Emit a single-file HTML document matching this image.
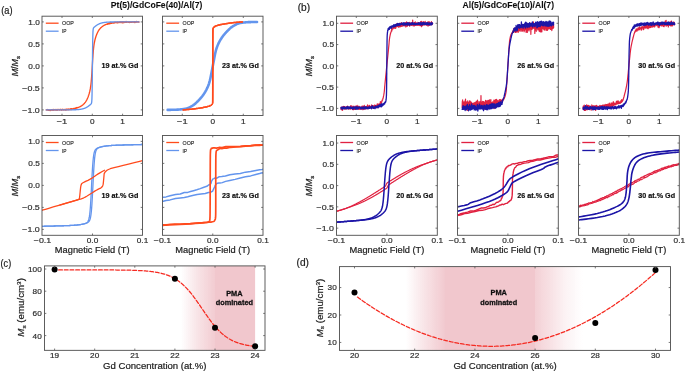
<!DOCTYPE html>
<html><head><meta charset="utf-8"><style>html,body{margin:0;padding:0;background:#fff;width:685px;height:371px;overflow:hidden}svg{display:block}</style></head><body>
<svg width="685" height="371" viewBox="0 0 685 371" font-family='"Liberation Sans", sans-serif'>
<rect width="685" height="371" fill="#fff"/>
<defs>
<clipPath id="ca1"><rect x="42" y="16.2" width="100.5" height="99.3"/></clipPath>
<clipPath id="ca2"><rect x="162.5" y="16.2" width="100.5" height="99.3"/></clipPath>
<clipPath id="cb1"><rect x="336.5" y="16.2" width="100.8" height="99.3"/></clipPath>
<clipPath id="cb2"><rect x="457.5" y="16.2" width="100.8" height="99.3"/></clipPath>
<clipPath id="cb3"><rect x="578.5" y="16.2" width="100.8" height="99.3"/></clipPath>
<clipPath id="ca3"><rect x="42" y="135.5" width="100.5" height="99.8"/></clipPath>
<clipPath id="ca4"><rect x="162.5" y="135.5" width="100.5" height="99.8"/></clipPath>
<clipPath id="cb4"><rect x="336.5" y="135.5" width="100.8" height="99.8"/></clipPath>
<clipPath id="cb5"><rect x="457.5" y="135.5" width="100.8" height="99.8"/></clipPath>
<clipPath id="cb6"><rect x="578.5" y="135.5" width="100.8" height="99.8"/></clipPath>
<clipPath id="cpc"><rect x="44.5" y="265.9" width="220.5" height="84.45"/></clipPath>
<clipPath id="cpd"><rect x="339.5" y="266.6" width="331" height="83.8"/></clipPath>
<linearGradient id="gc" x1="0" x2="1" y1="0" y2="0"><stop offset="0.0000" stop-color="#f1c7cd" stop-opacity="0"/><stop offset="0.2297" stop-color="#f1c7cd" stop-opacity="0.5"/><stop offset="0.4595" stop-color="#f1c7cd" stop-opacity="0.92"/><stop offset="0.4595" stop-color="#f1c7cd" stop-opacity="1"/><stop offset="1.0000" stop-color="#f1c7cd" stop-opacity="1"/></linearGradient>
<linearGradient id="gd" x1="0" x2="1" y1="0" y2="0"><stop offset="0.0000" stop-color="#f1c7cd" stop-opacity="0"/><stop offset="0.1102" stop-color="#f1c7cd" stop-opacity="0.5"/><stop offset="0.2203" stop-color="#f1c7cd" stop-opacity="0.95"/><stop offset="0.2203" stop-color="#f1c7cd" stop-opacity="1"/><stop offset="0.7288" stop-color="#f1c7cd" stop-opacity="1"/><stop offset="0.7288" stop-color="#f1c7cd" stop-opacity="0.84"/><stop offset="0.8102" stop-color="#f1c7cd" stop-opacity="0.55"/><stop offset="0.9051" stop-color="#f1c7cd" stop-opacity="0.2"/><stop offset="1.0000" stop-color="#f1c7cd" stop-opacity="0"/></linearGradient>
<filter id="soft" filterUnits="userSpaceOnUse" x="0" y="0" width="685" height="371"><feGaussianBlur stdDeviation="0.35"/></filter>
</defs>
<g filter="url(#soft)">
<rect x="180.91" y="265.9" width="74.19" height="84.45" fill="url(#gc)"/>
<rect x="405.67" y="266.6" width="177.59" height="83.8" fill="url(#gd)"/>
<path d="M46.24,109.89 46.4,109.81 46.55,109.96 46.71,110.12 46.86,110.01 47.02,110.15 47.17,109.87 47.33,109.53 47.48,110.01 47.64,110.05 47.79,109.75 47.95,109.79 48.1,109.85 48.26,110.13 48.41,109.89 48.57,109.7 48.72,110.24 48.88,110 49.03,110.38 49.18,110.22 49.34,110.36 49.49,109.94 49.65,110.21 49.8,109.8 49.96,109.83 50.11,109.92 50.27,110.54 50.42,110.02 50.58,109.89 50.73,109.84 50.89,110.28 51.04,110 51.2,110.13 51.35,110.08 51.51,109.59 51.66,110.08 51.82,109.88 51.97,109.63 52.13,110.02 52.28,109.89 52.44,109.83 52.59,109.85 52.75,110.18 52.9,109.84 53.05,109.5 53.21,110.27 53.36,109.63 53.52,109.82 53.67,110.02 53.83,109.33 53.98,109.65 54.14,110.17 54.29,109.83 54.45,109.7 54.6,109.9 54.76,109.67 54.91,109.86 55.07,109.67 55.22,109.46 55.38,110.02 55.53,109.79 55.69,109.96 55.84,109.8 56,110.15 56.15,109.99 56.31,109.88 56.46,109.59 56.61,109.52 56.77,110.17 56.92,110.03 57.08,109.65 57.23,110.35 57.39,109.94 57.54,109.84 57.7,109.48 57.85,109.63 58.01,109.89 58.16,109.9 58.32,109.87 58.47,109.4 58.63,109.91 58.78,109.88 58.94,109.7 59.09,109.82 59.25,109.84 59.4,110.08 59.56,109.78 59.71,109.9 59.87,109.47 60.02,109.6 60.17,109.78 60.33,109.59 60.48,109.85 60.64,109.48 60.79,109.76 60.95,109.6 61.1,110.09 61.26,109.65 61.41,110.19 61.57,110.27 61.72,109.81 61.88,109.96 62.03,109.68 62.19,109.13 62.34,109.93 62.5,109.87 62.65,109.65 62.81,109.57 62.96,109.74 63.12,109.74 63.27,109.5 63.43,109.54 63.58,109.94 63.74,109.69 63.89,109.65 64.04,109.93 64.2,109.58 64.35,109.87 64.51,109.38 64.66,109.58 64.82,109.6 64.97,109.77 65.13,109.64 65.28,110.12 65.44,109.89 65.59,109.49 65.75,110.14 65.9,109.34 66.06,110.02 66.21,109.35 66.37,109.76 66.52,109.32 66.68,109.49 66.83,109.92 66.99,109.17 67.14,109.11 67.3,109.5 67.45,109.54 67.6,109.5 67.76,109.7 67.91,109.15 68.07,109.57 68.22,109.43 68.38,109.61 68.53,109.55 68.69,109.71 68.84,109.03 69,109.39 69.15,109.08 69.31,109.31 69.46,109.49 69.62,109.37 69.77,109.42 69.93,109.25 70.08,109.34 70.24,109.3 70.39,109.57 70.55,109.4 70.7,108.73 70.86,109.33 71.01,109.41 71.16,109.02 71.32,108.72 71.47,109.46 71.63,109.11 71.78,109.2 71.94,109.47 72.09,108.79 72.25,108.97 72.4,108.92 72.56,109.12 72.71,108.77 72.87,109.01 73.02,108.88 73.18,109.11 73.33,109.11 73.49,108.41 73.64,108.86 73.8,108.62 73.95,108.68 74.11,108.76 74.26,108.74 74.42,108.41 74.57,108.62 74.72,108.55 74.88,108.47 75.03,108.13 75.19,108.22 75.34,108.27 75.5,108.48 75.65,108.65 75.81,108 75.96,107.95 76.12,108.2 76.27,107.98 76.43,107.87 76.58,107.81 76.74,107.74 76.89,108.06 77.05,107.49 77.2,107.84 77.36,107.79 77.51,107.74 77.67,107.68 77.82,107.63 77.98,107.57 78.13,107.52 78.29,107.46 78.44,107.4 78.59,107.34 78.75,107.27 78.9,107.21 79.06,107.14 79.21,107.07 79.37,107 79.52,106.93 79.68,106.86 79.83,106.78 79.99,106.7 80.14,106.62 80.3,106.54 80.45,106.46 80.61,106.37 80.76,106.29 80.92,106.2 81.07,106.1 81.23,106.01 81.38,105.91 81.54,105.81 81.69,105.71 81.85,105.6 82,105.49 82.15,105.38 82.31,105.27 82.46,105.15 82.62,105.03 82.77,104.9 82.93,104.77 83.08,104.64 83.24,104.5 83.39,104.36 83.55,104.22 83.7,104.07 83.86,103.92 84.01,103.76 84.17,103.59 84.32,103.43 84.48,103.25 84.63,103.07 84.79,102.89 84.94,102.69 85.1,102.49 85.25,102.29 85.41,102.08 85.56,101.86 85.71,101.63 85.87,101.39 86.02,101.15 86.18,100.9 86.33,100.64 86.49,100.37 86.64,100.09 86.8,99.8 86.95,99.49 87.11,99.18 87.26,98.86 87.42,98.52 87.57,98.17 87.73,97.81 87.88,97.43 88.04,97.04 88.19,96.64 88.35,96.21 88.5,95.78 88.66,95.32 88.81,94.84 88.97,94.35 89.12,93.83 89.28,93.28 89.43,92.71 89.58,92.11 89.74,91.47 89.89,90.78 90.05,90.05 90.2,89.26 90.36,88.4 90.51,87.46 90.67,86.42 90.82,85.26 90.98,83.97 91.13,82.52 91.29,80.9 91.44,79.09 91.6,77.08 91.75,74.87 91.91,72.49 92.06,69.96 92.22,67.34 92.37,64.68 92.53,62.06 92.68,59.52 92.84,57.12 92.99,54.9 93.14,52.87 93.3,51.05 93.45,49.41 93.61,47.95 93.76,46.64 93.92,45.48 94.07,44.43 94.23,43.48 94.38,42.61 94.54,41.81 94.69,41.08 94.85,40.39 95,39.75 95.16,39.14 95.31,38.56 95.47,38.02 95.62,37.5 95.78,37 95.93,36.52 96.09,36.06 96.24,35.62 96.4,35.2 96.55,34.79 96.7,34.4 96.86,34.02 97.01,33.66 97.17,33.31 97.32,32.97 97.48,32.65 97.63,32.33 97.79,32.03 97.94,31.74 98.1,31.46 98.25,31.19 98.41,30.92 98.56,30.67 98.72,30.43 98.87,30.19 99.03,29.96 99.18,29.74 99.34,29.53 99.49,29.32 99.65,29.12 99.8,28.93 99.96,28.74 100.11,28.56 100.27,28.39 100.42,28.22 100.57,28.06 100.73,27.9 100.88,27.74 101.04,27.59 101.19,27.45 101.35,27.31 101.5,27.17 101.66,27.04 101.81,26.91 101.97,26.78 102.12,26.66 102.28,26.54 102.43,26.43 102.59,26.32 102.74,26.21 102.9,26.1 103.05,26 103.21,25.9 103.36,25.8 103.52,25.7 103.67,25.61 103.83,25.52 103.98,25.43 104.13,25.35 104.29,25.26 104.44,25.18 104.6,25.1 104.75,25.03 104.91,24.95 105.06,24.88 105.22,24.8 105.37,24.73 105.53,24.67 105.68,24.6 105.84,24.53 105.99,24.47 106.15,24.41 106.3,24.35 106.46,24.29 106.61,24.23 106.77,24.17 106.92,24.12 107.08,24.07 107.23,24.01 107.39,23.96 107.54,23.86 107.69,23.6 107.85,24.27 108,23.98 108.16,23.68 108.31,23.58 108.47,23.74 108.62,23.32 108.78,23.5 108.93,23.83 109.09,23.72 109.24,23.22 109.4,23.28 109.55,23.86 109.71,22.97 109.86,23.14 110.02,22.9 110.17,23.33 110.33,23.27 110.48,23.46 110.64,22.46 110.79,23.15 110.95,22.65 111.1,23.21 111.25,22.97 111.41,23.43 111.56,23.06 111.72,22.68 111.87,23.24 112.03,22.6 112.18,22.77 112.34,23.11 112.49,22.95 112.65,22.91 112.8,22.78 112.96,22.89 113.11,22.95 113.27,22.79 113.42,22.96 113.58,23.01 113.73,22.66 113.89,22.4 114.04,23.02 114.2,22.59 114.35,22.75 114.51,22.82 114.66,22.32 114.82,22.67 114.97,22.12 115.12,22.7 115.28,22.38 115.43,22.53 115.59,22.65 115.74,22.29 115.9,22.47 116.05,22.26 116.21,22.41 116.36,22.68 116.52,22.4 116.67,22.35 116.83,22.1 116.98,22.58 117.14,22.34 117.29,22.78 117.45,22.14 117.6,22.59 117.76,22.77 117.91,22.3 118.07,21.98 118.22,22.66 118.38,22.54 118.53,22.44 118.68,22.53 118.84,22.13 118.99,22.43 119.15,22.4 119.3,22.05 119.46,22.4 119.61,22.07 119.77,22.44 119.92,22.49 120.08,22.65 120.23,21.67 120.39,22.24 120.54,22.08 120.7,22.15 120.85,22.09 121.01,22.12 121.16,21.62 121.32,22.39 121.47,22.52 121.63,22.37 121.78,22.45 121.94,21.9 122.09,21.88 122.24,22.34 122.4,22.45 122.55,22.17 122.71,21.71 122.86,22.81 123.02,21.93 123.17,22.34 123.33,21.78 123.48,22.34 123.64,22.12 123.79,22.44 123.95,22.3 124.1,21.67 124.26,21.82 124.41,22.14 124.57,22.26 124.72,22.52 124.88,22.13 125.03,22.03 125.19,22.04 125.34,22.04 125.5,22.31 125.65,22.02 125.81,22.01 125.96,21.66 126.11,21.51 126.27,22.03 126.42,22.2 126.58,22.01 126.73,22.15 126.89,22.18 127.04,22 127.2,22.26 127.35,21.82 127.51,22.01 127.66,21.91 127.82,22.02 127.97,22.17 128.13,22.22 128.28,22.03 128.44,22.11 128.59,21.9 128.75,21.97 128.9,22.32 129.06,21.94 129.21,22.31 129.37,22.12 129.52,22.03 129.67,22.5 129.83,21.93 129.98,21.91 130.14,21.99 130.29,22.06 130.45,22.05 130.6,22.21 130.76,22.02 130.91,22.09 131.07,21.92 131.22,22.26 131.38,21.88 131.53,21.9 131.69,21.98 131.84,22.05 132,21.79 132.15,22.38 132.31,21.81 132.46,21.87 132.62,21.86 132.77,21.83 132.93,22.1 133.08,22 133.23,21.76 133.39,21.82 133.54,21.87 133.7,22.33 133.85,21.79 134.01,21.62 134.16,21.66 134.32,21.86 134.47,22.34 134.63,21.68 134.78,21.96 134.94,22.59 135.09,21.82 135.25,22.32 135.4,22.26 135.56,22.09 135.71,21.58 135.87,22.02 136.02,21.85 136.18,21.46 136.33,21.5 136.49,21.95 136.64,21.98 136.79,22.25 136.95,22.1 137.1,21.8 137.26,21.81 137.41,21.89 137.57,21.65 137.72,22.12 137.88,21.93 138.03,21.72 138.19,21.76 138.34,21.63 138.5,21.81 138.65,21.99 138.81,21.82 138.96,22.18" fill="none" stroke="#ff4b1f" stroke-width="1.35" stroke-linejoin="round" stroke-linecap="round" clip-path="url(#ca1)"/>
<path d="M46.24,109.9 46.4,109.9 46.55,109.9 46.71,109.9 46.86,109.9 47.02,109.9 47.17,109.9 47.33,109.9 47.48,109.9 47.64,109.9 47.79,109.9 47.95,109.9 48.1,109.9 48.26,109.9 48.41,109.9 48.57,109.9 48.72,109.9 48.88,109.9 49.03,109.9 49.18,109.9 49.34,109.9 49.49,109.9 49.65,109.9 49.8,109.9 49.96,109.9 50.11,109.9 50.27,109.9 50.42,109.9 50.58,109.9 50.73,109.9 50.89,109.9 51.04,109.9 51.2,109.9 51.35,109.9 51.51,109.9 51.66,109.9 51.82,109.9 51.97,109.9 52.13,109.9 52.28,109.9 52.44,109.9 52.59,109.9 52.75,109.9 52.9,109.9 53.05,109.9 53.21,109.9 53.36,109.9 53.52,109.9 53.67,109.9 53.83,109.9 53.98,109.9 54.14,109.9 54.29,109.9 54.45,109.9 54.6,109.9 54.76,109.9 54.91,109.9 55.07,109.9 55.22,109.9 55.38,109.9 55.53,109.9 55.69,109.9 55.84,109.9 56,109.9 56.15,109.9 56.31,109.9 56.46,109.9 56.61,109.9 56.77,109.9 56.92,109.9 57.08,109.9 57.23,109.9 57.39,109.9 57.54,109.9 57.7,109.9 57.85,109.9 58.01,109.9 58.16,109.9 58.32,109.9 58.47,109.9 58.63,109.9 58.78,109.9 58.94,109.9 59.09,109.9 59.25,109.9 59.4,109.9 59.56,109.9 59.71,109.9 59.87,109.9 60.02,109.9 60.17,109.9 60.33,109.9 60.48,109.9 60.64,109.9 60.79,109.9 60.95,109.9 61.1,109.9 61.26,109.9 61.41,109.9 61.57,109.9 61.72,109.9 61.88,109.9 62.03,109.9 62.19,109.9 62.34,109.89 62.5,109.89 62.65,109.89 62.81,109.89 62.96,109.89 63.12,109.89 63.27,109.89 63.43,109.89 63.58,109.89 63.74,109.89 63.89,109.89 64.04,109.89 64.2,109.89 64.35,109.89 64.51,109.89 64.66,109.89 64.82,109.89 64.97,109.89 65.13,109.89 65.28,109.89 65.44,109.89 65.59,109.89 65.75,109.89 65.9,109.89 66.06,109.89 66.21,109.89 66.37,109.89 66.52,109.88 66.68,109.88 66.83,109.88 66.99,109.88 67.14,109.88 67.3,109.88 67.45,109.88 67.6,109.88 67.76,109.88 67.91,109.88 68.07,109.88 68.22,109.88 68.38,109.87 68.53,109.87 68.69,109.87 68.84,109.87 69,109.87 69.15,109.87 69.31,109.87 69.46,109.87 69.62,109.86 69.77,109.86 69.93,109.86 70.08,109.86 70.24,109.86 70.39,109.86 70.55,109.86 70.7,109.85 70.86,109.85 71.01,109.85 71.16,109.85 71.32,109.84 71.47,109.84 71.63,109.84 71.78,109.84 71.94,109.84 72.09,109.83 72.25,109.83 72.4,109.83 72.56,109.82 72.71,109.82 72.87,109.82 73.02,109.81 73.18,109.81 73.33,109.81 73.49,109.8 73.64,109.8 73.8,109.79 73.95,109.79 74.11,109.79 74.26,109.78 74.42,109.78 74.57,109.77 74.72,109.77 74.88,109.76 75.03,109.75 75.19,109.75 75.34,109.74 75.5,109.74 75.65,109.73 75.81,109.72 75.96,109.71 76.12,109.71 76.27,109.7 76.43,109.69 76.58,109.68 76.74,109.67 76.89,109.66 77.05,109.65 77.2,109.64 77.36,109.63 77.51,109.62 77.67,109.61 77.82,109.6 77.98,109.59 78.13,109.57 78.29,109.56 78.44,109.55 78.59,109.53 78.75,109.52 78.9,109.5 79.06,109.49 79.21,109.47 79.37,109.45 79.52,109.43 79.68,109.41 79.83,109.4 79.99,109.37 80.14,109.35 80.3,109.33 80.45,109.31 80.61,109.29 80.76,109.26 80.92,109.24 81.07,109.21 81.23,109.18 81.38,109.15 81.54,109.12 81.69,109.09 81.85,109.06 82,109.03 82.15,109 82.31,108.96 82.46,108.92 82.62,108.89 82.77,108.85 82.93,108.81 83.08,108.76 83.24,108.72 83.39,108.68 83.55,108.63 83.7,108.58 83.86,108.53 84.01,108.48 84.17,108.43 84.32,108.37 84.48,108.32 84.63,108.26 84.79,108.2 84.94,108.14 85.1,108.07 85.25,108.01 85.41,107.94 85.56,107.87 85.71,107.8 85.87,107.72 86.02,107.64 86.18,107.57 86.33,107.49 86.49,107.4 86.64,107.32 86.8,107.23 86.95,107.14 87.11,107.05 87.26,106.95 87.42,106.86 87.57,106.76 87.73,106.66 87.88,106.56 88.04,106.45 88.19,106.34 88.35,106.23 88.5,106.12 88.66,106.01 88.81,105.89 88.97,105.77 89.12,105.65 89.28,105.53 89.43,105.41 89.58,105.28 89.74,105.15 89.89,105.02 90.05,104.89 90.2,104.76 90.36,104.62 90.51,104.49 90.67,104.35 90.82,104.2 90.98,104.05 91.13,103.87 91.29,103.65 91.44,103.32 91.6,102.73 91.75,101.56 91.91,99.11 92.06,94.11 92.22,84.87 92.37,70.92 92.53,55.36 92.68,42.91 92.84,35.32 92.99,31.4 93.14,29.51 93.3,28.6 93.45,28.13 93.61,27.84 93.76,27.64 93.92,27.48 94.07,27.33 94.23,27.19 94.38,27.05 94.54,26.92 94.69,26.79 94.85,26.66 95,26.53 95.16,26.4 95.31,26.28 95.47,26.16 95.62,26.04 95.78,25.92 95.93,25.8 96.09,25.69 96.24,25.58 96.4,25.47 96.55,25.36 96.7,25.25 96.86,25.15 97.01,25.05 97.17,24.95 97.32,24.85 97.48,24.76 97.63,24.67 97.79,24.58 97.94,24.49 98.1,24.4 98.25,24.32 98.41,24.24 98.56,24.16 98.72,24.09 98.87,24.01 99.03,23.94 99.18,23.87 99.34,23.8 99.49,23.73 99.65,23.67 99.8,23.61 99.96,23.55 100.11,23.49 100.27,23.43 100.42,23.38 100.57,23.32 100.73,23.27 100.88,23.22 101.04,23.17 101.19,23.13 101.35,23.08 101.5,23.04 101.66,23 101.81,22.96 101.97,22.92 102.12,22.88 102.28,22.84 102.43,22.81 102.59,22.77 102.74,22.74 102.9,22.71 103.05,22.68 103.21,22.65 103.36,22.62 103.52,22.59 103.67,22.57 103.83,22.54 103.98,22.52 104.13,22.49 104.29,22.47 104.44,22.45 104.6,22.43 104.75,22.41 104.91,22.39 105.06,22.37 105.22,22.35 105.37,22.33 105.53,22.32 105.68,22.3 105.84,22.28 105.99,22.27 106.15,22.25 106.3,22.24 106.46,22.23 106.61,22.21 106.77,22.2 106.92,22.19 107.08,22.18 107.23,22.17 107.39,22.16 107.54,22.15 107.69,22.14 107.85,22.13 108,22.12 108.16,22.11 108.31,22.1 108.47,22.09 108.62,22.09 108.78,22.08 108.93,22.07 109.09,22.07 109.24,22.06 109.4,22.05 109.55,22.05 109.71,22.04 109.86,22.04 110.02,22.03 110.17,22.02 110.33,22.02 110.48,22.01 110.64,22.01 110.79,22.01 110.95,22 111.1,22 111.25,21.99 111.41,21.99 111.56,21.99 111.72,21.98 111.87,21.98 112.03,21.98 112.18,21.97 112.34,21.97 112.49,21.97 112.65,21.97 112.8,21.96 112.96,21.96 113.11,21.96 113.27,21.96 113.42,21.95 113.58,21.95 113.73,21.95 113.89,21.95 114.04,21.95 114.2,21.94 114.35,21.94 114.51,21.94 114.66,21.94 114.82,21.94 114.97,21.94 115.12,21.93 115.28,21.93 115.43,21.93 115.59,21.93 115.74,21.93 115.9,21.93 116.05,21.93 116.21,21.93 116.36,21.92 116.52,21.92 116.67,21.92 116.83,21.92 116.98,21.92 117.14,21.92 117.29,21.92 117.45,21.92 117.6,21.92 117.76,21.92 117.91,21.92 118.07,21.92 118.22,21.91 118.38,21.91 118.53,21.91 118.68,21.91 118.84,21.91 118.99,21.91 119.15,21.91 119.3,21.91 119.46,21.91 119.61,21.91 119.77,21.91 119.92,21.91 120.08,21.91 120.23,21.91 120.39,21.91 120.54,21.91 120.7,21.91 120.85,21.91 121.01,21.91 121.16,21.91 121.32,21.91 121.47,21.91 121.63,21.91 121.78,21.91 121.94,21.91 122.09,21.91 122.24,21.91 122.4,21.9 122.55,21.9 122.71,21.9 122.86,21.9 123.02,21.9 123.17,21.9 123.33,21.9 123.48,21.9 123.64,21.9 123.79,21.9 123.95,21.9 124.1,21.9 124.26,21.9 124.41,21.9 124.57,21.9 124.72,21.9 124.88,21.9 125.03,21.9 125.19,21.9 125.34,21.9 125.5,21.9 125.65,21.9 125.81,21.9 125.96,21.9 126.11,21.9 126.27,21.9 126.42,21.9 126.58,21.9 126.73,21.9 126.89,21.9 127.04,21.9 127.2,21.9 127.35,21.9 127.51,21.9 127.66,21.9 127.82,21.9 127.97,21.9 128.13,21.9 128.28,21.9 128.44,21.9 128.59,21.9 128.75,21.9 128.9,21.9 129.06,21.9 129.21,21.9 129.37,21.9 129.52,21.9 129.67,21.9 129.83,21.9 129.98,21.9 130.14,21.9 130.29,21.9 130.45,21.9 130.6,21.9 130.76,21.9 130.91,21.9 131.07,21.9 131.22,21.9 131.38,21.9 131.53,21.9 131.69,21.9 131.84,21.9 132,21.9 132.15,21.9 132.31,21.9 132.46,21.9 132.62,21.9 132.77,21.9 132.93,21.9 133.08,21.9 133.23,21.9 133.39,21.9 133.54,21.9 133.7,21.9 133.85,21.9 134.01,21.9 134.16,21.9 134.32,21.9 134.47,21.9 134.63,21.9 134.78,21.9 134.94,21.9 135.09,21.9 135.25,21.9 135.4,21.9 135.56,21.9 135.71,21.9 135.87,21.9 136.02,21.9 136.18,21.9 136.33,21.9 136.49,21.9 136.64,21.9 136.79,21.9 136.95,21.9 137.1,21.9 137.26,21.9 137.41,21.9 137.57,21.9 137.72,21.9 137.88,21.9 138.03,21.9 138.19,21.9 138.34,21.9 138.5,21.9 138.65,21.9 138.81,21.9 138.96,21.9" fill="none" stroke="#6495ed" stroke-width="1.35" stroke-linejoin="round" stroke-linecap="round" clip-path="url(#ca1)"/>
<path d="M167.66,109.88 167.96,109.87 168.26,109.87 168.56,109.86 168.86,109.86 169.15,109.85 169.45,109.85 169.75,109.84 170.05,109.84 170.35,109.83 170.65,109.83 170.95,109.82 171.25,109.81 171.55,109.81 171.84,109.8 172.14,109.79 172.44,109.79 172.74,109.78 173.04,109.77 173.34,109.76 173.64,109.76 173.94,109.75 174.24,109.74 174.53,109.73 174.83,109.72 175.13,109.71 175.43,109.7 175.73,109.69 176.03,109.69 176.33,109.68 176.63,109.67 176.93,109.65 177.22,109.64 177.52,109.63 177.82,109.61 178.12,109.59 178.42,109.58 178.72,109.56 179.02,109.54 179.32,109.51 179.62,109.49 179.91,109.47 180.21,109.44 180.51,109.41 180.81,109.39 181.11,109.36 181.41,109.33 181.71,109.29 182.01,109.26 182.31,109.23 182.6,109.19 182.9,109.15 183.2,109.11 183.5,109.07 183.8,109.03 184.1,108.99 184.4,108.95 184.7,108.9 185,108.86 185.29,108.81 185.59,108.76 185.89,108.7 186.19,108.62 186.49,108.54 186.79,108.46 187.09,108.36 187.39,108.25 187.68,108.14 187.98,108.02 188.28,107.9 188.58,107.77 188.88,107.63 189.18,107.49 189.48,107.34 189.78,107.19 190.08,107.03 190.37,106.88 190.67,106.71 190.97,106.55 191.27,106.38 191.57,106.22 191.87,106.05 192.17,105.88 192.47,105.7 192.77,105.51 193.06,105.31 193.36,105.11 193.66,104.89 193.96,104.67 194.26,104.43 194.56,104.19 194.86,103.95 195.16,103.69 195.46,103.43 195.75,103.17 196.05,102.9 196.35,102.62 196.65,102.34 196.95,102.05 197.25,101.76 197.55,101.46 197.85,101.16 198.15,100.86 198.44,100.55 198.74,100.25 199.04,99.94 199.34,99.62 199.64,99.3 199.94,98.98 200.24,98.65 200.54,98.31 200.84,97.97 201.13,97.62 201.43,97.26 201.73,96.89 202.03,96.52 202.33,96.13 202.63,95.74 202.93,95.33 203.23,94.92 203.53,94.5 203.82,94.06 204.12,93.61 204.42,93.15 204.72,92.68 205.02,92.19 205.32,91.7 205.62,91.18 205.92,90.65 206.22,90.1 206.51,89.53 206.81,88.93 207.11,88.3 207.41,87.65 207.71,86.96 208.01,86.24 208.31,85.47 208.61,84.67 208.91,83.83 209.2,82.93 209.5,81.99 209.8,80.91 210.1,79.67 210.4,78.31 210.7,76.85 211,75.32 211.3,73.77 211.6,72.22 211.89,70.69 212.19,69.15 212.49,67.55 212.79,65.95 213.09,64.35 213.39,62.75 213.69,61.2 213.99,59.68 214.29,58.12 214.58,56.57 214.88,55.05 215.18,53.58 215.48,52.21 215.78,50.96 216.08,49.87 216.38,48.92 216.68,48.03 216.98,47.18 217.27,46.37 217.57,45.61 217.87,44.88 218.17,44.19 218.47,43.53 218.77,42.91 219.07,42.31 219.37,41.73 219.67,41.18 219.96,40.65 220.26,40.14 220.56,39.64 220.86,39.15 221.16,38.68 221.46,38.22 221.76,37.77 222.06,37.33 222.35,36.91 222.65,36.49 222.95,36.09 223.25,35.69 223.55,35.31 223.85,34.93 224.15,34.57 224.45,34.21 224.75,33.86 225.04,33.51 225.34,33.17 225.64,32.84 225.94,32.52 226.24,32.2 226.54,31.88 226.84,31.57 227.14,31.26 227.44,30.96 227.73,30.66 228.03,30.36 228.33,30.06 228.63,29.77 228.93,29.48 229.23,29.2 229.53,28.92 229.83,28.65 230.13,28.38 230.42,28.12 230.72,27.87 231.02,27.62 231.32,27.38 231.62,27.15 231.92,26.92 232.22,26.71 232.52,26.5 232.82,26.3 233.11,26.11 233.41,25.93 233.71,25.76 234.01,25.59 234.31,25.43 234.61,25.26 234.91,25.1 235.21,24.93 235.51,24.78 235.8,24.62 236.1,24.47 236.4,24.32 236.7,24.18 237,24.04 237.3,23.91 237.6,23.78 237.9,23.66 238.2,23.55 238.49,23.45 238.79,23.35 239.09,23.26 239.39,23.18 239.69,23.11 239.99,23.05 240.29,22.99 240.59,22.95 240.89,22.9 241.18,22.85 241.48,22.81 241.78,22.77 242.08,22.73 242.38,22.69 242.68,22.65 242.98,22.61 243.28,22.58 243.58,22.54 243.87,22.51 244.17,22.48 244.47,22.45 244.77,22.42 245.07,22.39 245.37,22.36 245.67,22.33 245.97,22.31 246.27,22.29 246.56,22.27 246.86,22.24 247.16,22.23 247.46,22.21 247.76,22.19 248.06,22.17 248.36,22.16 248.66,22.15 248.96,22.14 249.25,22.12 249.55,22.12 249.85,22.11 250.15,22.1 250.45,22.09 250.75,22.08 251.05,22.07 251.35,22.06 251.65,22.05 251.94,22.05 252.24,22.04 252.54,22.03 252.84,22.02 253.14,22.01 253.44,22.01 253.74,22 254.04,21.99 254.34,21.99 254.63,21.98 254.93,21.97 255.23,21.97 255.53,21.96 255.83,21.96 256.13,21.95 256.43,21.95 256.73,21.94 257.03,21.94" fill="none" stroke="#6495ed" stroke-width="2.6" stroke-linejoin="round" stroke-linecap="round" clip-path="url(#ca2)"/>
<path d="M183.15,109.9 183.28,109.89 183.54,109.87 183.93,109.84 184.44,109.8 185.08,109.75 185.86,109.68 186.76,109.61 187.79,109.53 188.78,109.44 189.74,109.36 190.67,109.27 191.57,109.18 192.43,109.09 193.26,108.99 194.06,108.89 194.82,108.79 195.58,108.69 196.35,108.59 197.11,108.48 197.87,108.37 198.63,108.26 199.4,108.14 200.16,108.02 200.92,107.9 201.68,107.78 202.43,107.65 203.18,107.51 203.92,107.36 204.66,107.22 205.4,107.06 206.12,106.9 206.85,106.74 207.53,106.56 208.17,106.38 208.76,106.18 209.32,105.97 209.83,105.76 210.29,105.53 210.72,105.29 211.1,105.05 211.44,104.78 211.73,104.5 211.99,104.2 212.2,103.88 212.36,103.55 212.49,103.2 212.57,102.83 212.61,102.45 212.64,101.01 212.67,98.52 212.69,94.98 212.71,90.39 212.72,84.74 212.73,78.05 212.74,70.3 212.74,61.5 212.74,53.75 212.75,47.06 212.77,41.41 212.79,36.82 212.81,33.28 212.84,30.79 212.87,29.35 212.91,28.97 212.99,28.6 213.12,28.25 213.28,27.92 213.49,27.6 213.74,27.3 214.04,27.02 214.38,26.75 214.76,26.51 215.18,26.27 215.65,26.04 216.16,25.83 216.71,25.62 217.31,25.42 217.95,25.24 218.63,25.06 219.35,24.9 220.08,24.74 220.82,24.58 221.56,24.44 222.3,24.29 223.05,24.16 223.8,24.02 224.56,23.9 225.32,23.78 226.08,23.66 226.85,23.54 227.61,23.43 228.37,23.32 229.13,23.21 229.9,23.11 230.66,23.01 231.42,22.91 232.22,22.81 233.05,22.71 233.91,22.62 234.8,22.53 235.73,22.44 236.7,22.36 237.69,22.27 238.72,22.19 239.62,22.12 240.39,22.05 241.04,22 241.55,21.96 241.94,21.93 242.2,21.91 242.32,21.9" fill="none" stroke="#ff4b1f" stroke-width="1.5" stroke-linejoin="round" stroke-linecap="round" clip-path="url(#ca2)"/>
<path d="M183.31,109.9 183.44,109.89 183.69,109.87 184.08,109.84 184.59,109.8 185.24,109.75 186.01,109.68 186.91,109.61 187.94,109.53 188.93,109.44 189.9,109.36 190.83,109.27 191.72,109.18 192.59,109.09 193.41,108.99 194.21,108.89 194.97,108.79 195.74,108.69 196.5,108.59 197.26,108.48 198.02,108.37 198.79,108.26 199.55,108.14 200.31,108.02 201.07,107.9 201.83,107.78 202.58,107.65 203.33,107.51 204.08,107.36 204.81,107.22 205.55,107.06 206.28,106.9 207,106.74 207.68,106.56 208.32,106.38 208.92,106.18 209.47,105.97 209.98,105.76 210.45,105.53 210.87,105.29 211.25,105.05 211.59,104.78 211.89,104.5 212.14,104.2 212.35,103.88 212.52,103.55 212.64,103.2 212.72,102.83 212.76,102.45 212.79,101.01 212.82,98.52 212.84,94.98 212.86,90.39 212.88,84.74 212.89,78.05 212.89,70.3 212.89,61.5 212.9,53.75 212.91,47.06 212.92,41.41 212.94,36.82 212.96,33.28 212.99,30.79 213.02,29.35 213.06,28.97 213.14,28.6 213.27,28.25 213.43,27.92 213.64,27.6 213.9,27.3 214.19,27.02 214.53,26.75 214.91,26.51 215.34,26.27 215.8,26.04 216.31,25.83 216.87,25.62 217.46,25.42 218.1,25.24 218.78,25.06 219.51,24.9 220.24,24.74 220.97,24.58 221.71,24.44 222.45,24.29 223.2,24.16 223.95,24.02 224.71,23.9 225.47,23.78 226.24,23.66 227,23.54 227.76,23.43 228.52,23.32 229.29,23.21 230.05,23.11 230.81,23.01 231.57,22.91 232.37,22.81 233.2,22.71 234.06,22.62 234.96,22.53 235.89,22.44 236.85,22.36 237.84,22.27 238.87,22.19 239.77,22.12 240.55,22.05 241.19,22 241.7,21.96 242.09,21.93 242.35,21.91 242.48,21.9" fill="none" stroke="#ff4b1f" stroke-width="1.5" stroke-linejoin="round" stroke-linecap="round" clip-path="url(#ca2)"/>
<path d="M341.05,109.36 341.15,107.47 341.25,108.01 341.36,107.7 341.46,109.41 341.56,108.27 341.66,108.47 341.76,108.45 341.86,109.88 341.97,109.51 342.07,107.2 342.17,107.64 342.27,108.47 342.37,107.97 342.47,107.31 342.58,110.31 342.68,108.5 342.78,108.19 342.88,107.37 342.98,106.51 343.09,106.99 343.19,107.69 343.29,107.69 343.39,107.28 343.49,108.41 343.59,107.98 343.7,107.18 343.8,106.24 343.9,108.08 344,107.99 344.1,107.77 344.21,106.8 344.31,107.97 344.41,106.69 344.51,108.76 344.61,108.1 344.71,108.11 344.82,107.27 344.92,107.05 345.02,109.22 345.12,108.71 345.22,107.65 345.32,107.31 345.43,109.23 345.53,107.04 345.63,107.51 345.73,107.51 345.83,108.33 345.94,107.05 346.04,108.13 346.14,106.99 346.24,108.7 346.34,108.65 346.44,107.14 346.55,108.51 346.65,107.34 346.75,106.82 346.85,108.7 346.95,107.85 347.06,108.21 347.16,106.91 347.26,108.44 347.36,108.28 347.46,106.87 347.56,106 347.67,106.2 347.77,107.84 347.87,107.71 347.97,106.59 348.07,108 348.17,108.72 348.28,107.79 348.38,107.5 348.48,108.59 348.58,107.87 348.68,109.11 348.79,107.32 348.89,108.53 348.99,108 349.09,107.7 349.19,107.35 349.29,108.16 349.4,107.45 349.5,108.63 349.6,108.18 349.7,108.74 349.8,106.9 349.9,107.89 350.01,108.49 350.11,108.16 350.21,108.05 350.31,107.26 350.41,109.21 350.52,108.73 350.62,108.17 350.72,105.69 350.82,107.03 350.92,107.99 351.02,107.24 351.13,106.08 351.23,108.04 351.33,108.15 351.43,106.8 351.53,107.02 351.64,107.26 351.74,108.26 351.84,105.75 351.94,106.37 352.04,107.34 352.14,107.24 352.25,109.54 352.35,107.27 352.45,107.98 352.55,107.44 352.65,107.23 352.75,108.1 352.86,109.24 352.96,107.49 353.06,108.43 353.16,108.08 353.26,106.52 353.37,108.08 353.47,109.76 353.57,106.75 353.67,107.57 353.77,106.84 353.87,106.1 353.98,107.76 354.08,109.31 354.18,108.54 354.28,108.8 354.38,108.2 354.48,107.34 354.59,109.47 354.69,107.47 354.79,108.05 354.89,107.5 354.99,107.85 355.1,108.02 355.2,107.81 355.3,107.27 355.4,108.27 355.5,109.18 355.6,107.77 355.71,106.17 355.81,106.05 355.91,106.61 356.01,107.13 356.11,108.3 356.22,106.5 356.32,107.77 356.42,108.93 356.52,107.97 356.62,107.64 356.72,108.08 356.83,107.78 356.93,108.63 357.03,108.02 357.13,105.25 357.23,107.76 357.33,107.9 357.44,107.24 357.54,107.09 357.64,108.25 357.74,107.86 357.84,106.9 357.95,107.45 358.05,107.57 358.15,106.35 358.25,108.25 358.35,107.6 358.45,108.11 358.56,106.39 358.66,109.32 358.76,108.23 358.86,108.1 358.96,107.35 359.07,107.13 359.17,106.46 359.27,108.98 359.37,107 359.47,107.89 359.57,108.2 359.68,107.17 359.78,108.41 359.88,109.39 359.98,107.94 360.08,108.89 360.18,108.17 360.29,107.3 360.39,107.34 360.49,107.28 360.59,107.77 360.69,108.91 360.8,108.24 360.9,108.38 361,108.63 361.1,107.22 361.2,108.14 361.3,109.27 361.41,106.99 361.51,107.67 361.61,107.27 361.71,107.48 361.81,107.03 361.91,107.53 362.02,106.18 362.12,107.2 362.22,107.22 362.32,107.2 362.42,108.79 362.53,107.69 362.63,107.76 362.73,107.36 362.83,109.64 362.93,106.14 363.03,108.73 363.14,108.55 363.24,108.97 363.34,107.76 363.44,107.59 363.54,108.12 363.65,107.43 363.75,107.37 363.85,107.03 363.95,109.1 364.05,107.52 364.15,105.71 364.26,105.29 364.36,108.33 364.46,107.52 364.56,108.18 364.66,106.08 364.76,108.43 364.87,107.86 364.97,107.47 365.07,108.27 365.17,108.25 365.27,107.83 365.38,109.21 365.48,108.65 365.58,107.76 365.68,107.28 365.78,107.56 365.88,108.9 365.99,107.78 366.09,107.73 366.19,106.9 366.29,107.44 366.39,108.12 366.49,106.82 366.6,107.84 366.7,108.34 366.8,108.02 366.9,106.1 367,108.4 367.11,106.33 367.21,107.72 367.31,106.5 367.41,107.81 367.51,107.42 367.61,104.92 367.72,106.62 367.82,107.69 367.92,108.51 368.02,106.97 368.12,106.21 368.23,107.21 368.33,108.71 368.43,107.45 368.53,107.19 368.63,107.11 368.73,106.07 368.84,106.91 368.94,106.48 369.04,108.1 369.14,106.42 369.24,105.36 369.34,106.48 369.45,106.91 369.55,106.99 369.65,105.59 369.75,107.89 369.85,107.18 369.96,106.69 370.06,106.43 370.16,107.43 370.26,106.79 370.36,107.27 370.46,107.62 370.57,107.13 370.67,107.98 370.77,107.01 370.87,106.24 370.97,107.79 371.08,107.16 371.18,106.38 371.28,107.85 371.38,106.77 371.48,108.27 371.58,105.93 371.69,104.92 371.79,105.16 371.89,107.9 371.99,106.22 372.09,106.74 372.19,106.74 372.3,105.5 372.4,107.92 372.5,105.89 372.6,106.82 372.7,105.56 372.81,106.59 372.91,107.31 373.01,106.48 373.11,106.08 373.21,106.66 373.31,106.26 373.42,107.11 373.52,108.46 373.62,105.87 373.72,106.02 373.82,106.48 373.92,106.53 374.03,105.69 374.13,106.7 374.23,107.14 374.33,106.69 374.43,105.11 374.54,107.68 374.64,105.47 374.74,107.5 374.84,107.38 374.94,105.35 375.04,106.49 375.15,107.49 375.25,106.67 375.35,105.42 375.45,105.31 375.55,106.66 375.66,105.93 375.76,105.64 375.86,106.77 375.96,105.89 376.06,106.19 376.16,106.59 376.27,106.52 376.37,105.54 376.47,106.01 376.57,106.49 376.67,107.78 376.77,104.99 376.88,105.72 376.98,105.11 377.08,104.8 377.18,105.28 377.28,103.81 377.39,106.4 377.49,104.97 377.59,105.88 377.69,103.99 377.79,104.07 377.89,107.14 378,106.25 378.1,104.81 378.2,105.06 378.3,104.64 378.4,105.28 378.5,104.77 378.61,104.55 378.71,105.11 378.81,104.12 378.91,106.85 379.01,104.77 379.12,105.69 379.22,103.93 379.32,104.87 379.42,105.37 379.52,104.23 379.62,105.25 379.73,105.18 379.83,105.67 379.93,104.28 380.03,103.77 380.13,103.25 380.24,104.15 380.34,101.52 380.44,103.82 380.54,103.79 380.64,103.15 380.74,102.66 380.85,103.58 380.95,103.35 381.05,103.05 381.15,102.8 381.25,103.27 381.35,101.85 381.46,102.56 381.56,101.85 381.66,102.37 381.76,101.51 381.86,101.29 381.97,101.46 382.07,100.15 382.17,100.64 382.27,99.88 382.37,99.97 382.47,100.23 382.58,99.87 382.68,99.39 382.78,99.17 382.88,98.85 382.98,98.55 383.09,98.28 383.19,97.76 383.29,97.34 383.39,96.9 383.49,96.42 383.59,95.92 383.7,95.39 383.8,94.83 383.9,94.24 384,93.61 384.1,92.95 384.2,92.25 384.31,91.37 384.41,90.23 384.51,88.96 384.61,87.72 384.71,86.61 384.82,85.54 384.92,84.48 385.02,83.43 385.12,82.39 385.22,81.36 385.32,80.34 385.43,79.32 385.53,78.32 385.63,77.31 385.73,76.31 385.83,75.32 385.93,74.33 386.04,73.33 386.14,72.34 386.24,71.35 386.34,70.36 386.44,69.37 386.55,68.37 386.65,67.36 386.75,66.36 386.85,65.34 386.95,64.34 387.05,63.33 387.16,62.33 387.26,61.34 387.36,60.35 387.46,59.36 387.56,58.37 387.67,57.37 387.77,56.38 387.87,55.39 387.97,54.39 388.07,53.38 388.17,52.38 388.28,51.36 388.38,50.34 388.48,49.31 388.58,48.27 388.68,47.22 388.78,46.16 388.89,45.09 388.99,43.98 389.09,42.74 389.19,41.47 389.29,40.33 389.4,39.45 389.5,38.75 389.6,38.09 389.7,37.46 389.8,36.87 389.9,36.31 390.01,35.78 390.11,35.28 390.21,34.8 390.31,34.36 390.41,33.94 390.51,33.49 390.62,33.4 390.72,32.84 390.82,32.65 390.92,32.18 391.02,31.87 391.13,31.94 391.23,31.62 391.33,30.73 391.43,30.42 391.53,30.97 391.63,29.49 391.74,29.07 391.84,31.01 391.94,29.67 392.04,28.13 392.14,28.91 392.25,29.06 392.35,29.15 392.45,29.21 392.55,28.83 392.65,28.92 392.75,28.28 392.86,28.54 392.96,28.45 393.06,28.94 393.16,27.91 393.26,28.5 393.36,27.82 393.47,26.71 393.57,27.2 393.67,25.68 393.77,27.06 393.87,27.24 393.98,27.03 394.08,28.18 394.18,26.44 394.28,27.94 394.38,25.82 394.48,26.86 394.59,27.47 394.69,27.19 394.79,27.15 394.89,26.51 394.99,26.21 395.1,25.57 395.2,27.15 395.3,28.36 395.4,27 395.5,28.04 395.6,26.31 395.71,25.33 395.81,25.63 395.91,27.87 396.01,26.74 396.11,24.53 396.21,25 396.32,26.42 396.42,25.02 396.52,23.79 396.62,24.74 396.72,25.68 396.83,25.46 396.93,25.2 397.03,26.22 397.13,26.56 397.23,25.25 397.33,26.4 397.44,25.62 397.54,25.45 397.64,23.52 397.74,26.2 397.84,25.56 397.94,25.57 398.05,25.03 398.15,24.49 398.25,26.1 398.35,26.03 398.45,27.1 398.56,26.08 398.66,24.82 398.76,26.25 398.86,26.1 398.96,25.54 399.06,24.56 399.17,24.76 399.27,25.68 399.37,25.37 399.47,26.69 399.57,26.11 399.68,23.73 399.78,26.96 399.88,25.38 399.98,23.14 400.08,25.37 400.18,25.73 400.29,25.08 400.39,25.01 400.49,25.06 400.59,26.58 400.69,25.09 400.79,25.68 400.9,25.41 401,24.73 401.1,24.37 401.2,24.14 401.3,26.31 401.41,22.53 401.51,23.86 401.61,23.88 401.71,23.65 401.81,24.95 401.91,24.96 402.02,26.05 402.12,25.95 402.22,24.6 402.32,25.22 402.42,25.07 402.52,26.22 402.63,25.49 402.73,24.74 402.83,23.95 402.93,23.85 403.03,24.75 403.14,24.84 403.24,25.37 403.34,24.31 403.44,24.85 403.54,24.12 403.64,23.13 403.75,24.64 403.85,25.88 403.95,25.33 404.05,25.82 404.15,25.59 404.26,23.45 404.36,24.36 404.46,25.84 404.56,23.98 404.66,23.45 404.76,24.82 404.87,25.08 404.97,24.79 405.07,24.27 405.17,23.94 405.27,23.47 405.37,22.67 405.48,23.45 405.58,23.29 405.68,23.88 405.78,26.92 405.88,24.54 405.99,24.15 406.09,24.74 406.19,23.63 406.29,24.7 406.39,25.18 406.49,22.4 406.6,21.86 406.7,24.18 406.8,23.57 406.9,23.45 407,24.06 407.11,26.43 407.21,24.91 407.31,24.72 407.41,25.16 407.51,24.15 407.61,23.3 407.72,24.72 407.82,25.27 407.92,22.57 408.02,24.67 408.12,25.33 408.22,24.07 408.33,23.91 408.43,24.87 408.53,23.59 408.63,24.67 408.73,25.04 408.84,24.09 408.94,23.58 409.04,24.77 409.14,23.95 409.24,24.31 409.34,22.31 409.45,24.82 409.55,23.03 409.65,26.16 409.75,24.31 409.85,23.59 409.95,24.33 410.06,23.11 410.16,23.91 410.26,24.69 410.36,24.64 410.46,23.74 410.57,23.68 410.67,22.98 410.77,23.81 410.87,23.26 410.97,22.87 411.07,24.01 411.18,25.42 411.28,24 411.38,25.37 411.48,22.79 411.58,24.86 411.69,23.09 411.79,23.63 411.89,22.67 411.99,23.27 412.09,24.21 412.19,24.29 412.3,24.04 412.4,23.96 412.5,24.56 412.6,24.14 412.7,20.02 412.8,25.55 412.91,23.88 413.01,24.87 413.11,23.93 413.21,23.37 413.31,24.14 413.42,23.43 413.52,25.43 413.62,23.14 413.72,24.59 413.82,23.54 413.92,23.91 414.03,26.27 414.13,24.71 414.23,23.87 414.33,22.73 414.43,23.81 414.53,23.83 414.64,25.25 414.74,22.32 414.84,22.5 414.94,23.08 415.04,24.22 415.15,25.41 415.25,24.46 415.35,21.73 415.45,23.42 415.55,22.95 415.65,23.93 415.76,24.86 415.86,22.88 415.96,25.06 416.06,24.19 416.16,23.77 416.27,23.06 416.37,23.65 416.47,23.67 416.57,24.64 416.67,25.09 416.77,23.29 416.88,24.78 416.98,25.1 417.08,25.06 417.18,24.4 417.28,24.45 417.38,25.12 417.49,23.26 417.59,23.81 417.69,23.62 417.79,22.26 417.89,25.44 418,24.54 418.1,23.99 418.2,24.14 418.3,24.23 418.4,22.49 418.5,24.23 418.61,24.93 418.71,25.06 418.81,23.65 418.91,23.68 419.01,25.1 419.12,24.77 419.22,23.47 419.32,23.05 419.42,24.47 419.52,23.39 419.62,23.43 419.73,25.44 419.83,23.8 419.93,23.56 420.03,24.35 420.13,25.73 420.23,24.15 420.34,23.26 420.44,22.56 420.54,25.76 420.64,21.67 420.74,24.85 420.85,23.08 420.95,22.84 421.05,23.05 421.15,23.76 421.25,25.12 421.35,23.35 421.46,24.49 421.56,26.63 421.66,21.47 421.76,23.27 421.86,22.32 421.96,24.13 422.07,22.62 422.17,22.51 422.27,22.54 422.37,23.88 422.47,24.88 422.58,24.01 422.68,25.73 422.78,25.3 422.88,23.77 422.98,24.69 423.08,23.99 423.19,23.94 423.29,21.65 423.39,21.95 423.49,23.88 423.59,22.81 423.7,24.5 423.8,24.12 423.9,23.06 424,24.89 424.1,24.07 424.2,24.95 424.31,23.73 424.41,22.44 424.51,22.89 424.61,23.63 424.71,24.58 424.81,24.8 424.92,24.87 425.02,22.58 425.12,21.39 425.22,23.4 425.32,24.42 425.43,23.21 425.53,24.09 425.63,23.12 425.73,23.56 425.83,23.56 425.93,23 426.04,24.29 426.14,24.14 426.24,25.26 426.34,24.9 426.44,25 426.54,23.91 426.65,24.6 426.75,23.7 426.85,25.14 426.95,24.98 427.05,24.48 427.16,24.59 427.26,23.15 427.36,22.33 427.46,23.05 427.56,24.08 427.66,22.53 427.77,25.06 427.87,22.5 427.97,24.33 428.07,26.14 428.17,21.51 428.28,22.43 428.38,24.65 428.48,23.62 428.58,23.95 428.68,23.68 428.78,25.03 428.89,24.34 428.99,22.97 429.09,23.57 429.19,22.74 429.29,23.69 429.39,21.76 429.5,24.37 429.6,23.53 429.7,25.38 429.8,24.82 429.9,22.62 430.01,24.55 430.11,23.3 430.21,23.8 430.31,24.64 430.41,24.04 430.51,24.18 430.62,24.16 430.72,23.1 430.82,23.19 430.92,24.24 431.02,24.51 431.13,23.5 431.23,23.83 431.33,22.87 431.43,21.48 431.53,23.02 431.63,23.77 431.74,23.88 431.84,24.47 431.94,24.51 432.04,24.59 432.14,24.07 432.24,24.1 432.35,23.1 432.45,22.95 432.55,23.9" fill="none" stroke="#e0203f" stroke-width="1.2" stroke-linejoin="round" stroke-linecap="round" clip-path="url(#cb1)"/>
<path d="M341.05,107.4 341.15,108.33 341.25,108.75 341.36,108.59 341.46,108.31 341.56,108.54 341.66,107.31 341.76,107.23 341.86,107.82 341.97,108.54 342.07,108.04 342.17,108.35 342.27,107.17 342.37,107.8 342.47,107.7 342.58,108.19 342.68,109.08 342.78,108.4 342.88,108.59 342.98,107.76 343.09,107.91 343.19,108.41 343.29,108.18 343.39,107.1 343.49,108.5 343.59,108.47 343.7,108.09 343.8,108.35 343.9,108.2 344,107.67 344.1,107.01 344.21,108.95 344.31,107.97 344.41,107.94 344.51,108.01 344.61,108.07 344.71,108.15 344.82,107.41 344.92,108.22 345.02,108.03 345.12,107.96 345.22,107.9 345.32,108.06 345.43,107.41 345.53,107.97 345.63,107.86 345.73,107.99 345.83,108.51 345.94,108.42 346.04,108.54 346.14,107.85 346.24,108.35 346.34,108.54 346.44,107.82 346.55,107.67 346.65,108.93 346.75,107.02 346.85,107.94 346.95,108.01 347.06,107.36 347.16,107.91 347.26,108.29 347.36,106.74 347.46,108.55 347.56,108 347.67,107.48 347.77,108.54 347.87,108.01 347.97,107.73 348.07,106.62 348.17,108.44 348.28,107.97 348.38,107.58 348.48,107.9 348.58,108.61 348.68,107.72 348.79,107.88 348.89,107.7 348.99,107.32 349.09,107.38 349.19,107.72 349.29,107.77 349.4,108.55 349.5,108.01 349.6,107.82 349.7,108.16 349.8,107.88 349.9,108.39 350.01,107.09 350.11,106.74 350.21,108.15 350.31,107.71 350.41,108.06 350.52,107.23 350.62,107.69 350.72,107.89 350.82,108.05 350.92,107.86 351.02,108.48 351.13,107.55 351.23,108.32 351.33,107.63 351.43,107.85 351.53,107.32 351.64,107.93 351.74,107.36 351.84,108.43 351.94,107.58 352.04,108.04 352.14,107.81 352.25,107.88 352.35,107.4 352.45,109.03 352.55,107.74 352.65,108.74 352.75,107.25 352.86,109 352.96,108.47 353.06,108.84 353.16,107 353.26,108.62 353.37,107.84 353.47,108.2 353.57,108.9 353.67,108.09 353.77,107.54 353.87,108 353.98,107.38 354.08,108.1 354.18,107.9 354.28,108.11 354.38,107.71 354.48,106.85 354.59,107.7 354.69,107.79 354.79,108.24 354.89,108.31 354.99,107.08 355.1,108.51 355.2,108.39 355.3,107.94 355.4,108.12 355.5,106.8 355.6,109.19 355.71,107.68 355.81,107.49 355.91,108.5 356.01,108.24 356.11,107.64 356.22,106.98 356.32,108.39 356.42,108.75 356.52,107.34 356.62,107.03 356.72,108.06 356.83,109.09 356.93,107.07 357.03,107.98 357.13,107.24 357.23,107.89 357.33,108.07 357.44,108.11 357.54,107.05 357.64,107.07 357.74,109.04 357.84,108.37 357.95,106.87 358.05,108.06 358.15,108.6 358.25,107.85 358.35,107.91 358.45,107.9 358.56,108.11 358.66,108.02 358.76,108.1 358.86,107.66 358.96,108.29 359.07,108 359.17,107.92 359.27,107.11 359.37,107.63 359.47,107.89 359.57,107.53 359.68,107.61 359.78,107.23 359.88,107.55 359.98,106.83 360.08,107.08 360.18,107.84 360.29,108.05 360.39,107.33 360.49,107.53 360.59,107.87 360.69,108.63 360.8,108.83 360.9,107.62 361,107.38 361.1,107.36 361.2,108.52 361.3,107.23 361.41,108.1 361.51,107.59 361.61,107.57 361.71,108.24 361.81,108.12 361.91,108.94 362.02,108.3 362.12,108.79 362.22,107.55 362.32,107.75 362.42,107.28 362.53,107.59 362.63,108.13 362.73,107.59 362.83,107.99 362.93,107.44 363.03,107.6 363.14,108.32 363.24,107.77 363.34,107.74 363.44,107.94 363.54,107.27 363.65,106.81 363.75,107.96 363.85,107.95 363.95,109 364.05,107.83 364.15,107.99 364.26,108.95 364.36,107.59 364.46,107.42 364.56,108.15 364.66,107.95 364.76,108.27 364.87,107.32 364.97,108.57 365.07,107.91 365.17,106.65 365.27,107.7 365.38,107.47 365.48,107.81 365.58,108.37 365.68,107.74 365.78,107.49 365.88,108.28 365.99,107.53 366.09,107.02 366.19,107.12 366.29,108.58 366.39,108.24 366.49,108.6 366.6,107.11 366.7,107.36 366.8,107.31 366.9,108.18 367,108.34 367.11,107.65 367.21,107.63 367.31,108.16 367.41,107.6 367.51,107.32 367.61,107.55 367.72,108.25 367.82,108.84 367.92,107.81 368.02,107.58 368.12,107.81 368.23,107.9 368.33,108.04 368.43,107.26 368.53,107.68 368.63,107.58 368.73,108.19 368.84,107.99 368.94,107.55 369.04,108.2 369.14,108.34 369.24,107.82 369.34,106.97 369.45,107.53 369.55,106.82 369.65,107.7 369.75,107.8 369.85,108.39 369.96,107.94 370.06,106.82 370.16,107.43 370.26,107.21 370.36,107.22 370.46,107.61 370.57,107.72 370.67,107.53 370.77,107.23 370.87,107.34 370.97,107.32 371.08,107.5 371.18,108.01 371.28,107.73 371.38,108.1 371.48,107.02 371.58,108.74 371.69,107.69 371.79,106.25 371.89,107.75 371.99,108.19 372.09,107.57 372.19,106.84 372.3,107.64 372.4,107.21 372.5,107.49 372.6,107.75 372.7,105.8 372.81,107.49 372.91,107.82 373.01,107.79 373.11,107.3 373.21,107.28 373.31,107.06 373.42,107.4 373.52,108.26 373.62,107.16 373.72,107.61 373.82,107.59 373.92,108.23 374.03,107.71 374.13,107.78 374.23,107.38 374.33,108.15 374.43,107.3 374.54,107.24 374.64,107.91 374.74,107.61 374.84,107.72 374.94,106.73 375.04,108.6 375.15,107.37 375.25,108.08 375.35,107.38 375.45,106.64 375.55,107.44 375.66,106.99 375.76,107.51 375.86,105.94 375.96,106.48 376.06,106.34 376.16,107.67 376.27,107.52 376.37,106.29 376.47,106.96 376.57,106.97 376.67,106.62 376.77,107.47 376.88,106.32 376.98,106.71 377.08,106.42 377.18,107.03 377.28,106.35 377.39,106.99 377.49,106.05 377.59,105.92 377.69,106.01 377.79,106.2 377.89,106.11 378,107.93 378.1,105.94 378.2,106.53 378.3,106.29 378.4,106.47 378.5,107.06 378.61,106.56 378.71,105.87 378.81,105.42 378.91,106.52 379.01,106.65 379.12,105.32 379.22,106.58 379.32,104.91 379.42,106 379.52,106.49 379.62,105.42 379.73,105 379.83,106.7 379.93,105.01 380.03,106 380.13,104.99 380.24,105.99 380.34,106.61 380.44,105.43 380.54,105.16 380.64,104.48 380.74,104.65 380.85,105.18 380.95,105.66 381.05,105.77 381.15,105.61 381.25,105.86 381.35,105.52 381.46,106.73 381.56,105.18 381.66,105.25 381.76,103.77 381.86,104.73 381.97,105.36 382.07,104.74 382.17,105.68 382.27,105.29 382.37,105.94 382.47,104.06 382.58,104.47 382.68,105.39 382.78,104.72 382.88,104.11 382.98,104.3 383.09,104.3 383.19,104.93 383.29,104.75 383.39,104.29 383.49,103.78 383.59,104.69 383.7,104.79 383.8,103.48 383.9,104.55 384,103.39 384.1,103.77 384.2,103.36 384.31,102.83 384.41,103.3 384.51,103.16 384.61,103.9 384.71,103.67 384.82,102.92 384.92,102.39 385.02,102.33 385.12,101.8 385.22,102.52 385.32,102.41 385.43,101.91 385.53,102.11 385.63,101.93 385.73,101.98 385.83,100.95 385.93,101.02 386.04,99.98 386.14,99.44 386.24,98.18 386.34,96.98 386.44,95.45 386.55,90.63 386.65,82.88 386.75,71.9 386.85,59.8 386.95,48.82 387.05,41.07 387.16,36.25 387.26,34.72 387.36,33.46 387.46,32.59 387.56,31.5 387.67,31.16 387.77,30.76 387.87,30.07 387.97,30.03 388.07,28.71 388.17,30 388.28,28.91 388.38,28.62 388.48,29.75 388.58,29.52 388.68,28.35 388.78,28.71 388.89,28.18 388.99,27.69 389.09,28.34 389.19,28.6 389.29,29.38 389.4,27.77 389.5,28.3 389.6,27.56 389.7,27.53 389.8,28.36 389.9,26.58 390.01,26.87 390.11,26.94 390.21,28.01 390.31,27.52 390.41,27.54 390.51,27.41 390.62,27.75 390.72,26.83 390.82,26.89 390.92,26.76 391.02,27.18 391.13,26.14 391.23,26.69 391.33,28.26 391.43,27.05 391.53,26.68 391.63,26.07 391.74,26.72 391.84,26.65 391.94,26.83 392.04,26.05 392.14,26.63 392.25,26.67 392.35,26.71 392.45,25.95 392.55,26.51 392.65,27.1 392.75,25.79 392.86,26.49 392.96,25.87 393.06,25.82 393.16,25.33 393.26,25.38 393.36,26.24 393.47,25.98 393.57,26.57 393.67,24.9 393.77,25.55 393.87,24.99 393.98,25.91 394.08,26.83 394.18,24.82 394.28,25.59 394.38,25.54 394.48,25.55 394.59,25.2 394.69,25.23 394.79,26.38 394.89,24.87 394.99,25.73 395.1,25.67 395.2,24.43 395.3,24.85 395.4,25.51 395.5,26.32 395.6,25.18 395.71,24.94 395.81,25.26 395.91,25.87 396.01,25.59 396.11,25.82 396.21,24.98 396.32,24.61 396.42,24.47 396.52,25.42 396.62,24.85 396.72,24.65 396.83,25.21 396.93,24.98 397.03,23.7 397.13,24.73 397.23,24.33 397.33,25.03 397.44,24.74 397.54,25.69 397.64,24.73 397.74,24.03 397.84,23.5 397.94,23.97 398.05,24.23 398.15,24.56 398.25,24.89 398.35,24.63 398.45,24.18 398.56,24.93 398.66,23.96 398.76,25 398.86,25.41 398.96,24.97 399.06,25.31 399.17,25.13 399.27,23.73 399.37,24.45 399.47,24.2 399.57,23.66 399.68,23.59 399.78,24.55 399.88,23.52 399.98,24.03 400.08,24.23 400.18,23.98 400.29,25 400.39,24.63 400.49,24.25 400.59,23.84 400.69,24.38 400.79,24.24 400.9,23.62 401,23.38 401.1,23.73 401.2,23.45 401.3,24.37 401.41,24.31 401.51,23.96 401.61,24.3 401.71,24.41 401.81,23.22 401.91,24.24 402.02,24.66 402.12,23.85 402.22,23.1 402.32,24.07 402.42,23.43 402.52,24.35 402.63,24.38 402.73,24.49 402.83,24.18 402.93,23.08 403.03,24.74 403.14,23.19 403.24,24.65 403.34,24.22 403.44,23.62 403.54,23.74 403.64,23.93 403.75,24.99 403.85,23.88 403.95,24.64 404.05,22.65 404.15,24.19 404.26,23.96 404.36,24.7 404.46,24.32 404.56,24.77 404.66,23.51 404.76,24.2 404.87,23.74 404.97,24.43 405.07,24.32 405.17,23.33 405.27,24.58 405.37,25.03 405.48,23.81 405.58,24.66 405.68,24.27 405.78,23.52 405.88,24.48 405.99,23.54 406.09,24.4 406.19,23.19 406.29,23.28 406.39,24.27 406.49,24.13 406.6,24.47 406.7,23.9 406.8,23.37 406.9,24.8 407,23.49 407.11,24.73 407.21,24.47 407.31,24.98 407.41,22.83 407.51,23.96 407.61,23.85 407.72,24.36 407.82,23.39 407.92,25.14 408.02,23.96 408.12,22.75 408.22,24.18 408.33,23.96 408.43,23.6 408.53,24.42 408.63,23.95 408.73,23.43 408.84,23.85 408.94,23.75 409.04,24.15 409.14,23.78 409.24,23.92 409.34,23.15 409.45,23.55 409.55,24.08 409.65,25.3 409.75,23.55 409.85,23.52 409.95,24.45 410.06,25.04 410.16,24.57 410.26,23.42 410.36,24.52 410.46,24.18 410.57,23.8 410.67,23.25 410.77,23.93 410.87,23.98 410.97,24.22 411.07,23.02 411.18,23.33 411.28,23.97 411.38,24.68 411.48,24.35 411.58,23.59 411.69,24.31 411.79,23.41 411.89,23.7 411.99,23.74 412.09,23.54 412.19,23.62 412.3,24.37 412.4,24.07 412.5,22.6 412.6,24.56 412.7,24.15 412.8,23.3 412.91,23.97 413.01,24.33 413.11,24.61 413.21,23.58 413.31,23.32 413.42,23.1 413.52,23.85 413.62,23.3 413.72,24.44 413.82,23.78 413.92,24.24 414.03,23.77 414.13,23.45 414.23,23.27 414.33,24.41 414.43,23.16 414.53,24.12 414.64,24.43 414.74,23.95 414.84,24.67 414.94,23.85 415.04,23.69 415.15,23.96 415.25,23.55 415.35,24.02 415.45,23.85 415.55,24.64 415.65,23.82 415.76,24.31 415.86,24.09 415.96,23.89 416.06,23.73 416.16,24.75 416.27,24.7 416.37,24 416.47,23.57 416.57,23.63 416.67,23.34 416.77,23.11 416.88,23.55 416.98,23.84 417.08,24.4 417.18,24.35 417.28,24.08 417.38,23.67 417.49,23.7 417.59,23.82 417.69,23.9 417.79,23.47 417.89,23.7 418,23.65 418.1,23.64 418.2,24.12 418.3,24.38 418.4,23.54 418.5,23.58 418.61,23.93 418.71,24.04 418.81,22.55 418.91,24.23 419.01,23.92 419.12,23.66 419.22,24.44 419.32,23.74 419.42,22.81 419.52,23.28 419.62,23.45 419.73,23.47 419.83,23.73 419.93,23.27 420.03,23.88 420.13,24.03 420.23,23.74 420.34,23.29 420.44,23.61 420.54,23.42 420.64,24.91 420.74,23.13 420.85,22.49 420.95,23.05 421.05,23.96 421.15,24.25 421.25,23.63 421.35,24.33 421.46,23.38 421.56,24.07 421.66,23.25 421.76,23.02 421.86,24.9 421.96,23.61 422.07,24.16 422.17,24.55 422.27,24.12 422.37,23.89 422.47,23.2 422.58,24.61 422.68,23.19 422.78,22.65 422.88,23.44 422.98,23.47 423.08,23.78 423.19,24.42 423.29,23.47 423.39,23.55 423.49,23.36 423.59,22.34 423.7,23.36 423.8,23.53 423.9,22.9 424,24.51 424.1,24.39 424.2,23.97 424.31,24.12 424.41,23.37 424.51,23.93 424.61,22.8 424.71,22.92 424.81,23.33 424.92,23.97 425.02,23.41 425.12,23.31 425.22,24.34 425.32,23.56 425.43,23.36 425.53,23.63 425.63,22.88 425.73,23.08 425.83,24.21 425.93,23.68 426.04,24.21 426.14,23.43 426.24,24.23 426.34,23.24 426.44,23.53 426.54,23.21 426.65,23.83 426.75,24.55 426.85,22.77 426.95,23.84 427.05,22.98 427.16,23.51 427.26,23.37 427.36,22.73 427.46,23.55 427.56,22.97 427.66,24.56 427.77,23.26 427.87,23.87 427.97,23.81 428.07,23.73 428.17,23.55 428.28,22.82 428.38,24.76 428.48,23.71 428.58,24.13 428.68,23.09 428.78,23.97 428.89,23.48 428.99,23.96 429.09,23.37 429.19,23.17 429.29,23.96 429.39,23.71 429.5,24.52 429.6,23.57 429.7,23.26 429.8,24.04 429.9,23.11 430.01,24.88 430.11,24.76 430.21,24.5 430.31,24 430.41,23.72 430.51,23.78 430.62,23.77 430.72,23.33 430.82,23.99 430.92,24.43 431.02,24.42 431.13,22.56 431.23,25.03 431.33,23.83 431.43,22.92 431.53,23.46 431.63,24.19 431.74,23.73 431.84,23.25 431.94,23.06 432.04,24.23 432.14,23.31 432.24,23.59 432.35,23.12 432.45,22.96 432.55,23.92" fill="none" stroke="#1a12a6" stroke-width="1.3" stroke-linejoin="round" stroke-linecap="round" clip-path="url(#cb1)"/>
<path d="M462.15,107.34 462.25,103.8 462.35,101.16 462.46,103.25 462.56,104.12 462.66,99.96 462.76,106.55 462.86,102.83 462.96,105.65 463.07,104.01 463.17,104.38 463.27,101.66 463.37,106.35 463.47,105.58 463.57,107.6 463.68,103.62 463.78,105.43 463.88,102.78 463.98,106.61 464.08,107.54 464.19,102.56 464.29,104.97 464.39,105.08 464.49,103.53 464.59,105.22 464.69,107.53 464.8,101.03 464.9,104.22 465,102.33 465.1,108.39 465.2,107.71 465.31,108.64 465.41,105.92 465.51,99.05 465.61,105.88 465.71,104.6 465.81,104.28 465.92,103.08 466.02,105.11 466.12,103.77 466.22,104.26 466.32,108.72 466.42,105.26 466.53,101.92 466.63,105.28 466.73,104.8 466.83,105.68 466.93,105.45 467.04,102.37 467.14,105.03 467.24,106.47 467.34,110.47 467.44,105.61 467.54,104.5 467.65,108 467.75,100.83 467.85,103.15 467.95,108.18 468.05,102.88 468.16,103.62 468.26,106 468.36,103.1 468.46,107.61 468.56,106.8 468.66,107.25 468.77,106.97 468.87,102.26 468.97,107.05 469.07,106.7 469.17,106.31 469.27,104.11 469.38,105.14 469.48,100.92 469.58,105.84 469.68,106.95 469.78,105.44 469.89,104.41 469.99,106.26 470.09,103.95 470.19,101 470.29,105.6 470.39,102.9 470.5,101.9 470.6,105.73 470.7,106.11 470.8,106.58 470.9,103.72 471,104.17 471.11,104.77 471.21,104.4 471.31,102.05 471.41,102.82 471.51,107.17 471.62,104.5 471.72,104.03 471.82,103.11 471.92,104.91 472.02,105.72 472.12,104.82 472.23,107.89 472.33,104.53 472.43,105.63 472.53,107.69 472.63,106.45 472.74,105.32 472.84,106.36 472.94,106.52 473.04,103.14 473.14,105.37 473.24,103.63 473.35,106.62 473.45,104.29 473.55,107.71 473.65,105.39 473.75,105.44 473.85,103.36 473.96,104.13 474.06,104.81 474.16,102.87 474.26,104.11 474.36,103.44 474.47,103 474.57,104.59 474.67,105.03 474.77,103.84 474.87,105.26 474.97,103.72 475.08,102.34 475.18,102.82 475.28,105.19 475.38,106.91 475.48,104.56 475.58,104.69 475.69,102.33 475.79,105.78 475.89,104.84 475.99,103.04 476.09,105.35 476.2,104.74 476.3,101.16 476.4,101.59 476.5,103.23 476.6,103.92 476.7,106.28 476.81,103.36 476.91,104.31 477.01,104 477.11,105.41 477.21,104.44 477.32,104.76 477.42,105.09 477.52,100.21 477.62,105.05 477.72,107.57 477.82,106.25 477.93,107.42 478.03,105.91 478.13,105.2 478.23,103.62 478.33,105.53 478.43,103.87 478.54,105.83 478.64,107.09 478.74,106.66 478.84,106.01 478.94,101.66 479.05,106.93 479.15,101.99 479.25,101.83 479.35,104.71 479.45,104.45 479.55,105.53 479.66,104.4 479.76,103.09 479.86,104.33 479.96,102.44 480.06,102.08 480.17,103.68 480.27,103.71 480.37,104.45 480.47,103.67 480.57,106.46 480.67,101.2 480.78,103.93 480.88,105.97 480.98,95.54 481.08,106.17 481.18,105.97 481.28,103.78 481.39,107.78 481.49,105.82 481.59,107.22 481.69,104.21 481.79,104.55 481.9,103.68 482,102.18 482.1,102.75 482.2,102.02 482.3,103.58 482.4,104.72 482.51,102.15 482.61,104.9 482.71,105.45 482.81,101.35 482.91,102.76 483.01,103.84 483.12,102.92 483.22,102.58 483.32,106.86 483.42,104.43 483.52,106.5 483.63,103.63 483.73,105.52 483.83,101.65 483.93,103.14 484.03,105.78 484.13,109.08 484.24,106.53 484.34,104.14 484.44,103.18 484.54,103.71 484.64,107.88 484.75,104.84 484.85,103.24 484.95,103.62 485.05,102 485.15,109.22 485.25,103.19 485.36,105.41 485.46,103.81 485.56,100.28 485.66,102.87 485.76,105.25 485.86,103.81 485.97,106.13 486.07,106.8 486.17,104.55 486.27,104.24 486.37,107.16 486.48,105.26 486.58,104.08 486.68,100.92 486.78,102.15 486.88,102.9 486.98,107.42 487.09,104.27 487.19,103.19 487.29,103.34 487.39,103.29 487.49,104.49 487.59,100.79 487.7,101.31 487.8,104.21 487.9,105.84 488,100.23 488.1,105.03 488.21,101.81 488.31,100.49 488.41,107.12 488.51,103.45 488.61,103.4 488.71,103.03 488.82,103.38 488.92,100.4 489.02,102.87 489.12,103.95 489.22,101.88 489.33,104.41 489.43,107.08 489.53,99.85 489.63,104.54 489.73,104.77 489.83,106.5 489.94,105.77 490.04,107.65 490.14,101.95 490.24,105.24 490.34,104.8 490.44,104.48 490.55,105.56 490.65,105.71 490.75,103.5 490.85,99.53 490.95,102.47 491.06,102.44 491.16,106.4 491.26,103.78 491.36,105.81 491.46,102.36 491.56,104.11 491.67,103.63 491.77,104.62 491.87,104.69 491.97,105.03 492.07,102.64 492.18,106.03 492.28,105.67 492.38,104.13 492.48,104.82 492.58,103.14 492.68,101.85 492.79,103.14 492.89,103.22 492.99,103.5 493.09,102.07 493.19,106.65 493.29,102.88 493.4,105.07 493.5,103.79 493.6,103.46 493.7,104.1 493.8,102.46 493.91,100.08 494.01,108.54 494.11,103.52 494.21,100.14 494.31,102.97 494.41,100.31 494.52,103.18 494.62,105.68 494.72,104.08 494.82,102.31 494.92,101.72 495.02,107.99 495.13,102.94 495.23,102.15 495.33,106.02 495.43,103.75 495.53,100.59 495.64,99.68 495.74,103.3 495.84,100.22 495.94,104.44 496.04,104.33 496.14,106.52 496.25,101.53 496.35,103.57 496.45,99.38 496.55,102.44 496.65,102.63 496.76,105.63 496.86,100.61 496.96,103.38 497.06,103.05 497.16,106.05 497.26,101.39 497.37,101.28 497.47,103.58 497.57,102.53 497.67,102.07 497.77,100.88 497.87,102.43 497.98,100.11 498.08,104.03 498.18,103.32 498.28,103.09 498.38,105.88 498.49,103.47 498.59,100.98 498.69,101.94 498.79,102.47 498.89,101.76 498.99,104.82 499.1,102.52 499.2,101.44 499.3,101.18 499.4,103 499.5,100.85 499.6,99.64 499.71,102.43 499.81,100.96 499.91,103.68 500.01,104.1 500.11,100.01 500.22,101.63 500.32,101.41 500.42,102.25 500.52,101.87 500.62,100.6 500.72,99.58 500.83,101.63 500.93,103.1 501.03,99.97 501.13,100.63 501.23,100.51 501.34,100.96 501.44,100.05 501.54,100.96 501.64,100.48 501.74,102.62 501.84,101.36 501.95,101.38 502.05,100.72 502.15,100.32 502.25,101.15 502.35,100.7 502.45,101.19 502.56,99.65 502.66,100.02 502.76,100.95 502.86,99.61 502.96,99.49 503.07,100 503.17,98.59 503.27,99.5 503.37,99.56 503.47,99.73 503.57,99.86 503.68,99.27 503.78,99.31 503.88,98.88 503.98,98.41 504.08,98.92 504.19,98.46 504.29,98.31 504.39,97.87 504.49,97.74 504.59,97.52 504.69,97.29 504.8,97.03 504.9,96.76 505,96.46 505.1,96.14 505.2,95.79 505.3,95.43 505.41,95.03 505.51,94.62 505.61,94.17 505.71,93.7 505.81,93.2 505.92,92.67 506.02,92.11 506.12,91.49 506.22,90.65 506.32,89.61 506.42,88.4 506.53,87.08 506.63,85.69 506.73,84.28 506.83,82.89 506.93,81.48 507.03,79.98 507.14,78.42 507.24,76.8 507.34,75.13 507.44,73.44 507.54,71.73 507.65,70.02 507.75,68.33 507.85,66.67 507.95,65.03 508.05,63.37 508.15,61.68 508.26,59.97 508.36,58.26 508.46,56.57 508.56,54.9 508.66,53.28 508.77,51.72 508.87,50.22 508.97,48.81 509.07,47.42 509.17,46.01 509.27,44.62 509.38,43.3 509.48,42.09 509.58,41.05 509.68,40.21 509.78,39.59 509.88,39.03 509.99,38.5 510.09,38 510.19,37.53 510.29,37.08 510.39,36.67 510.5,36.27 510.6,35.91 510.7,35.56 510.8,35.24 510.9,34.94 511,34.67 511.11,34.41 511.21,34.18 511.31,33.96 511.41,33.69 511.51,33.48 511.61,33.52 511.72,33.39 511.82,33.45 511.92,33.48 512.02,32.69 512.12,32.47 512.23,32.43 512.33,32.32 512.43,32.6 512.53,32.01 512.63,32.92 512.73,31.98 512.84,30.95 512.94,30.9 513.04,32 513.14,31.82 513.24,30.46 513.35,30.02 513.45,32.52 513.55,31.59 513.65,30.97 513.75,30.03 513.85,31.77 513.96,30.37 514.06,31.22 514.16,28.19 514.26,30.35 514.36,30.84 514.46,30.99 514.57,29.53 514.67,29.85 514.77,31.64 514.87,30.22 514.97,31.11 515.08,31.18 515.18,31.74 515.28,31.75 515.38,32.44 515.48,31.3 515.58,29.52 515.69,29.15 515.79,30.33 515.89,31.35 515.99,28.98 516.09,32.4 516.2,32.27 516.3,29.51 516.4,28.97 516.5,30.1 516.6,28.81 516.7,31.05 516.81,30.31 516.91,28.86 517.01,30.59 517.11,30.48 517.21,31.39 517.31,31.06 517.42,28.27 517.52,28.77 517.62,31.95 517.72,30.85 517.82,30.1 517.93,28.49 518.03,30.92 518.13,29.45 518.23,32.3 518.33,31.2 518.43,28.5 518.54,27.77 518.64,30.79 518.74,30.2 518.84,27.81 518.94,29.58 519.04,29.78 519.15,26.92 519.25,28.61 519.35,27.18 519.45,27.64 519.55,29.74 519.66,29.01 519.76,26.02 519.86,30.91 519.96,30.29 520.06,27.19 520.16,31.24 520.27,27.1 520.37,28.58 520.47,28.88 520.57,27.77 520.67,27.85 520.78,26.64 520.88,29.24 520.98,29.67 521.08,28.96 521.18,25.44 521.28,26.96 521.39,30.04 521.49,29.05 521.59,29.65 521.69,28.44 521.79,28.1 521.89,24.6 522,31.49 522.1,26.93 522.2,27.66 522.3,29.57 522.4,28.63 522.51,29.2 522.61,28.26 522.71,25.02 522.81,30.74 522.91,26.06 523.01,30.08 523.12,25.7 523.22,27.57 523.32,26.13 523.42,27.27 523.52,26.36 523.62,28.13 523.73,29.66 523.83,27.03 523.93,26.95 524.03,24.51 524.13,31.68 524.24,28.51 524.34,26.28 524.44,30.35 524.54,28.53 524.64,24.37 524.74,25.59 524.85,29.66 524.95,25.55 525.05,25.96 525.15,27.02 525.25,27.37 525.36,27.62 525.46,29.59 525.56,28.95 525.66,23.93 525.76,27.75 525.86,24.66 525.97,28.59 526.07,32.32 526.17,28.57 526.27,27.45 526.37,27.25 526.47,27.82 526.58,29.43 526.68,25.2 526.78,29.13 526.88,26.61 526.98,28.42 527.09,29.92 527.19,25.29 527.29,32.48 527.39,29.45 527.49,27.06 527.59,28.5 527.7,26.45 527.8,25.21 527.9,28.39 528,23.81 528.1,28.22 528.21,28.09 528.31,29.8 528.41,29.18 528.51,26.57 528.61,26.12 528.71,27.76 528.82,29.06 528.92,26.47 529.02,30.93 529.12,30.23 529.22,27.93 529.32,28.22 529.43,27.43 529.53,28.96 529.63,29.21 529.73,24.3 529.83,26.29 529.94,25.42 530.04,27.58 530.14,25.85 530.24,26.19 530.34,25.36 530.44,23.17 530.55,27.01 530.65,27.15 530.75,27.73 530.85,34.3 530.95,30.28 531.05,27.58 531.16,26.41 531.26,28.7 531.36,25.44 531.46,26.22 531.56,28.38 531.67,24.87 531.77,24.24 531.87,26.69 531.97,29.45 532.07,24.76 532.17,27.88 532.28,28.29 532.38,27.34 532.48,28.58 532.58,25.5 532.68,26.06 532.79,25.21 532.89,26.43 532.99,28.27 533.09,27.84 533.19,27.51 533.29,28.3 533.4,21.93 533.5,27.98 533.6,27.07 533.7,25.31 533.8,26.08 533.9,27.56 534.01,27.94 534.11,26.68 534.21,25.9 534.31,26.03 534.41,28.07 534.52,26.66 534.62,25.87 534.72,25.17 534.82,33.39 534.92,29.18 535.02,28.96 535.13,27.79 535.23,27.19 535.33,25.7 535.43,29.96 535.53,27.7 535.63,27.41 535.74,24.63 535.84,28.62 535.94,26.86 536.04,24.45 536.14,26.78 536.25,31.35 536.35,26.72 536.45,28.17 536.55,27.65 536.65,25.14 536.75,26.53 536.86,27.93 536.96,25.71 537.06,27.97 537.16,27.21 537.26,26.83 537.37,26.92 537.47,28.62 537.57,28.28 537.67,27.35 537.77,29.22 537.87,29.81 537.98,24.9 538.08,27.85 538.18,29.23 538.28,27.64 538.38,27.34 538.48,27.34 538.59,27.25 538.69,28.92 538.79,25.59 538.89,29.86 538.99,25.38 539.1,31.04 539.2,29.39 539.3,25.46 539.4,27.64 539.5,28.64 539.6,26.63 539.71,29.35 539.81,27.2 539.91,31.59 540.01,28.21 540.11,30.46 540.22,26.3 540.32,25.66 540.42,30.85 540.52,25.12 540.62,27.05 540.72,29.87 540.83,31.88 540.93,24.37 541.03,27.49 541.13,28.56 541.23,28.75 541.33,29.4 541.44,24.72 541.54,27.47 541.64,23.88 541.74,27.68 541.84,31.8 541.95,25.68 542.05,28 542.15,27.75 542.25,24.29 542.35,27.79 542.45,25.06 542.56,27.29 542.66,28.72 542.76,26.31 542.86,28.43 542.96,24.92 543.06,24.63 543.17,27.15 543.27,26.1 543.37,26.19 543.47,27.79 543.57,25.55 543.68,27.7 543.78,26.08 543.88,29.62 543.98,27.06 544.08,26.46 544.18,28.76 544.29,28.04 544.39,28.27 544.49,25.85 544.59,28.62 544.69,26.4 544.8,24.31 544.9,26.55 545,30.31 545.1,26.99 545.2,25.23 545.3,27.77 545.41,25.09 545.51,26.03 545.61,26.41 545.71,27.71 545.81,28.19 545.91,27.7 546.02,27.08 546.12,26.2 546.22,26.39 546.32,27.77 546.42,29.43 546.53,26.45 546.63,30.3 546.73,28.66 546.83,28.72 546.93,27.57 547.03,27.71 547.14,27.67 547.24,28.85 547.34,25.89 547.44,26.64 547.54,30.32 547.64,27.14 547.75,29.32 547.85,23.91 547.95,28.04 548.05,27.92 548.15,27 548.26,27.54 548.36,27.27 548.46,24.19 548.56,26.72 548.66,25.55 548.76,24.99 548.87,29.01 548.97,23.91 549.07,25.83 549.17,25.31 549.27,28.79 549.38,25.57 549.48,26.35 549.58,28.17 549.68,22.76 549.78,26.05 549.88,27.59 549.99,26.76 550.09,25.39 550.19,24.96 550.29,24.95 550.39,24.8 550.49,24.31 550.6,29.49 550.7,28.05 550.8,28.92 550.9,26.93 551,24.36 551.11,25.87 551.21,29.12 551.31,27.68 551.41,25.15 551.51,28.13 551.61,27.3 551.72,25.91 551.82,30.6 551.92,26.16 552.02,26.45 552.12,26.02 552.23,28.98 552.33,28.58 552.43,28.25 552.53,26.63 552.63,26.97 552.73,26.86 552.84,23.67 552.94,24.6 553.04,28.48 553.14,28.35 553.24,23.82 553.34,27.71 553.45,24.46 553.55,24.04 553.65,27.53" fill="none" stroke="#e0203f" stroke-width="1.2" stroke-linejoin="round" stroke-linecap="round" clip-path="url(#cb2)"/>
<path d="M462.15,109.43 462.25,109.26 462.35,109.1 462.46,107.62 462.56,108.37 462.66,108.4 462.76,107.56 462.86,107.68 462.96,105.94 463.07,108.27 463.17,109.39 463.27,108.01 463.37,105.96 463.47,108.75 463.57,107.92 463.68,108.48 463.78,107.42 463.88,107.63 463.98,109.1 464.08,108.29 464.19,106.67 464.29,106.46 464.39,106.7 464.49,106.78 464.59,108.43 464.69,108.47 464.8,106.68 464.9,109.58 465,108.04 465.1,110.52 465.2,108.48 465.31,108.93 465.41,109.61 465.51,107.15 465.61,108.96 465.71,108.45 465.81,108.3 465.92,108.95 466.02,105.97 466.12,108.62 466.22,107.66 466.32,109.73 466.42,108.58 466.53,108.37 466.63,108.34 466.73,108.72 466.83,107.72 466.93,105.76 467.04,108.09 467.14,108.1 467.24,108.44 467.34,104.4 467.44,105.67 467.54,107.13 467.65,106.92 467.75,108.87 467.85,108.1 467.95,107.59 468.05,107.72 468.16,109.06 468.26,108.95 468.36,107.16 468.46,107.44 468.56,110.77 468.66,107.73 468.77,106.11 468.87,108.74 468.97,107.52 469.07,109.85 469.17,106.7 469.27,109.38 469.38,109.56 469.48,108.27 469.58,104.57 469.68,108.67 469.78,109.56 469.89,107.18 469.99,107.5 470.09,105.53 470.19,109.56 470.29,110 470.39,108.24 470.5,107.28 470.6,107.3 470.7,106.3 470.8,109.84 470.9,108.92 471,107.96 471.11,106.62 471.21,107.12 471.31,108.35 471.41,109.17 471.51,106.55 471.62,106.45 471.72,104.02 471.82,107.99 471.92,105.51 472.02,109.41 472.12,108.48 472.23,108.66 472.33,108.37 472.43,108.93 472.53,108.47 472.63,107.79 472.74,108.33 472.84,106.8 472.94,107.82 473.04,107.7 473.14,105.67 473.24,107.26 473.35,107.47 473.45,107.71 473.55,107.59 473.65,106.88 473.75,108.77 473.85,106.09 473.96,105.5 474.06,106.07 474.16,108.33 474.26,109.84 474.36,108.24 474.47,107.43 474.57,106.49 474.67,107.88 474.77,108.04 474.87,105.53 474.97,108.53 475.08,106.14 475.18,106.36 475.28,109.43 475.38,107.21 475.48,108.36 475.58,108.89 475.69,110.13 475.79,109.73 475.89,107 475.99,108.1 476.09,107.19 476.2,109.02 476.3,107.99 476.4,107.92 476.5,109.67 476.6,109.82 476.7,106.93 476.81,107.32 476.91,108.8 477.01,107.66 477.11,106.6 477.21,104.99 477.32,108.72 477.42,106.65 477.52,104.58 477.62,107.39 477.72,105.46 477.82,111.03 477.93,105.48 478.03,107.48 478.13,110.04 478.23,106.38 478.33,106.01 478.43,105.78 478.54,105.79 478.64,107.47 478.74,108.46 478.84,108.06 478.94,107.47 479.05,106.85 479.15,108.07 479.25,107.33 479.35,106.19 479.45,106.94 479.55,104.23 479.66,104.41 479.76,108.96 479.86,108.15 479.96,109.17 480.06,108.96 480.17,106.6 480.27,108.71 480.37,108.78 480.47,107.71 480.57,106.23 480.67,107.81 480.78,107.81 480.88,106.05 480.98,106.66 481.08,106.67 481.18,105.99 481.28,108.69 481.39,106.99 481.49,108.15 481.59,105.86 481.69,106.14 481.79,108.7 481.9,105.41 482,108.86 482.1,105.63 482.2,106.96 482.3,108.44 482.4,108.77 482.51,107.64 482.61,107.25 482.71,108.19 482.81,106.43 482.91,109.13 483.01,107.2 483.12,107.19 483.22,109.77 483.32,106.75 483.42,108.91 483.52,110.61 483.63,108.01 483.73,107.47 483.83,105.9 483.93,107.81 484.03,105.1 484.13,105.14 484.24,105.61 484.34,105.28 484.44,106.62 484.54,107.87 484.64,106.2 484.75,105.75 484.85,106.75 484.95,107.41 485.05,109.23 485.15,106.12 485.25,106.56 485.36,108.84 485.46,106.9 485.56,106.03 485.66,107.17 485.76,105.93 485.86,105.96 485.97,109.04 486.07,107.4 486.17,106.31 486.27,105.7 486.37,105.01 486.48,109.61 486.58,107.03 486.68,105.94 486.78,105.23 486.88,104.58 486.98,108.2 487.09,107.41 487.19,108.34 487.29,105.74 487.39,108.7 487.49,105.21 487.59,105.55 487.7,106.16 487.8,109.83 487.9,107.75 488,105.76 488.1,108.76 488.21,107.11 488.31,106.91 488.41,105.52 488.51,106.35 488.61,106.35 488.71,107.33 488.82,106.7 488.92,106.89 489.02,105.68 489.12,106.93 489.22,105.23 489.33,109.01 489.43,104.97 489.53,106.86 489.63,105.05 489.73,106.49 489.83,105.4 489.94,104.5 490.04,107.33 490.14,106.44 490.24,106.77 490.34,106.23 490.44,108.75 490.55,106.73 490.65,106.82 490.75,107.56 490.85,106.72 490.95,108.58 491.06,104.48 491.16,105.79 491.26,103.78 491.36,107.59 491.46,107.98 491.56,105.95 491.67,108.64 491.77,106 491.87,107.27 491.97,106.75 492.07,105.91 492.18,106.19 492.28,103.65 492.38,105.34 492.48,107.99 492.58,104.82 492.68,108.02 492.79,106.03 492.89,107.86 492.99,107.26 493.09,104.27 493.19,106.85 493.29,106.95 493.4,106.82 493.5,106.46 493.6,104.01 493.7,107.62 493.8,107.68 493.91,105.15 494.01,108.14 494.11,106.42 494.21,104.32 494.31,105.87 494.41,106.52 494.52,106.82 494.62,107.08 494.72,106.61 494.82,105.58 494.92,104.02 495.02,104.39 495.13,106.49 495.23,106.7 495.33,104.69 495.43,108.15 495.53,106.22 495.64,106.04 495.74,107.1 495.84,106.91 495.94,105.02 496.04,107.77 496.14,106.72 496.25,106.32 496.35,105.28 496.45,107.27 496.55,103.83 496.65,105.73 496.76,105.63 496.86,105.74 496.96,106.14 497.06,106.53 497.16,103.55 497.26,104.82 497.37,105.22 497.47,103.65 497.57,105.98 497.67,104.08 497.77,104.89 497.87,106.11 497.98,103.78 498.08,106.86 498.18,103.85 498.28,105.93 498.38,104.09 498.49,102.7 498.59,103.78 498.69,105.35 498.79,104.51 498.89,104.93 498.99,105.99 499.1,105.85 499.2,104.2 499.3,103.47 499.4,106.56 499.5,104.19 499.6,103.36 499.71,103.83 499.81,105.23 499.91,102.51 500.01,105.35 500.11,102.91 500.22,101.65 500.32,106.13 500.42,103.21 500.52,103.08 500.62,103.12 500.72,104.22 500.83,103.6 500.93,104.77 501.03,102.94 501.13,102.41 501.23,103.66 501.34,103.84 501.44,103.24 501.54,102.63 501.64,102.43 501.74,102.45 501.84,102.14 501.95,103.23 502.05,104.24 502.15,101.18 502.25,100.37 502.35,102.36 502.45,101.56 502.56,100.68 502.66,100.08 502.76,100.07 502.86,99.54 502.96,99.98 503.07,99.54 503.17,99.31 503.27,99.34 503.37,98.65 503.47,98.55 503.57,98.24 503.68,98.06 503.78,97.69 503.88,97.33 503.98,96.96 504.08,96.57 504.19,96.16 504.29,95.74 504.39,95.31 504.49,94.87 504.59,94.42 504.69,93.96 504.8,93.49 504.9,93.02 505,92.54 505.1,92.06 505.2,91.58 505.3,91.1 505.41,90.61 505.51,90.13 505.61,89.63 505.71,89.12 505.81,88.59 505.92,88.04 506.02,87.47 506.12,86.87 506.22,86.23 506.32,85.56 506.42,84.86 506.53,84.1 506.63,83.3 506.73,82.43 506.83,81.41 506.93,80.22 507.03,78.91 507.14,77.5 507.24,75.99 507.34,74.43 507.44,72.84 507.54,71.23 507.65,69.63 507.75,68.07 507.85,66.57 507.95,65.13 508.05,63.63 508.15,62.07 508.26,60.47 508.36,58.86 508.46,57.27 508.56,55.71 508.66,54.2 508.77,52.79 508.87,51.48 508.97,50.29 509.07,49.27 509.17,48.4 509.27,47.6 509.38,46.84 509.48,46.14 509.58,45.47 509.68,44.83 509.78,44.23 509.88,43.66 509.99,43.11 510.09,42.58 510.19,42.07 510.29,41.57 510.39,41.09 510.5,40.6 510.6,40.12 510.7,39.64 510.8,39.16 510.9,38.68 511,38.21 511.11,37.74 511.21,37.28 511.31,36.83 511.41,36.39 511.51,35.96 511.61,35.54 511.72,35.13 511.82,34.74 511.92,34.37 512.02,34.01 512.12,33.7 512.23,33.52 512.33,33.05 512.43,33.03 512.53,32.43 512.63,32.69 512.73,32.12 512.84,31.94 512.94,31.62 513.04,31.67 513.14,31.65 513.24,30.99 513.35,31.15 513.45,30.43 513.55,30.57 513.65,32.02 513.75,30.05 513.85,28.59 513.96,29.4 514.06,28.96 514.16,28.95 514.26,29.75 514.36,30.55 514.46,28.2 514.57,27.83 514.67,28.27 514.77,28.35 514.87,28.3 514.97,28.71 515.08,28.29 515.18,28.52 515.28,28.08 515.38,29.54 515.48,29.1 515.58,27.56 515.69,28.62 515.79,31.19 515.89,27.92 515.99,30.96 516.09,25.47 516.2,26.95 516.3,26.95 516.4,28.67 516.5,29.25 516.6,27.96 516.7,27.59 516.81,28.61 516.91,27.3 517.01,26.53 517.11,26.6 517.21,28.77 517.31,30.24 517.42,27.26 517.52,28.11 517.62,26.57 517.72,24.91 517.82,24.87 517.93,26.66 518.03,25.51 518.13,24.74 518.23,26.86 518.33,26.51 518.43,25.69 518.54,26.85 518.64,27.44 518.74,27.74 518.84,26.68 518.94,27.49 519.04,25.55 519.15,27.04 519.25,24.59 519.35,24.9 519.45,28.16 519.55,25.01 519.66,26.97 519.76,24.56 519.86,25.68 519.96,26.41 520.06,25.41 520.16,27.04 520.27,25.82 520.37,25.72 520.47,26.41 520.57,25.67 520.67,27.5 520.78,25.39 520.88,27.74 520.98,25.26 521.08,25.43 521.18,25.09 521.28,26.77 521.39,21.94 521.49,26.28 521.59,25.75 521.69,26.94 521.79,24 521.89,26.52 522,24.54 522.1,27.11 522.2,25.42 522.3,26.31 522.4,24.55 522.51,26.16 522.61,26.91 522.71,25.13 522.81,27.31 522.91,26.97 523.01,24.65 523.12,28.16 523.22,24.63 523.32,26.16 523.42,26.82 523.52,25.26 523.62,24.73 523.73,26.33 523.83,25.77 523.93,24.45 524.03,24.5 524.13,25.55 524.24,26.49 524.34,26.71 524.44,26.22 524.54,24.51 524.64,24.63 524.74,24.98 524.85,23.52 524.95,25.75 525.05,25.84 525.15,25.83 525.25,22.77 525.36,28.02 525.46,24.89 525.56,24.67 525.66,25.16 525.76,22.13 525.86,23.66 525.97,24.18 526.07,26.38 526.17,24.51 526.27,25.65 526.37,25.09 526.47,24.87 526.58,25.76 526.68,24.27 526.78,22.93 526.88,23.71 526.98,24.78 527.09,27.61 527.19,23.6 527.29,23.6 527.39,25.27 527.49,25.63 527.59,24.12 527.7,26.05 527.8,23.91 527.9,26.38 528,26.16 528.1,24.91 528.21,26.84 528.31,24.91 528.41,24.2 528.51,26.63 528.61,23.65 528.71,25.61 528.82,24.13 528.92,24.56 529.02,25.44 529.12,25.52 529.22,27.07 529.32,25.73 529.43,25.81 529.53,22.62 529.63,23.44 529.73,26.58 529.83,23.71 529.94,24.46 530.04,25.25 530.14,24.13 530.24,23.68 530.34,25.47 530.44,25.07 530.55,24.48 530.65,25.99 530.75,24.44 530.85,24.79 530.95,25.57 531.05,25.77 531.16,24.25 531.26,23.5 531.36,24.21 531.46,25.76 531.56,23.64 531.67,24.4 531.77,23.84 531.87,23.08 531.97,25.79 532.07,24.78 532.17,25.37 532.28,25.73 532.38,21.94 532.48,23.34 532.58,26.89 532.68,24 532.79,25.28 532.89,23.04 532.99,24.43 533.09,24.76 533.19,24.34 533.29,24.02 533.4,24.48 533.5,24.8 533.6,24.69 533.7,23.83 533.8,25.97 533.9,24.49 534.01,24.64 534.11,25.11 534.21,23.5 534.31,26.16 534.41,24.94 534.52,25.57 534.62,23.73 534.72,25.05 534.82,24.37 534.92,23.92 535.02,26.52 535.13,23.82 535.23,25.39 535.33,24.74 535.43,24.55 535.53,23.33 535.63,23.42 535.74,22.07 535.84,24.15 535.94,25 536.04,25.03 536.14,23.5 536.25,22.25 536.35,23.9 536.45,25.1 536.55,23.98 536.65,24 536.75,24.29 536.86,25.3 536.96,27.65 537.06,25.02 537.16,22.93 537.26,24.02 537.37,27.19 537.47,24.28 537.57,26.71 537.67,21.67 537.77,24.03 537.87,25.85 537.98,23.22 538.08,25.29 538.18,23.52 538.28,24.22 538.38,25.79 538.48,23.37 538.59,25.99 538.69,22.47 538.79,24.15 538.89,25.57 538.99,26.59 539.1,22.09 539.2,22.3 539.3,25.85 539.4,22.04 539.5,23.97 539.6,24.47 539.71,24.29 539.81,24.53 539.91,22.29 540.01,23.97 540.11,26.58 540.22,21.41 540.32,22.99 540.42,25.57 540.52,24.61 540.62,25.32 540.72,24.07 540.83,23.61 540.93,23.81 541.03,24.9 541.13,25.16 541.23,23 541.33,24.24 541.44,21.15 541.54,25.15 541.64,23.06 541.74,24.02 541.84,25.08 541.95,22.29 542.05,23.91 542.15,25.24 542.25,24.48 542.35,22.73 542.45,25.66 542.56,22.24 542.66,23.15 542.76,24.41 542.86,22.26 542.96,21.74 543.06,23.24 543.17,23.8 543.27,21.6 543.37,22.06 543.47,25.23 543.57,24.28 543.68,24.29 543.78,24.54 543.88,25.96 543.98,22.81 544.08,23.88 544.18,23.86 544.29,22.13 544.39,24.72 544.49,24.05 544.59,23.61 544.69,24.54 544.8,24.11 544.9,22.95 545,23.97 545.1,22.2 545.2,24.94 545.3,23.68 545.41,25.82 545.51,24.09 545.61,24.86 545.71,22.13 545.81,22.94 545.91,23.25 546.02,21.49 546.12,22.01 546.22,22.96 546.32,24.82 546.42,25.81 546.53,23.94 546.63,24.37 546.73,24.75 546.83,24.28 546.93,26.07 547.03,21.92 547.14,25.39 547.24,24.77 547.34,23.12 547.44,26.03 547.54,22.65 547.64,22.63 547.75,24.28 547.85,25.29 547.95,24.49 548.05,26.31 548.15,22.01 548.26,23.78 548.36,24.82 548.46,25.05 548.56,23.08 548.66,21.85 548.76,25.52 548.87,24.6 548.97,26.16 549.07,22.93 549.17,23.62 549.27,20.82 549.38,23.98 549.48,24.4 549.58,24.76 549.68,22.68 549.78,25.97 549.88,22.81 549.99,23.48 550.09,24.47 550.19,25 550.29,22.4 550.39,21.32 550.49,24.39 550.6,23.09 550.7,21.47 550.8,24.61 550.9,24.12 551,25.41 551.11,23.98 551.21,23.89 551.31,24.33 551.41,24.76 551.51,25.88 551.61,25.56 551.72,25.07 551.82,22.91 551.92,24.45 552.02,24.9 552.12,22.89 552.23,23.01 552.33,24.77 552.43,24.59 552.53,22.88 552.63,23.27 552.73,24.87 552.84,23.43 552.94,23.79 553.04,22.26 553.14,24.91 553.24,22.57 553.34,23.17 553.45,25.09 553.55,22.33 553.65,22.53" fill="none" stroke="#1a12a6" stroke-width="1.3" stroke-linejoin="round" stroke-linecap="round" clip-path="url(#cb2)"/>
<path d="M583.15,109.23 583.25,106.02 583.35,109.06 583.46,108.84 583.56,108.25 583.66,107.19 583.76,107.37 583.86,108.03 583.96,106.6 584.07,105.7 584.17,106.57 584.27,104.98 584.37,107.91 584.47,110.43 584.57,108.36 584.68,107.87 584.78,107.82 584.88,107.81 584.98,109.11 585.08,109.03 585.19,106.55 585.29,108.09 585.39,110.45 585.49,106.94 585.59,107.86 585.69,107.9 585.8,106.63 585.9,108.89 586,107.93 586.1,106.85 586.2,106.81 586.31,107.41 586.41,108.14 586.51,108.67 586.61,104.88 586.71,107.33 586.81,108.27 586.92,109.99 587.02,108.7 587.12,109.75 587.22,106.42 587.32,107.64 587.42,108.56 587.53,108.1 587.63,105.24 587.73,106.61 587.83,109.15 587.93,107.94 588.04,109.03 588.14,109.51 588.24,107.62 588.34,105.38 588.44,106.23 588.54,109.23 588.65,108.15 588.75,107.57 588.85,106.73 588.95,109.22 589.05,109.44 589.16,105.87 589.26,107.47 589.36,106.13 589.46,107.5 589.56,106.25 589.66,108.34 589.77,107.22 589.87,106.16 589.97,106.69 590.07,108.17 590.17,106.8 590.27,108.27 590.38,108.12 590.48,107.16 590.58,106.27 590.68,106.82 590.78,108.94 590.89,106.79 590.99,106.98 591.09,108.12 591.19,110.16 591.29,106.62 591.39,106.74 591.5,107.13 591.6,108.78 591.7,109.13 591.8,104.92 591.9,106.8 592,106.27 592.11,107.85 592.21,107.2 592.31,108.14 592.41,106.27 592.51,108.46 592.62,107.31 592.72,108.3 592.82,106.59 592.92,105.89 593.02,108.37 593.12,105.68 593.23,108.68 593.33,107.07 593.43,106.42 593.53,106.7 593.63,109.75 593.74,106.49 593.84,106.26 593.94,106.03 594.04,109.75 594.14,108.17 594.24,107.57 594.35,106.78 594.45,106.09 594.55,108.15 594.65,106.2 594.75,106.87 594.85,108.92 594.96,108.44 595.06,107.9 595.16,107.28 595.26,105.93 595.36,108.41 595.47,106.47 595.57,108.99 595.67,110.49 595.77,107.72 595.87,106.9 595.97,107.73 596.08,108.38 596.18,106.92 596.28,105.37 596.38,107.44 596.48,108.07 596.58,106.87 596.69,107.12 596.79,107.35 596.89,106.33 596.99,106.04 597.09,106.18 597.2,107.86 597.3,106.29 597.4,106.4 597.5,106.76 597.6,106.22 597.7,107.81 597.81,107.31 597.91,107.76 598.01,106.44 598.11,107.88 598.21,106.8 598.32,108.31 598.42,107.31 598.52,107.55 598.62,107.29 598.72,107.03 598.82,107.35 598.93,107.38 599.03,108.96 599.13,106.01 599.23,107.77 599.33,107.37 599.43,107.96 599.54,106.09 599.64,108.02 599.74,106.58 599.84,105.88 599.94,105.39 600.05,105.85 600.15,106.42 600.25,107.62 600.35,107.1 600.45,105.81 600.55,106.16 600.66,106.27 600.76,106.91 600.86,107.92 600.96,105.87 601.06,105.66 601.17,108 601.27,106 601.37,106.19 601.47,106 601.57,107.08 601.67,105.75 601.78,105.82 601.88,105.95 601.98,108.24 602.08,105.99 602.18,106.76 602.28,107.95 602.39,105.76 602.49,108.16 602.59,105.85 602.69,105.02 602.79,107.24 602.9,105.78 603,106.24 603.1,105.19 603.2,108.04 603.3,106.03 603.4,107.66 603.51,105.86 603.61,106.59 603.71,105.47 603.81,106.29 603.91,105.86 604.01,105.14 604.12,106.33 604.22,106 604.32,106.25 604.42,105 604.52,106.97 604.63,105.64 604.73,105.16 604.83,106.47 604.93,105.57 605.03,105.92 605.13,108.03 605.24,105.95 605.34,104.96 605.44,106.76 605.54,108.05 605.64,106.03 605.75,106.86 605.85,104.28 605.95,106.22 606.05,106.16 606.15,106.77 606.25,106.24 606.36,106.66 606.46,104.92 606.56,106.11 606.66,106.85 606.76,104.69 606.86,107.16 606.97,106.04 607.07,106.64 607.17,107.31 607.27,104.24 607.37,107.65 607.48,104.4 607.58,107.83 607.68,105.73 607.78,104.54 607.88,107.91 607.98,107.13 608.09,104.41 608.19,105.53 608.29,106.23 608.39,105.69 608.49,106.6 608.59,105.49 608.7,104.09 608.8,105.95 608.9,105.4 609,104.69 609.1,103.51 609.21,106.06 609.31,103.15 609.41,105.31 609.51,106.05 609.61,105.78 609.71,105.99 609.82,107.06 609.92,107.3 610.02,106.01 610.12,105.12 610.22,104.66 610.33,105.74 610.43,104.89 610.53,104.5 610.63,104.39 610.73,105.22 610.83,105.13 610.94,103.18 611.04,105.37 611.14,105.5 611.24,106.61 611.34,104.52 611.44,105.19 611.55,102.99 611.65,105.21 611.75,103.65 611.85,104.46 611.95,103.15 612.06,106.08 612.16,103.18 612.26,104.71 612.36,104.8 612.46,104.98 612.56,105.04 612.67,104.96 612.77,106.92 612.87,104.05 612.97,104.47 613.07,105.46 613.18,104.54 613.28,101.66 613.38,104.05 613.48,104.79 613.58,102.67 613.68,103.96 613.79,104.47 613.89,105.34 613.99,104.96 614.09,103.51 614.19,103.63 614.29,104.91 614.4,104.28 614.5,104.04 614.6,104.08 614.7,103.05 614.8,104.76 614.91,104.74 615.01,103.95 615.11,104.98 615.21,103.54 615.31,104.11 615.41,104.97 615.52,104.46 615.62,104.3 615.72,103.97 615.82,103.69 615.92,103.97 616.02,104.56 616.13,101.97 616.23,102.86 616.33,103.57 616.43,102.77 616.53,103.32 616.64,103.97 616.74,103.73 616.84,101.14 616.94,102.63 617.04,102.56 617.14,103.82 617.25,102.91 617.35,101.42 617.45,103.01 617.55,102.42 617.65,101.42 617.76,102.75 617.86,101.92 617.96,103.05 618.06,102.79 618.16,103.71 618.26,100.93 618.37,102.87 618.47,102.99 618.57,101.91 618.67,103.42 618.77,102.99 618.87,103.58 618.98,102.89 619.08,103.18 619.18,102.33 619.28,102.89 619.38,103.22 619.49,102.94 619.59,102.76 619.69,103.01 619.79,101.88 619.89,101.79 619.99,102.38 620.1,103.31 620.2,102.02 620.3,103.25 620.4,102.16 620.5,102.21 620.6,102.59 620.71,102.69 620.81,102.54 620.91,100.66 621.01,102.13 621.11,102.03 621.22,101.22 621.32,101.51 621.42,101.05 621.52,102.37 621.62,101.85 621.72,99.57 621.83,101.45 621.93,101.51 622.03,101.19 622.13,100.67 622.23,101.73 622.34,100.87 622.44,100.9 622.54,100.7 622.64,100.49 622.74,100.59 622.84,100.48 622.95,100.29 623.05,99.38 623.15,99.78 623.25,99.21 623.35,98.55 623.45,98.56 623.56,98.15 623.66,97.85 623.76,97.5 623.86,97.14 623.96,96.77 624.07,96.39 624.17,96.01 624.27,95.62 624.37,95.22 624.47,94.82 624.57,94.42 624.68,94.02 624.78,93.62 624.88,93.21 624.98,92.81 625.08,92.41 625.19,92.02 625.29,91.62 625.39,91.23 625.49,90.82 625.59,90.41 625.69,89.98 625.8,89.55 625.9,89.11 626,88.65 626.1,88.18 626.2,87.69 626.3,87.19 626.41,86.68 626.51,86.15 626.61,85.6 626.71,85.03 626.81,84.44 626.92,83.84 627.02,83.21 627.12,82.55 627.22,81.84 627.32,81.07 627.42,80.24 627.53,79.37 627.63,78.46 627.73,77.52 627.83,76.54 627.93,75.54 628.03,74.52 628.14,73.49 628.24,72.45 628.34,71.4 628.44,70.36 628.54,69.32 628.65,68.3 628.75,67.3 628.85,66.33 628.95,65.37 629.05,64.4 629.15,63.4 629.26,62.38 629.36,61.34 629.46,60.3 629.56,59.25 629.66,58.21 629.77,57.18 629.87,56.16 629.97,55.16 630.07,54.18 630.17,53.24 630.27,52.33 630.38,51.46 630.48,50.63 630.58,49.86 630.68,49.15 630.78,48.49 630.88,47.86 630.99,47.26 631.09,46.67 631.19,46.1 631.29,45.55 631.39,45.02 631.5,44.51 631.6,44.01 631.7,43.52 631.8,43.05 631.9,42.59 632,42.15 632.11,41.72 632.21,41.29 632.31,40.88 632.41,40.47 632.51,40.08 632.61,39.68 632.72,39.29 632.82,38.89 632.92,38.49 633.02,38.08 633.12,37.68 633.23,37.28 633.33,36.88 633.43,36.48 633.53,36.08 633.63,35.69 633.73,35.31 633.84,34.93 633.94,34.56 634.04,34.2 634.14,33.83 634.24,33.36 634.35,33.35 634.45,33.1 634.55,32.47 634.65,32.36 634.75,32.3 634.85,31.63 634.96,32.16 635.06,32.21 635.16,31.12 635.26,30.88 635.36,30.48 635.46,30.19 635.57,30.09 635.67,30.6 635.77,30.94 635.87,31.23 635.97,30.49 636.08,29.6 636.18,29.72 636.28,28.82 636.38,30.06 636.48,31 636.58,29.32 636.69,29.46 636.79,30.46 636.89,31.27 636.99,29.49 637.09,29.06 637.2,30.24 637.3,29.69 637.4,29.91 637.5,30.15 637.6,30.21 637.7,29.12 637.81,28.99 637.91,29.62 638.01,29.96 638.11,27.73 638.21,29.7 638.31,29.05 638.42,29.78 638.52,28.58 638.62,30 638.72,28.72 638.82,28.9 638.93,29.21 639.03,29.56 639.13,29.17 639.23,27.91 639.33,26.86 639.43,29.75 639.54,28.27 639.64,29.02 639.74,28.19 639.84,27.87 639.94,28.27 640.04,28.14 640.15,28.09 640.25,28.81 640.35,28.46 640.45,28.69 640.55,28.53 640.66,28.87 640.76,28.39 640.86,27.49 640.96,28.31 641.06,27.67 641.16,27.08 641.27,30.18 641.37,27.62 641.47,28.01 641.57,28.05 641.67,29.13 641.78,27.41 641.88,26.83 641.98,26.91 642.08,27.92 642.18,27.22 642.28,26.93 642.39,27.11 642.49,26.58 642.59,27.58 642.69,27.6 642.79,27.51 642.89,28.08 643,28.09 643.1,28.24 643.2,28.23 643.3,29.7 643.4,27.16 643.51,28.04 643.61,27.69 643.71,29.45 643.81,26.62 643.91,27.37 644.01,27.47 644.12,26.86 644.22,27.08 644.32,27.94 644.42,25.28 644.52,27.65 644.62,27.21 644.73,25.37 644.83,27.73 644.93,27.01 645.03,27.87 645.13,26.02 645.24,27.35 645.34,28.07 645.44,26.08 645.54,27.04 645.64,27.78 645.74,25.37 645.85,26.67 645.95,24.19 646.05,25.14 646.15,27.33 646.25,27.02 646.36,27.59 646.46,26.58 646.56,26.64 646.66,25.94 646.76,26.55 646.86,28.04 646.97,27.37 647.07,25.18 647.17,25.41 647.27,26.66 647.37,27.46 647.47,26.62 647.58,26.41 647.68,28.04 647.78,25.51 647.88,27 647.98,26.19 648.09,28.77 648.19,26.06 648.29,24.96 648.39,27.9 648.49,24.73 648.59,25.73 648.7,26.88 648.8,27.69 648.9,24.99 649,25.84 649.1,24.38 649.21,26.31 649.31,26.74 649.41,25.16 649.51,26.91 649.61,25.08 649.71,27.57 649.82,26.82 649.92,27.31 650.02,24.59 650.12,27.56 650.22,26.94 650.32,25.16 650.43,25.56 650.53,23.83 650.63,24.32 650.73,25.12 650.83,23.76 650.94,27.46 651.04,26.52 651.14,25.95 651.24,25.79 651.34,26.94 651.44,26.48 651.55,26.38 651.65,24.68 651.75,25.1 651.85,25.82 651.95,25.74 652.05,25.17 652.16,26.12 652.26,25.67 652.36,27.08 652.46,24.72 652.56,24.42 652.67,24.51 652.77,24.86 652.87,24.95 652.97,23.29 653.07,25.07 653.17,26.54 653.28,25.25 653.38,24.52 653.48,24.16 653.58,24.43 653.68,24.34 653.79,24.96 653.89,26.59 653.99,25.81 654.09,26.27 654.19,25.46 654.29,26.4 654.4,24.96 654.5,25.2 654.6,26.93 654.7,24.29 654.8,24.25 654.9,26.34 655.01,24.82 655.11,24.2 655.21,25.01 655.31,24.08 655.41,24.72 655.52,23.84 655.62,24.7 655.72,25.03 655.82,24.36 655.92,24.07 656.02,24.58 656.13,25.26 656.23,25.58 656.33,25.16 656.43,25.34 656.53,24.69 656.63,24.59 656.74,23.29 656.84,24.74 656.94,24.56 657.04,23.18 657.14,23.52 657.25,25.26 657.35,24.27 657.45,25 657.55,24.76 657.65,24.9 657.75,25.26 657.86,25.98 657.96,27.05 658.06,23.78 658.16,23.45 658.26,25.43 658.37,24.1 658.47,24.51 658.57,24.31 658.67,25.5 658.77,24.8 658.87,24.67 658.98,27.71 659.08,24.34 659.18,24.68 659.28,26.98 659.38,23.89 659.48,24.63 659.59,24.24 659.69,24.15 659.79,24.91 659.89,25.56 659.99,24.93 660.1,23.92 660.2,22.28 660.3,22.65 660.4,24.94 660.5,24.86 660.6,24.13 660.71,23.88 660.81,25.12 660.91,25.42 661.01,22.77 661.11,23.37 661.22,25.94 661.32,25.42 661.42,25.21 661.52,25.04 661.62,23.84 661.72,24.71 661.83,25.96 661.93,25.41 662.03,23.76 662.13,24.35 662.23,24.83 662.33,23.76 662.44,24.38 662.54,25.43 662.64,24.22 662.74,25.59 662.84,23.35 662.95,23.83 663.05,25.28 663.15,24.07 663.25,23.71 663.35,26.4 663.45,24.4 663.56,22.62 663.66,25.79 663.76,24.41 663.86,25.65 663.96,24.3 664.06,26.61 664.17,25.83 664.27,24.75 664.37,24.07 664.47,23.82 664.57,23.77 664.68,23.04 664.78,23.49 664.88,23.44 664.98,25.15 665.08,24.32 665.18,20.98 665.29,21.89 665.39,23.32 665.49,23.51 665.59,23.15 665.69,24.53 665.8,22.17 665.9,24.49 666,24.19 666.1,20.34 666.2,26.18 666.3,23.73 666.41,25.81 666.51,24.74 666.61,24.17 666.71,24.43 666.81,23.89 666.91,24.94 667.02,24.16 667.12,25.24 667.22,24.44 667.32,25.43 667.42,23.38 667.53,25.33 667.63,23.33 667.73,23.3 667.83,24.32 667.93,22.82 668.03,23.9 668.14,25.91 668.24,23.49 668.34,26.91 668.44,23.72 668.54,24.39 668.64,25.39 668.75,23.89 668.85,24.28 668.95,21.94 669.05,24.4 669.15,22 669.26,22.55 669.36,24.56 669.46,24.77 669.56,22.6 669.66,24.07 669.76,24.26 669.87,24.18 669.97,25.14 670.07,24.29 670.17,24.88 670.27,25.46 670.38,25.82 670.48,22.09 670.58,22.5 670.68,23.96 670.78,23.75 670.88,23.37 670.99,21.34 671.09,23.56 671.19,23.79 671.29,25.67 671.39,22.72 671.49,21.22 671.6,24.5 671.7,25.94 671.8,23.03 671.9,23.93 672,22.72 672.11,22.59 672.21,23.77 672.31,24.85 672.41,25.83 672.51,23.88 672.61,24.95 672.72,24.13 672.82,25.12 672.92,24.18 673.02,25.04 673.12,24.18 673.23,24.27 673.33,23.21 673.43,22.44 673.53,23.99 673.63,24.68 673.73,21.81 673.84,23.43 673.94,23.17 674.04,23.17 674.14,22.31 674.24,22.76 674.34,23.1 674.45,23 674.55,24.66 674.65,24.4" fill="none" stroke="#e0203f" stroke-width="1.2" stroke-linejoin="round" stroke-linecap="round" clip-path="url(#cb3)"/>
<path d="M583.15,109.12 583.25,107.55 583.35,107.25 583.46,108.2 583.56,107.89 583.66,109.13 583.76,109.65 583.86,108.55 583.96,108.35 584.07,109.17 584.17,108.12 584.27,107.98 584.37,107.76 584.47,107.17 584.57,107.65 584.68,108.42 584.78,108.11 584.88,107.79 584.98,108.86 585.08,107.31 585.19,107.59 585.29,108.33 585.39,108.6 585.49,105.69 585.59,107.63 585.69,107.56 585.8,107 585.9,107.54 586,108.04 586.1,107.72 586.2,108.77 586.31,107.71 586.41,109.18 586.51,107.9 586.61,107.81 586.71,109.19 586.81,106.92 586.92,108.92 587.02,107.49 587.12,108.52 587.22,107.97 587.32,108.6 587.42,106.54 587.53,107.49 587.63,106.98 587.73,107.65 587.83,107.71 587.93,108.06 588.04,108.32 588.14,107.76 588.24,108.06 588.34,108.26 588.44,109.06 588.54,108.36 588.65,107.76 588.75,108.46 588.85,107.93 588.95,108.25 589.05,108.83 589.16,108.74 589.26,108.64 589.36,108.34 589.46,108.32 589.56,107.42 589.66,108.86 589.77,109.49 589.87,107.7 589.97,108.44 590.07,108.22 590.17,106.48 590.27,107.19 590.38,107.76 590.48,107.52 590.58,108.06 590.68,107.51 590.78,108.54 590.89,108.6 590.99,108.44 591.09,107.1 591.19,107.12 591.29,108.53 591.39,107.37 591.5,108.24 591.6,107.43 591.7,108.34 591.8,107.5 591.9,108.2 592,108.32 592.11,108.14 592.21,108.02 592.31,108.51 592.41,109.02 592.51,107.01 592.62,108.38 592.72,109.31 592.82,109.61 592.92,109.96 593.02,108.52 593.12,107.23 593.23,109.19 593.33,108.33 593.43,109.32 593.53,107.39 593.63,107.87 593.74,107.9 593.84,107.23 593.94,107.03 594.04,107.43 594.14,108.49 594.24,108.98 594.35,108.79 594.45,109.25 594.55,106.92 594.65,108.23 594.75,108.02 594.85,107.97 594.96,106.77 595.06,108.47 595.16,107.32 595.26,107.9 595.36,108.19 595.47,109.35 595.57,107.49 595.67,108.58 595.77,108.39 595.87,107.94 595.97,108.03 596.08,107.35 596.18,108.53 596.28,107.98 596.38,107.9 596.48,108.07 596.58,107.63 596.69,108.25 596.79,107.29 596.89,108.54 596.99,109.02 597.09,108.1 597.2,107.3 597.3,108.41 597.4,108.48 597.5,108.3 597.6,107.96 597.7,108.18 597.81,107.86 597.91,109.2 598.01,107.08 598.11,107.68 598.21,108.63 598.32,107.16 598.42,107.76 598.52,107.09 598.62,108.83 598.72,106.97 598.82,108.02 598.93,109.41 599.03,107.56 599.13,108.25 599.23,108.72 599.33,108.19 599.43,109.32 599.54,107.66 599.64,108.19 599.74,108.22 599.84,107.11 599.94,108.02 600.05,108.47 600.15,108.66 600.25,108.08 600.35,107.34 600.45,108.42 600.55,108.71 600.66,107.42 600.76,107.99 600.86,108.04 600.96,106.66 601.06,108.82 601.17,107.89 601.27,109.19 601.37,108.22 601.47,107.63 601.57,107.28 601.67,108.85 601.78,107.47 601.88,107.5 601.98,108.09 602.08,106.39 602.18,108.01 602.28,108.59 602.39,107.73 602.49,109.23 602.59,106.98 602.69,107.35 602.79,108.26 602.9,107.59 603,107.64 603.1,106.72 603.2,108.4 603.3,108.84 603.4,109.33 603.51,108.18 603.61,109.02 603.71,108.1 603.81,107.71 603.91,108.27 604.01,108.6 604.12,107.19 604.22,108.11 604.32,107.82 604.42,107.35 604.52,108.83 604.63,108.57 604.73,106.32 604.83,108.07 604.93,108.65 605.03,108.13 605.13,108.34 605.24,108.76 605.34,108.22 605.44,107.97 605.54,107.96 605.64,107.6 605.75,109.09 605.85,108.93 605.95,107.42 606.05,108.23 606.15,107.14 606.25,107.74 606.36,108.86 606.46,107.58 606.56,108.6 606.66,107.76 606.76,107.12 606.86,106.54 606.97,107.97 607.07,107.46 607.17,107.72 607.27,107.4 607.37,109.59 607.48,108.17 607.58,107.72 607.68,107.6 607.78,108.4 607.88,107.36 607.98,107.18 608.09,107.85 608.19,108.05 608.29,108.13 608.39,107.8 608.49,107.12 608.59,106.9 608.7,108.19 608.8,108.49 608.9,108.4 609,107.23 609.1,107.73 609.21,107.68 609.31,107.56 609.41,107.62 609.51,107.95 609.61,108.55 609.71,108.27 609.82,107.78 609.92,107.6 610.02,108.1 610.12,108.13 610.22,106.95 610.33,108.15 610.43,107.7 610.53,108.05 610.63,108.4 610.73,108.83 610.83,108.19 610.94,108.37 611.04,107.28 611.14,108.58 611.24,108.1 611.34,107.39 611.44,107.89 611.55,107.49 611.65,107.27 611.75,108.9 611.85,108.08 611.95,108.43 612.06,106.92 612.16,107.88 612.26,107.47 612.36,106.69 612.46,108.03 612.56,107.74 612.67,107.52 612.77,107.96 612.87,106.96 612.97,107.25 613.07,107.12 613.18,107.74 613.28,108 613.38,108 613.48,108 613.58,108.83 613.68,107.52 613.79,107.23 613.89,107.76 613.99,108.07 614.09,107.73 614.19,107.6 614.29,107.53 614.4,106.57 614.5,108.29 614.6,107.5 614.7,107.28 614.8,107.68 614.91,107.87 615.01,108.38 615.11,108.1 615.21,107.25 615.31,106.75 615.41,108.11 615.52,107.37 615.62,107.33 615.72,107.01 615.82,107.49 615.92,107.35 616.02,107.05 616.13,108.37 616.23,107.57 616.33,108.73 616.43,108.85 616.53,108.09 616.64,108.53 616.74,107.19 616.84,106.86 616.94,107.68 617.04,107.56 617.14,107.6 617.25,107.6 617.35,107.32 617.45,107.16 617.55,107.67 617.65,107.85 617.76,107.66 617.86,106.78 617.96,107.55 618.06,106.32 618.16,107.38 618.26,106.32 618.37,107.95 618.47,107.6 618.57,106.81 618.67,106.78 618.77,107.17 618.87,105.72 618.98,106.96 619.08,106.79 619.18,107.31 619.28,105.85 619.38,106.33 619.49,106.59 619.59,107.87 619.69,106.56 619.79,107.05 619.89,106.47 619.99,106.1 620.1,107.13 620.2,106.48 620.3,106.02 620.4,106.44 620.5,106.72 620.6,107.15 620.71,106.86 620.81,107.21 620.91,105.72 621.01,106.25 621.11,107.05 621.22,106.24 621.32,107.02 621.42,108.26 621.52,105.34 621.62,105.32 621.72,106.97 621.83,106.44 621.93,105.81 622.03,106.14 622.13,106.4 622.23,106.14 622.34,105.91 622.44,106.07 622.54,105.53 622.64,105.75 622.74,106.04 622.84,105.47 622.95,106.49 623.05,104.44 623.15,106.41 623.25,105.28 623.35,104.93 623.45,104.81 623.56,104.82 623.66,104.1 623.76,105.54 623.86,104.77 623.96,104.54 624.07,104.85 624.17,104.81 624.27,103.51 624.37,104.67 624.47,104.41 624.57,104.16 624.68,104 624.78,103.64 624.88,103.73 624.98,103.26 625.08,103.26 625.19,102.93 625.29,102.32 625.39,103.32 625.49,101.91 625.59,102.79 625.69,102.09 625.8,102.16 625.9,102.18 626,102.67 626.1,101.05 626.2,101.77 626.3,101.56 626.41,100.73 626.51,100.84 626.61,100.1 626.71,99.98 626.81,100.02 626.92,99.89 627.02,99.51 627.12,99.54 627.22,98.95 627.32,98.55 627.42,98.11 627.53,97.58 627.63,97 627.73,96.35 627.83,95.63 627.93,94.84 628.03,93.96 628.14,93 628.24,91.95 628.34,90.65 628.44,88.3 628.54,85.04 628.65,81.16 628.75,75.91 628.85,69.13 628.95,62.57 629.05,55.79 629.15,50.54 629.26,46.66 629.36,43.4 629.46,41.05 629.56,39.75 629.66,38.7 629.77,37.74 629.87,36.86 629.97,36.07 630.07,35.35 630.17,34.7 630.27,34.12 630.38,33.57 630.48,33.09 630.58,32.75 630.68,32.36 630.78,32.36 630.88,31.78 630.99,31.42 631.09,31.03 631.19,31 631.29,30.94 631.39,30.88 631.5,30.42 631.6,30.15 631.7,29.53 631.8,29.81 631.9,29.84 632,29.5 632.11,29.5 632.21,29.22 632.31,30.03 632.41,29.6 632.51,29.26 632.61,28.23 632.72,28.38 632.82,28.12 632.92,27.39 633.02,28.55 633.12,27.11 633.23,27.45 633.33,28.01 633.43,26.51 633.53,28.24 633.63,27.95 633.73,27.27 633.84,26.78 633.94,27.06 634.04,28.2 634.14,26.95 634.24,26.73 634.35,24.99 634.45,25.65 634.55,26.37 634.65,27.06 634.75,26.09 634.85,26.98 634.96,26.05 635.06,25.89 635.16,26.32 635.26,25.85 635.36,26.17 635.46,26.27 635.57,24.89 635.67,25.45 635.77,25.97 635.87,26.21 635.97,25.57 636.08,25.29 636.18,25.06 636.28,24.63 636.38,25.23 636.48,26.18 636.58,24.16 636.69,24.66 636.79,24.83 636.89,24.47 636.99,26.21 637.09,25.47 637.2,25.52 637.3,24.41 637.4,25.87 637.5,25.29 637.6,24.1 637.7,24.61 637.81,25.22 637.91,23.76 638.01,25.75 638.11,24.59 638.21,24.99 638.31,24.49 638.42,24.96 638.52,25.28 638.62,24.59 638.72,25.52 638.82,24.33 638.93,24.83 639.03,24.02 639.13,24.86 639.23,24.97 639.33,24.27 639.43,23.72 639.54,25.77 639.64,24.37 639.74,24.02 639.84,25.29 639.94,24.92 640.04,23.94 640.15,24.84 640.25,24.7 640.35,23.2 640.45,24.85 640.55,24.78 640.66,25.67 640.76,24.89 640.86,24.96 640.96,23.09 641.06,23.38 641.16,24.93 641.27,22.88 641.37,23.61 641.47,24.2 641.57,23.56 641.67,23.82 641.78,24.53 641.88,25.14 641.98,24.59 642.08,24.01 642.18,24.22 642.28,24.46 642.39,23.37 642.49,24.64 642.59,23.4 642.69,24.26 642.79,23.88 642.89,24.65 643,23.95 643.1,24.43 643.2,25.03 643.3,23.94 643.4,23.96 643.51,23.4 643.61,23.74 643.71,24.56 643.81,24.3 643.91,25.48 644.01,24.62 644.12,23.09 644.22,22.95 644.32,23.42 644.42,23.71 644.52,23.53 644.62,23.59 644.73,24.98 644.83,24.44 644.93,23.14 645.03,23.14 645.13,23.73 645.24,24.07 645.34,24.12 645.44,24.22 645.54,24.45 645.64,25.08 645.74,23.77 645.85,24.15 645.95,23.99 646.05,22.78 646.15,23.48 646.25,24.29 646.36,23.48 646.46,24.8 646.56,23.18 646.66,23.68 646.76,23.96 646.86,23.48 646.97,22.92 647.07,24.12 647.17,24.45 647.27,22.49 647.37,23.81 647.47,22.88 647.58,24.25 647.68,23.58 647.78,24.22 647.88,23.41 647.98,23.98 648.09,24.23 648.19,22.83 648.29,23.59 648.39,25.08 648.49,23.95 648.59,24.38 648.7,24.56 648.8,24.16 648.9,24.09 649,23.77 649.1,24.29 649.21,24.96 649.31,24.12 649.41,23.22 649.51,24.64 649.61,23.38 649.71,23.48 649.82,24.05 649.92,23.57 650.02,24.24 650.12,24.02 650.22,24.41 650.32,23.47 650.43,22.89 650.53,24.19 650.63,23 650.73,25.1 650.83,24.31 650.94,24.39 651.04,22.65 651.14,24.12 651.24,23.25 651.34,25.04 651.44,23.67 651.55,23.38 651.65,23.76 651.75,25.46 651.85,23.62 651.95,23.21 652.05,22.89 652.16,23.47 652.26,24.79 652.36,23.85 652.46,23.14 652.56,24.24 652.67,23.36 652.77,24.02 652.87,23.65 652.97,23.23 653.07,24.16 653.17,21.88 653.28,23.61 653.38,23.48 653.48,24.17 653.58,23.66 653.68,23.87 653.79,24.62 653.89,24.67 653.99,23.51 654.09,23.75 654.19,25.36 654.29,25.05 654.4,23.88 654.5,23.73 654.6,23.29 654.7,24.47 654.8,23.3 654.9,23.87 655.01,24 655.11,23.76 655.21,23.04 655.31,23.31 655.41,23.1 655.52,24.11 655.62,23.85 655.72,24.41 655.82,24.01 655.92,23.91 656.02,23.96 656.13,23.2 656.23,23.38 656.33,23.17 656.43,23.57 656.53,22.97 656.63,23.58 656.74,23.03 656.84,23.33 656.94,23.18 657.04,23.69 657.14,24.43 657.25,24.56 657.35,22.39 657.45,23.39 657.55,23.35 657.65,23.74 657.75,23.93 657.86,21.8 657.96,24.35 658.06,23.67 658.16,23.66 658.26,24.35 658.37,24.44 658.47,24.07 658.57,23.84 658.67,23.93 658.77,23.1 658.87,24.37 658.98,23.36 659.08,22.68 659.18,23.05 659.28,24.34 659.38,25.5 659.48,23.07 659.59,23.29 659.69,23.98 659.79,22.79 659.89,23.86 659.99,23.54 660.1,24.27 660.2,23.4 660.3,23.88 660.4,23.92 660.5,22.91 660.6,23.46 660.71,24.55 660.81,23.15 660.91,23.06 661.01,24.13 661.11,23.84 661.22,23.56 661.32,23.75 661.42,23.51 661.52,23.17 661.62,23.9 661.72,22.26 661.83,24.04 661.93,23.93 662.03,22.33 662.13,22.06 662.23,23.56 662.33,23.7 662.44,24.26 662.54,22.85 662.64,23.47 662.74,24.12 662.84,23.32 662.95,22.7 663.05,23.14 663.15,22.16 663.25,22.83 663.35,23.29 663.45,23.59 663.56,23.22 663.66,22.79 663.76,23.02 663.86,22.89 663.96,23.42 664.06,23.08 664.17,22.79 664.27,23.67 664.37,24.39 664.47,22.46 664.57,23.19 664.68,23.84 664.78,23.41 664.88,23.72 664.98,24.65 665.08,23.67 665.18,24.46 665.29,23.43 665.39,23.62 665.49,22.83 665.59,23.63 665.69,23.31 665.8,23.74 665.9,23.79 666,24.44 666.1,22.92 666.2,23.44 666.3,23.92 666.41,23.41 666.51,23.81 666.61,24.01 666.71,23.39 666.81,22.77 666.91,23.72 667.02,24.45 667.12,23.94 667.22,22.4 667.32,24.06 667.42,22.78 667.53,23.69 667.63,23.07 667.73,23.61 667.83,24.55 667.93,23.8 668.03,22.19 668.14,23.62 668.24,23.18 668.34,23.75 668.44,23.62 668.54,23.33 668.64,23.23 668.75,22.12 668.85,23.54 668.95,23.65 669.05,23.95 669.15,24.37 669.26,24.56 669.36,23.11 669.46,24.72 669.56,22.63 669.66,22.98 669.76,23.72 669.87,24.26 669.97,23.51 670.07,23.51 670.17,22.81 670.27,24 670.38,23.77 670.48,23.56 670.58,23.7 670.68,23.92 670.78,24.62 670.88,24.57 670.99,23.95 671.09,23.67 671.19,22.88 671.29,22.05 671.39,22.43 671.49,23.27 671.6,22.32 671.7,23.59 671.8,23.86 671.9,22.04 672,24.2 672.11,23.78 672.21,23.69 672.31,22.59 672.41,23.9 672.51,23.02 672.61,23.78 672.72,24.3 672.82,23.37 672.92,23.41 673.02,24.25 673.12,24.07 673.23,24.02 673.33,22.9 673.43,23.22 673.53,23.36 673.63,23.2 673.73,23.82 673.84,23.21 673.94,23.9 674.04,24.36 674.14,23.96 674.24,23.38 674.34,23.45 674.45,22.84 674.55,24.59 674.65,23.65" fill="none" stroke="#1a12a6" stroke-width="1.3" stroke-linejoin="round" stroke-linecap="round" clip-path="url(#cb3)"/>
<path d="M42.5,226.32 42.75,226.31 43,226.31 43.25,226.3 43.5,226.29 43.75,226.29 44,226.28 44.25,226.27 44.51,226.27 44.76,226.26 45.01,226.25 45.26,226.25 45.51,226.24 45.76,226.23 46.01,226.23 46.26,226.22 46.51,226.21 46.76,226.21 47.01,226.2 47.26,226.19 47.51,226.19 47.76,226.18 48.01,226.17 48.26,226.17 48.52,226.16 48.77,226.15 49.02,226.15 49.27,226.14 49.52,226.13 49.77,226.13 50.02,226.12 50.27,226.11 50.52,226.11 50.77,226.1 51.02,226.09 51.27,226.09 51.52,226.08 51.77,226.07 52.02,226.07 52.27,226.06 52.53,226.05 52.78,226.05 53.03,226.04 53.28,226.03 53.53,226.03 53.78,226.02 54.03,226.01 54.28,226 54.53,226 54.78,225.99 55.03,225.98 55.28,225.98 55.53,225.97 55.78,225.96 56.03,225.96 56.28,225.95 56.54,225.94 56.79,225.94 57.04,225.93 57.29,225.92 57.54,225.91 57.79,225.91 58.04,225.9 58.29,225.89 58.54,225.89 58.79,225.88 59.04,225.87 59.29,225.87 59.54,225.86 59.79,225.85 60.04,225.84 60.29,225.84 60.55,225.83 60.8,225.82 61.05,225.81 61.3,225.81 61.55,225.8 61.8,225.79 62.05,225.78 62.3,225.78 62.55,225.77 62.8,225.76 63.05,225.75 63.3,225.75 63.55,225.74 63.8,225.73 64.05,225.72 64.3,225.71 64.56,225.7 64.81,225.7 65.06,225.69 65.31,225.68 65.56,225.67 65.81,225.66 66.06,225.65 66.31,225.64 66.56,225.64 66.81,225.63 67.06,225.62 67.31,225.61 67.56,225.6 67.81,225.59 68.06,225.58 68.31,225.57 68.57,225.56 68.82,225.55 69.07,225.54 69.32,225.53 69.57,225.52 69.82,225.51 70.07,225.49 70.32,225.48 70.57,225.47 70.82,225.46 71.07,225.45 71.32,225.43 71.57,225.42 71.82,225.41 72.07,225.39 72.32,225.38 72.58,225.37 72.83,225.35 73.08,225.34 73.33,225.32 73.58,225.3 73.83,225.29 74.08,225.27 74.33,225.25 74.58,225.24 74.83,225.22 75.08,225.2 75.33,225.18 75.58,225.16 75.83,225.14 76.08,225.12 76.33,225.09 76.59,225.07 76.84,225.05 77.09,225.02 77.34,225 77.59,224.97 77.84,224.94 78.09,224.91 78.34,224.88 78.59,224.85 78.84,224.82 79.09,224.79 79.34,224.76 79.59,224.72 79.84,224.69 80.09,224.65 80.34,224.61 80.6,224.57 80.85,224.53 81.1,224.48 81.35,224.44 81.6,224.39 81.85,224.35 82.1,224.3 82.35,224.24 82.6,224.19 82.85,224.14 83.1,224.08 83.35,224.02 83.6,223.96 83.85,223.89 84.1,223.82 84.35,223.75 84.61,223.68 84.86,223.6 85.11,223.52 85.36,223.43 85.61,223.33 85.86,223.23 86.11,223.11 86.36,222.98 86.61,222.84 86.86,222.67 87.11,222.47 87.36,222.23 87.61,221.95 87.86,221.6 88.11,221.17 88.36,220.63 88.62,219.95 88.87,219.1 89.12,218.02 89.37,216.65 89.62,214.94 89.87,212.81 90.12,210.21 90.37,207.07 90.62,203.39 90.87,199.17 91.12,194.49 91.37,189.49 91.62,184.34 91.87,179.26 92.12,174.43 92.37,170 92.63,166.08 92.88,162.71 93.13,159.88 93.38,157.55 93.63,155.67 93.88,154.16 94.13,152.96 94.38,152 94.63,151.24 94.88,150.64 95.13,150.15 95.38,149.76 95.63,149.44 95.88,149.17 96.13,148.94 96.38,148.75 96.64,148.58 96.89,148.43 97.14,148.29 97.39,148.17 97.64,148.05 97.89,147.94 98.14,147.84 98.39,147.74 98.64,147.65 98.89,147.56 99.14,147.48 99.39,147.4 99.64,147.32 99.89,147.24 100.14,147.17 100.39,147.1 100.65,147.03 100.9,146.96 101.15,146.9 101.4,146.84 101.65,146.78 101.9,146.72 102.15,146.66 102.4,146.61 102.65,146.55 102.9,146.5 103.15,146.45 103.4,146.41 103.65,146.36 103.9,146.32 104.15,146.27 104.4,146.23 104.66,146.19 104.91,146.15 105.16,146.11 105.41,146.08 105.66,146.04 105.91,146.01 106.16,145.98 106.41,145.95 106.66,145.92 106.91,145.89 107.16,145.86 107.41,145.83 107.66,145.8 107.91,145.78 108.16,145.75 108.41,145.73 108.67,145.71 108.92,145.68 109.17,145.66 109.42,145.64 109.67,145.62 109.92,145.6 110.17,145.58 110.42,145.56 110.67,145.55 110.92,145.53 111.17,145.51 111.42,145.5 111.67,145.48 111.92,145.46 112.17,145.45 112.42,145.43 112.68,145.42 112.93,145.41 113.18,145.39 113.43,145.38 113.68,145.37 113.93,145.35 114.18,145.34 114.43,145.33 114.68,145.32 114.93,145.31 115.18,145.29 115.43,145.28 115.68,145.27 115.93,145.26 116.18,145.25 116.43,145.24 116.69,145.23 116.94,145.22 117.19,145.21 117.44,145.2 117.69,145.19 117.94,145.18 118.19,145.17 118.44,145.16 118.69,145.16 118.94,145.15 119.19,145.14 119.44,145.13 119.69,145.12 119.94,145.11 120.19,145.1 120.44,145.1 120.7,145.09 120.95,145.08 121.2,145.07 121.45,145.06 121.7,145.05 121.95,145.05 122.2,145.04 122.45,145.03 122.7,145.02 122.95,145.02 123.2,145.01 123.45,145 123.7,144.99 123.95,144.99 124.2,144.98 124.45,144.97 124.71,144.96 124.96,144.96 125.21,144.95 125.46,144.94 125.71,144.93 125.96,144.93 126.21,144.92 126.46,144.91 126.71,144.91 126.96,144.9 127.21,144.89 127.46,144.89 127.71,144.88 127.96,144.87 128.21,144.86 128.46,144.86 128.72,144.85 128.97,144.84 129.22,144.84 129.47,144.83 129.72,144.82 129.97,144.82 130.22,144.81 130.47,144.8 130.72,144.8 130.97,144.79 131.22,144.78 131.47,144.77 131.72,144.77 131.97,144.76 132.22,144.75 132.47,144.75 132.73,144.74 132.98,144.73 133.23,144.73 133.48,144.72 133.73,144.71 133.98,144.71 134.23,144.7 134.48,144.69 134.73,144.69 134.98,144.68 135.23,144.67 135.48,144.67 135.73,144.66 135.98,144.65 136.23,144.65 136.48,144.64 136.74,144.63 136.99,144.63 137.24,144.62 137.49,144.61 137.74,144.61 137.99,144.6 138.24,144.59 138.49,144.59 138.74,144.58 138.99,144.57 139.24,144.57 139.49,144.56 139.74,144.55 139.99,144.55 140.24,144.54 140.49,144.53 140.75,144.53 141,144.52 141.25,144.51 141.5,144.51 141.75,144.5 142,144.49 142.25,144.49 142.5,144.48" fill="none" stroke="#6495ed" stroke-width="1.3" stroke-linejoin="round" stroke-linecap="round" clip-path="url(#ca3)"/>
<path d="M42.5,226.32 42.75,226.31 43,226.31 43.25,226.3 43.5,226.29 43.75,226.29 44,226.28 44.25,226.27 44.51,226.27 44.76,226.26 45.01,226.25 45.26,226.25 45.51,226.24 45.76,226.23 46.01,226.23 46.26,226.22 46.51,226.21 46.76,226.21 47.01,226.2 47.26,226.19 47.51,226.19 47.76,226.18 48.01,226.17 48.26,226.17 48.52,226.16 48.77,226.15 49.02,226.15 49.27,226.14 49.52,226.13 49.77,226.13 50.02,226.12 50.27,226.11 50.52,226.11 50.77,226.1 51.02,226.09 51.27,226.09 51.52,226.08 51.77,226.07 52.02,226.07 52.27,226.06 52.53,226.05 52.78,226.05 53.03,226.04 53.28,226.03 53.53,226.03 53.78,226.02 54.03,226.01 54.28,226 54.53,226 54.78,225.99 55.03,225.98 55.28,225.98 55.53,225.97 55.78,225.96 56.03,225.96 56.28,225.95 56.54,225.94 56.79,225.94 57.04,225.93 57.29,225.92 57.54,225.91 57.79,225.91 58.04,225.9 58.29,225.89 58.54,225.89 58.79,225.88 59.04,225.87 59.29,225.87 59.54,225.86 59.79,225.85 60.04,225.84 60.29,225.84 60.55,225.83 60.8,225.82 61.05,225.81 61.3,225.81 61.55,225.8 61.8,225.79 62.05,225.78 62.3,225.78 62.55,225.77 62.8,225.76 63.05,225.75 63.3,225.75 63.55,225.74 63.8,225.73 64.05,225.72 64.3,225.71 64.56,225.7 64.81,225.7 65.06,225.69 65.31,225.68 65.56,225.67 65.81,225.66 66.06,225.65 66.31,225.64 66.56,225.64 66.81,225.63 67.06,225.62 67.31,225.61 67.56,225.6 67.81,225.59 68.06,225.58 68.31,225.57 68.57,225.56 68.82,225.55 69.07,225.54 69.32,225.53 69.57,225.52 69.82,225.51 70.07,225.49 70.32,225.48 70.57,225.47 70.82,225.46 71.07,225.45 71.32,225.43 71.57,225.42 71.82,225.41 72.07,225.39 72.32,225.38 72.58,225.37 72.83,225.35 73.08,225.34 73.33,225.32 73.58,225.3 73.83,225.29 74.08,225.27 74.33,225.25 74.58,225.24 74.83,225.22 75.08,225.2 75.33,225.18 75.58,225.16 75.83,225.14 76.08,225.12 76.33,225.09 76.59,225.07 76.84,225.05 77.09,225.02 77.34,225 77.59,224.97 77.84,224.94 78.09,224.91 78.34,224.88 78.59,224.85 78.84,224.82 79.09,224.79 79.34,224.76 79.59,224.72 79.84,224.69 80.09,224.65 80.34,224.61 80.6,224.57 80.85,224.53 81.1,224.48 81.35,224.44 81.6,224.39 81.85,224.35 82.1,224.3 82.35,224.25 82.6,224.19 82.85,224.14 83.1,224.08 83.35,224.02 83.6,223.96 83.85,223.9 84.1,223.84 84.35,223.77 84.61,223.7 84.86,223.63 85.11,223.55 85.36,223.48 85.61,223.39 85.86,223.31 86.11,223.22 86.36,223.13 86.61,223.03 86.86,222.93 87.11,222.82 87.36,222.7 87.61,222.57 87.86,222.42 88.11,222.25 88.36,222.06 88.62,221.84 88.87,221.57 89.12,221.25 89.37,220.86 89.62,220.38 89.87,219.78 90.12,219.03 90.37,218.07 90.62,216.88 90.87,215.37 91.12,213.49 91.37,211.17 91.62,208.34 91.87,204.97 92.12,201.06 92.37,196.63 92.63,191.8 92.88,186.71 93.13,181.57 93.38,176.57 93.63,171.89 93.88,167.66 94.13,163.97 94.38,160.83 94.63,158.22 94.88,156.09 95.13,154.37 95.38,153 95.63,151.92 95.88,151.06 96.13,150.37 96.38,149.83 96.64,149.4 96.89,149.04 97.14,148.76 97.39,148.52 97.64,148.31 97.89,148.14 98.14,147.99 98.39,147.86 98.64,147.74 98.89,147.63 99.14,147.53 99.39,147.43 99.64,147.35 99.89,147.26 100.14,147.18 100.39,147.11 100.65,147.04 100.9,146.97 101.15,146.9 101.4,146.84 101.65,146.78 101.9,146.72 102.15,146.66 102.4,146.61 102.65,146.55 102.9,146.5 103.15,146.45 103.4,146.41 103.65,146.36 103.9,146.32 104.15,146.27 104.4,146.23 104.66,146.19 104.91,146.15 105.16,146.11 105.41,146.08 105.66,146.04 105.91,146.01 106.16,145.98 106.41,145.95 106.66,145.92 106.91,145.89 107.16,145.86 107.41,145.83 107.66,145.8 107.91,145.78 108.16,145.75 108.41,145.73 108.67,145.71 108.92,145.68 109.17,145.66 109.42,145.64 109.67,145.62 109.92,145.6 110.17,145.58 110.42,145.56 110.67,145.55 110.92,145.53 111.17,145.51 111.42,145.5 111.67,145.48 111.92,145.46 112.17,145.45 112.42,145.43 112.68,145.42 112.93,145.41 113.18,145.39 113.43,145.38 113.68,145.37 113.93,145.35 114.18,145.34 114.43,145.33 114.68,145.32 114.93,145.31 115.18,145.29 115.43,145.28 115.68,145.27 115.93,145.26 116.18,145.25 116.43,145.24 116.69,145.23 116.94,145.22 117.19,145.21 117.44,145.2 117.69,145.19 117.94,145.18 118.19,145.17 118.44,145.16 118.69,145.16 118.94,145.15 119.19,145.14 119.44,145.13 119.69,145.12 119.94,145.11 120.19,145.1 120.44,145.1 120.7,145.09 120.95,145.08 121.2,145.07 121.45,145.06 121.7,145.05 121.95,145.05 122.2,145.04 122.45,145.03 122.7,145.02 122.95,145.02 123.2,145.01 123.45,145 123.7,144.99 123.95,144.99 124.2,144.98 124.45,144.97 124.71,144.96 124.96,144.96 125.21,144.95 125.46,144.94 125.71,144.93 125.96,144.93 126.21,144.92 126.46,144.91 126.71,144.91 126.96,144.9 127.21,144.89 127.46,144.89 127.71,144.88 127.96,144.87 128.21,144.86 128.46,144.86 128.72,144.85 128.97,144.84 129.22,144.84 129.47,144.83 129.72,144.82 129.97,144.82 130.22,144.81 130.47,144.8 130.72,144.8 130.97,144.79 131.22,144.78 131.47,144.77 131.72,144.77 131.97,144.76 132.22,144.75 132.47,144.75 132.73,144.74 132.98,144.73 133.23,144.73 133.48,144.72 133.73,144.71 133.98,144.71 134.23,144.7 134.48,144.69 134.73,144.69 134.98,144.68 135.23,144.67 135.48,144.67 135.73,144.66 135.98,144.65 136.23,144.65 136.48,144.64 136.74,144.63 136.99,144.63 137.24,144.62 137.49,144.61 137.74,144.61 137.99,144.6 138.24,144.59 138.49,144.59 138.74,144.58 138.99,144.57 139.24,144.57 139.49,144.56 139.74,144.55 139.99,144.55 140.24,144.54 140.49,144.53 140.75,144.53 141,144.52 141.25,144.51 141.5,144.51 141.75,144.5 142,144.49 142.25,144.49 142.5,144.48" fill="none" stroke="#6495ed" stroke-width="1.3" stroke-linejoin="round" stroke-linecap="round" clip-path="url(#ca3)"/>
<path d="M42,210.26 43.12,209.93 45.38,209.27 48.75,208.28 53.25,206.96 57.84,205.62 62.53,204.26 67.31,202.88 72.19,201.49 76.14,200.34 79.18,199.43 81.3,198.77 82.5,198.35 83.8,197.79 85.2,197.08 86.7,196.24 88.3,195.25 89.91,194.24 91.52,193.22 93.14,192.19 94.76,191.15 96.34,190.21 97.86,189.39 99.34,188.67 100.76,188.07 101.88,187.11 102.69,185.8 103.2,184.14 103.4,182.13 103.6,180.06 103.8,177.94 104,175.78 104.2,173.55 105.31,171.64 107.34,170.02 110.28,168.72 114.12,167.72 118.46,166.61 123.27,165.39 128.56,164.07 134.34,162.64 138.67,161.57 141.56,160.85 143,160.5" fill="none" stroke="#ff4b1f" stroke-width="1.3" stroke-linejoin="round" stroke-linecap="round" clip-path="url(#ca3)"/>
<path d="M104.5,170.22 104.04,170.48 103.13,171 101.76,171.79 99.94,172.83 98.16,173.91 96.44,175.02 94.76,176.17 93.14,177.34 91.47,178.43 89.76,179.43 88,180.35 86.2,181.17 84.69,181.89 83.48,182.52 82.56,183.03 81.94,183.45 81.42,184.22 81.01,185.33 80.7,186.79 80.5,188.59 80.31,190.4 80.12,192.21 79.94,194.03 79.76,195.86 79.6,197.29 79.45,198.31 79.31,198.93 79.19,199.15 77.91,199.66 75.47,200.46 71.88,201.54 67.12,202.92 63.56,203.95 61.19,204.64 60,204.98" fill="none" stroke="#ff4b1f" stroke-width="1.3" stroke-linejoin="round" stroke-linecap="round" clip-path="url(#ca3)"/>
<path d="M162,197.83 163.35,197.17 166.05,196.88 170.1,195.8 175.5,194.4 180.24,193.96 184.33,192.45 187.75,192.4 190.51,191.54 193.51,190.68 196.75,189.76 200.22,188.64 203.92,187.24 206.81,186.34 208.89,184.76 210.14,184.74 210.58,183.97 210.97,183.43 211.31,182.09 211.6,181 211.84,180.67 212.12,180.14 212.43,179.73 212.78,179.1 213.17,178.92 213.98,178.62 215.2,177.75 216.85,178.15 218.91,176.82 221.76,176.55 225.4,176.03 229.84,174.72 235.06,174.01 240.27,173.54 245.46,172.14 250.63,171.6 255.78,170.52 259.64,169.84 262.21,169.53 263.5,169.06" fill="none" stroke="#6495ed" stroke-width="1.5" stroke-linejoin="round" stroke-linecap="round" clip-path="url(#ca4)"/>
<path d="M162,201.19 163.35,201.25 166.05,200.57 170.1,199.89 175.5,198.45 180.24,197.89 184.33,197.44 187.75,196.7 190.51,196 193.65,195.17 197.14,194.48 201.01,194.04 205.24,193.53 208.52,192.48 210.85,192.21 212.22,191.26 212.63,191.22 213.05,190.04 213.46,189.58 213.87,188.31 214.29,187.67 214.72,186.68 215.16,185.46 215.61,184.82 216.07,184.35 216.75,183.58 217.63,183.29 218.73,182.92 220.04,183.03 222.32,182.63 225.59,181.38 229.84,180.43 235.06,179.36 240.27,177.95 245.46,176.81 250.63,175.89 255.78,174.52 259.64,173.53 262.21,172.8 263.5,173.03" fill="none" stroke="#6495ed" stroke-width="1.5" stroke-linejoin="round" stroke-linecap="round" clip-path="url(#ca4)"/>
<path d="M263.5,144.79 262.21,145.02 259.64,144.9 255.78,145.21 250.63,145.63 245.51,145.81 240.42,146.32 235.36,146.53 230.34,146.54 225.94,146.63 222.17,147.6 219.03,147.46 216.52,148.08 214.54,147.91 213.1,147.88 212.18,148.29 211.81,148.22 211.47,148.45 211.18,148.46 210.92,149.08 210.71,149.51 210.54,150.25 210.41,152.63 210.33,154.75 210.29,158.34 210.26,163.24 210.23,170.38 210.2,180.36 210.17,191.22 210.15,200.23 210.12,206.75 210.08,212.4 210.04,215.75 209.95,218.24 209.81,220.13 209.61,220.98 209.36,221.53 208.78,221.64 207.87,222.09 206.63,222.47 205.06,222.38 202.62,222.69 199.32,222.87 195.16,223.22 190.14,223.69 185.08,223.83 179.99,224.17 174.87,224.08 169.72,224.65 165.86,225.15 163.29,224.95 162,225.13" fill="none" stroke="#ff4b1f" stroke-width="1.7" stroke-linejoin="round" stroke-linecap="round" clip-path="url(#ca4)"/>
<path d="M162,225.01 163.29,225.45 165.86,224.92 169.72,224.65 174.87,224.67 179.99,224.5 185.08,224.09 190.14,223.93 195.16,223.48 199.56,223.13 203.33,222.79 206.47,222.5 208.98,222.2 211,222.13 212.52,221.72 213.54,221.45 214.07,221.23 214.52,220.7 214.88,219.97 215.16,219.6 215.36,218.98 215.52,217.71 215.63,216.5 215.7,214.01 215.73,211.24 215.75,206.48 215.76,200.03 215.76,190.83 215.76,180.12 215.77,170.92 215.79,163.91 215.82,159.24 215.86,156.38 215.95,154.02 216.09,152.12 216.29,151.2 216.54,150.6 216.88,150.36 217.3,150 217.81,149.87 218.4,149.41 219.09,148.88 219.89,148.64 220.79,148.24 221.79,148.64 223.77,148.14 226.73,148.12 230.65,147.29 235.55,146.91 240.51,146.68 245.54,146.13 250.63,145.81 255.78,145.2 259.64,145.37 262.21,145.03 263.5,145.1" fill="none" stroke="#ff4b1f" stroke-width="1.7" stroke-linejoin="round" stroke-linecap="round" clip-path="url(#ca4)"/>
<path d="M336.5,211.29 336.84,211.2 337.17,211.11 337.51,211.02 337.85,210.92 338.19,210.83 338.52,210.73 338.86,210.63 339.2,210.54 339.53,210.44 339.87,210.34 340.21,210.24 340.55,210.13 340.88,210.03 341.22,209.93 341.56,209.82 341.89,209.72 342.23,209.61 342.57,209.5 342.91,209.39 343.24,209.28 343.58,209.17 343.92,209.06 344.25,208.95 344.59,208.83 344.93,208.72 345.27,208.6 345.6,208.48 345.94,208.37 346.28,208.25 346.61,208.13 346.95,208 347.29,207.88 347.63,207.76 347.96,207.63 348.3,207.51 348.64,207.38 348.97,207.25 349.31,207.11 349.65,206.95 349.98,206.79 350.32,206.64 350.66,206.48 351,206.32 351.33,206.16 351.67,206 352.01,205.84 352.34,205.67 352.68,205.51 353.02,205.34 353.36,205.18 353.69,205.01 354.03,204.84 354.37,204.68 354.7,204.51 355.04,204.34 355.38,204.17 355.72,204 356.05,203.82 356.39,203.65 356.73,203.48 357.06,203.3 357.4,203.12 357.74,202.95 358.08,202.77 358.41,202.59 358.75,202.41 359.09,202.23 359.42,202.05 359.76,201.87 360.1,201.68 360.44,201.5 360.77,201.32 361.11,201.13 361.45,200.94 361.78,200.76 362.12,200.57 362.46,200.38 362.8,200.19 363.13,200 363.47,199.81 363.81,199.62 364.14,199.42 364.48,199.23 364.82,199.04 365.16,198.84 365.49,198.65 365.83,198.45 366.17,198.25 366.5,198.05 366.84,197.86 367.18,197.66 367.52,197.46 367.85,197.26 368.19,197.05 368.53,196.85 368.86,196.65 369.2,196.45 369.54,196.24 369.88,196.04 370.21,195.83 370.55,195.63 370.89,195.42 371.22,195.21 371.56,195 371.9,194.8 372.24,194.59 372.57,194.38 372.91,194.17 373.25,193.96 373.58,193.75 373.92,193.54 374.26,193.32 374.59,193.11 374.93,192.9 375.27,192.69 375.61,192.47 375.94,192.26 376.28,192.05 376.62,191.83 376.95,191.62 377.29,191.4 377.63,191.19 377.97,190.97 378.3,190.75 378.64,190.54 378.98,190.32 379.31,190.11 379.65,189.89 379.99,189.67 380.33,189.46 380.66,189.24 381,189.02 381.34,188.8 381.67,188.59 382.01,188.37 382.35,188.15 382.69,187.93 383.02,187.71 383.36,187.5 383.7,187.28 384.03,187.06 384.37,186.84 384.71,186.61 385.05,186.35 385.38,186.03 385.72,185.56 386.06,184.85 386.39,184.06 386.73,183.46 387.07,183.08 387.41,182.8 387.74,182.56 388.08,182.34 388.42,182.12 388.75,181.9 389.09,181.69 389.43,181.48 389.77,181.26 390.1,181.05 390.44,180.83 390.78,180.62 391.11,180.41 391.45,180.2 391.79,179.99 392.13,179.78 392.46,179.57 392.8,179.36 393.14,179.15 393.47,178.94 393.81,178.73 394.15,178.52 394.49,178.32 394.82,178.11 395.16,177.91 395.5,177.7 395.83,177.5 396.17,177.29 396.51,177.09 396.85,176.89 397.18,176.69 397.52,176.49 397.86,176.29 398.19,176.09 398.53,175.89 398.87,175.7 399.21,175.5 399.54,175.31 399.88,175.11 400.22,174.92 400.55,174.73 400.89,174.53 401.23,174.34 401.56,174.15 401.9,173.97 402.24,173.78 402.58,173.59 402.91,173.41 403.25,173.22 403.59,173.04 403.92,172.86 404.26,172.68 404.6,172.5 404.94,172.32 405.27,172.14 405.61,171.96 405.95,171.79 406.28,171.61 406.62,171.44 406.96,171.27 407.3,171.09 407.63,170.92 407.97,170.76 408.31,170.59 408.64,170.42 408.98,170.26 409.32,170.09 409.66,169.93 409.99,169.77 410.33,169.61 410.67,169.45 411,169.29 411.34,169.14 411.68,168.98 412.02,168.83 412.35,168.67 412.69,168.52 413.03,168.37 413.36,168.22 413.7,168.08 414.04,167.93 414.38,167.79 414.71,167.64 415.05,167.5 415.39,167.36 415.72,167.22 416.06,167.08 416.4,166.94 416.74,166.81 417.07,166.68 417.41,166.54 417.75,166.41 418.08,166.28 418.42,166.15 418.76,166.02 419.1,165.9 419.43,165.77 419.77,165.65 420.11,165.53 420.44,165.41 420.78,165.29 421.12,165.17 421.46,165.05 421.79,164.94 422.13,164.82 422.47,164.71 422.8,164.6 423.14,164.49 423.48,164.38 423.82,164.27 424.15,164.17 424.49,164.06 424.83,163.95 425.16,163.82 425.5,163.69 425.84,163.57 426.17,163.44 426.51,163.32 426.85,163.2 427.19,163.07 427.52,162.95 427.86,162.83 428.2,162.72 428.53,162.6 428.87,162.48 429.21,162.37 429.55,162.25 429.88,162.14 430.22,162.03 430.56,161.92 430.89,161.81 431.23,161.7 431.57,161.59 431.91,161.48 432.24,161.38 432.58,161.27 432.92,161.17 433.25,161.07 433.59,160.96 433.93,160.86 434.27,160.76 434.6,160.66 434.94,160.57 435.28,160.47 435.61,160.37 435.95,160.28 436.29,160.18 436.63,160.09 436.96,160 437.3,159.91" fill="none" stroke="#e0203f" stroke-width="1.2" stroke-linejoin="round" stroke-linecap="round" clip-path="url(#cb4)"/>
<path d="M336.5,211.29 336.84,211.2 337.17,211.11 337.51,211.02 337.85,210.92 338.19,210.83 338.52,210.73 338.86,210.63 339.2,210.54 339.53,210.44 339.87,210.34 340.21,210.24 340.55,210.13 340.88,210.03 341.22,209.93 341.56,209.82 341.89,209.72 342.23,209.61 342.57,209.5 342.91,209.39 343.24,209.28 343.58,209.17 343.92,209.06 344.25,208.95 344.59,208.83 344.93,208.72 345.27,208.6 345.6,208.48 345.94,208.37 346.28,208.25 346.61,208.13 346.95,208 347.29,207.88 347.63,207.76 347.96,207.63 348.3,207.51 348.64,207.38 348.97,207.25 349.31,207.14 349.65,207.03 349.98,206.93 350.32,206.82 350.66,206.71 351,206.6 351.33,206.49 351.67,206.38 352.01,206.26 352.34,206.15 352.68,206.03 353.02,205.91 353.36,205.79 353.69,205.67 354.03,205.55 354.37,205.43 354.7,205.3 355.04,205.18 355.38,205.05 355.72,204.92 356.05,204.79 356.39,204.66 356.73,204.52 357.06,204.39 357.4,204.26 357.74,204.12 358.08,203.98 358.41,203.84 358.75,203.7 359.09,203.56 359.42,203.41 359.76,203.27 360.1,203.12 360.44,202.98 360.77,202.83 361.11,202.68 361.45,202.53 361.78,202.37 362.12,202.22 362.46,202.06 362.8,201.91 363.13,201.75 363.47,201.59 363.81,201.43 364.14,201.27 364.48,201.11 364.82,200.94 365.16,200.78 365.49,200.61 365.83,200.44 366.17,200.28 366.5,200.11 366.84,199.93 367.18,199.76 367.52,199.59 367.85,199.41 368.19,199.24 368.53,199.06 368.86,198.88 369.2,198.7 369.54,198.52 369.88,198.34 370.21,198.16 370.55,197.98 370.89,197.79 371.22,197.61 371.56,197.42 371.9,197.23 372.24,197.05 372.57,196.86 372.91,196.67 373.25,196.47 373.58,196.28 373.92,196.09 374.26,195.89 374.59,195.7 374.93,195.5 375.27,195.31 375.61,195.11 375.94,194.91 376.28,194.71 376.62,194.51 376.95,194.31 377.29,194.11 377.63,193.91 377.97,193.7 378.3,193.5 378.64,193.29 378.98,193.09 379.31,192.88 379.65,192.68 379.99,192.47 380.33,192.26 380.66,192.05 381,191.84 381.34,191.63 381.67,191.42 382.01,191.21 382.35,191 382.69,190.79 383.02,190.58 383.36,190.37 383.7,190.15 384.03,189.94 384.37,189.72 384.71,189.51 385.05,189.3 385.38,189.08 385.72,188.86 386.06,188.64 386.39,188.4 386.73,188.12 387.07,187.74 387.41,187.14 387.74,186.35 388.08,185.64 388.42,185.17 388.75,184.85 389.09,184.59 389.43,184.36 389.77,184.14 390.1,183.92 390.44,183.7 390.78,183.49 391.11,183.27 391.45,183.05 391.79,182.83 392.13,182.61 392.46,182.4 392.8,182.18 393.14,181.96 393.47,181.74 393.81,181.53 394.15,181.31 394.49,181.09 394.82,180.88 395.16,180.66 395.5,180.45 395.83,180.23 396.17,180.01 396.51,179.8 396.85,179.58 397.18,179.37 397.52,179.15 397.86,178.94 398.19,178.73 398.53,178.51 398.87,178.3 399.21,178.09 399.54,177.88 399.88,177.66 400.22,177.45 400.55,177.24 400.89,177.03 401.23,176.82 401.56,176.61 401.9,176.4 402.24,176.2 402.58,175.99 402.91,175.78 403.25,175.57 403.59,175.37 403.92,175.16 404.26,174.96 404.6,174.75 404.94,174.55 405.27,174.35 405.61,174.15 405.95,173.94 406.28,173.74 406.62,173.54 406.96,173.34 407.3,173.15 407.63,172.95 407.97,172.75 408.31,172.55 408.64,172.36 408.98,172.16 409.32,171.97 409.66,171.78 409.99,171.58 410.33,171.39 410.67,171.2 411,171.01 411.34,170.82 411.68,170.63 412.02,170.44 412.35,170.26 412.69,170.07 413.03,169.88 413.36,169.7 413.7,169.52 414.04,169.33 414.38,169.15 414.71,168.97 415.05,168.79 415.39,168.61 415.72,168.43 416.06,168.25 416.4,168.08 416.74,167.9 417.07,167.72 417.41,167.55 417.75,167.38 418.08,167.2 418.42,167.03 418.76,166.86 419.1,166.69 419.43,166.52 419.77,166.36 420.11,166.19 420.44,166.02 420.78,165.86 421.12,165.69 421.46,165.53 421.79,165.36 422.13,165.2 422.47,165.04 422.8,164.88 423.14,164.72 423.48,164.56 423.82,164.41 424.15,164.25 424.49,164.09 424.83,163.95 425.16,163.82 425.5,163.69 425.84,163.57 426.17,163.44 426.51,163.32 426.85,163.2 427.19,163.07 427.52,162.95 427.86,162.83 428.2,162.72 428.53,162.6 428.87,162.48 429.21,162.37 429.55,162.25 429.88,162.14 430.22,162.03 430.56,161.92 430.89,161.81 431.23,161.7 431.57,161.59 431.91,161.48 432.24,161.38 432.58,161.27 432.92,161.17 433.25,161.07 433.59,160.96 433.93,160.86 434.27,160.76 434.6,160.66 434.94,160.57 435.28,160.47 435.61,160.37 435.95,160.28 436.29,160.18 436.63,160.09 436.96,160 437.3,159.91" fill="none" stroke="#e0203f" stroke-width="1.2" stroke-linejoin="round" stroke-linecap="round" clip-path="url(#cb4)"/>
<path d="M336.5,222.19 336.84,222.17 337.17,222.14 337.51,222.11 337.85,222.09 338.19,222.06 338.52,222.04 338.86,222.01 339.2,221.99 339.53,221.96 339.87,221.93 340.21,221.91 340.55,221.88 340.88,221.86 341.22,221.83 341.56,221.8 341.89,221.78 342.23,221.75 342.57,221.73 342.91,221.7 343.24,221.67 343.58,221.65 343.92,221.62 344.25,221.6 344.59,221.57 344.93,221.54 345.27,221.52 345.6,221.49 345.94,221.46 346.28,221.44 346.61,221.41 346.95,221.39 347.29,221.36 347.63,221.33 347.96,221.31 348.3,221.28 348.64,221.25 348.97,221.22 349.31,221.2 349.65,221.17 349.98,221.14 350.32,221.12 350.66,221.09 351,221.06 351.33,221.03 351.67,221.01 352.01,220.98 352.34,220.95 352.68,220.92 353.02,220.89 353.36,220.86 353.69,220.83 354.03,220.81 354.37,220.78 354.7,220.75 355.04,220.72 355.38,220.69 355.72,220.66 356.05,220.62 356.39,220.59 356.73,220.56 357.06,220.53 357.4,220.5 357.74,220.46 358.08,220.43 358.41,220.4 358.75,220.36 359.09,220.33 359.42,220.29 359.76,220.25 360.1,220.22 360.44,220.18 360.77,220.14 361.11,220.1 361.45,220.06 361.78,220.02 362.12,219.97 362.46,219.93 362.8,219.88 363.13,219.84 363.47,219.79 363.81,219.74 364.14,219.69 364.48,219.63 364.82,219.58 365.16,219.52 365.49,219.46 365.83,219.4 366.17,219.34 366.5,219.27 366.84,219.2 367.18,219.13 367.52,219.05 367.85,218.98 368.19,218.9 368.53,218.81 368.86,218.72 369.2,218.63 369.54,218.53 369.88,218.43 370.21,218.33 370.55,218.22 370.89,218.1 371.22,217.98 371.56,217.85 371.9,217.72 372.24,217.58 372.57,217.44 372.91,217.29 373.25,217.13 373.58,216.96 373.92,216.79 374.26,216.61 374.59,216.42 374.93,216.22 375.27,216.01 375.61,215.79 375.94,215.57 376.28,215.33 376.62,215.09 376.95,214.83 377.29,214.57 377.63,214.29 377.97,214.01 378.3,213.71 378.64,213.4 378.98,213.07 379.31,212.73 379.65,212.37 379.99,211.98 380.33,211.56 380.66,211.09 381,210.56 381.34,209.92 381.67,209.13 382.01,208.12 382.35,206.79 382.69,205.02 383.02,202.64 383.36,199.54 383.7,195.62 384.03,190.99 384.37,185.92 384.71,180.84 385.05,176.18 385.38,172.22 385.72,169.08 386.06,166.67 386.39,164.87 386.73,163.52 387.07,162.5 387.41,161.7 387.74,161.06 388.08,160.51 388.42,160.04 388.75,159.62 389.09,159.23 389.43,158.87 389.77,158.53 390.1,158.2 390.44,157.89 390.78,157.59 391.11,157.3 391.45,157.03 391.79,156.76 392.13,156.51 392.46,156.26 392.8,156.03 393.14,155.8 393.47,155.58 393.81,155.38 394.15,155.18 394.49,154.99 394.82,154.8 395.16,154.63 395.5,154.46 395.83,154.3 396.17,154.15 396.51,154.01 396.85,153.87 397.18,153.73 397.52,153.61 397.86,153.49 398.19,153.37 398.53,153.26 398.87,153.15 399.21,153.05 399.54,152.96 399.88,152.86 400.22,152.78 400.55,152.69 400.89,152.61 401.23,152.53 401.56,152.46 401.9,152.39 402.24,152.32 402.58,152.25 402.91,152.19 403.25,152.13 403.59,152.07 403.92,152.01 404.26,151.95 404.6,151.9 404.94,151.85 405.27,151.8 405.61,151.75 405.95,151.7 406.28,151.66 406.62,151.61 406.96,151.57 407.3,151.53 407.63,151.49 407.97,151.45 408.31,151.41 408.64,151.37 408.98,151.33 409.32,151.29 409.66,151.26 409.99,151.22 410.33,151.19 410.67,151.15 411,151.12 411.34,151.09 411.68,151.06 412.02,151.02 412.35,150.99 412.69,150.96 413.03,150.93 413.36,150.9 413.7,150.87 414.04,150.84 414.38,150.81 414.71,150.78 415.05,150.75 415.39,150.72 415.72,150.69 416.06,150.66 416.4,150.64 416.74,150.61 417.07,150.58 417.41,150.55 417.75,150.52 418.08,150.5 418.42,150.47 418.76,150.44 419.1,150.41 419.43,150.39 419.77,150.36 420.11,150.33 420.44,150.31 420.78,150.28 421.12,150.25 421.46,150.23 421.79,150.2 422.13,150.17 422.47,150.15 422.8,150.12 423.14,150.09 423.48,150.07 423.82,150.04 424.15,150.01 424.49,149.99 424.83,149.96 425.16,149.94 425.5,149.91 425.84,149.88 426.17,149.86 426.51,149.83 426.85,149.81 427.19,149.78 427.52,149.75 427.86,149.73 428.2,149.7 428.53,149.68 428.87,149.65 429.21,149.62 429.55,149.6 429.88,149.57 430.22,149.55 430.56,149.52 430.89,149.5 431.23,149.47 431.57,149.44 431.91,149.42 432.24,149.39 432.58,149.37 432.92,149.34 433.25,149.32 433.59,149.29 433.93,149.26 434.27,149.24 434.6,149.21 434.94,149.19 435.28,149.16 435.61,149.14 435.95,149.11 436.29,149.08 436.63,149.06 436.96,149.03 437.3,149.01" fill="none" stroke="#1a12a6" stroke-width="1.5" stroke-linejoin="round" stroke-linecap="round" clip-path="url(#cb4)"/>
<path d="M336.5,222.19 336.84,222.17 337.17,222.14 337.51,222.12 337.85,222.09 338.19,222.06 338.52,222.04 338.86,222.01 339.2,221.99 339.53,221.96 339.87,221.94 340.21,221.91 340.55,221.88 340.88,221.86 341.22,221.83 341.56,221.81 341.89,221.78 342.23,221.76 342.57,221.73 342.91,221.7 343.24,221.68 343.58,221.65 343.92,221.63 344.25,221.6 344.59,221.57 344.93,221.55 345.27,221.52 345.6,221.5 345.94,221.47 346.28,221.45 346.61,221.42 346.95,221.39 347.29,221.37 347.63,221.34 347.96,221.32 348.3,221.29 348.64,221.26 348.97,221.24 349.31,221.21 349.65,221.18 349.98,221.16 350.32,221.13 350.66,221.11 351,221.08 351.33,221.05 351.67,221.03 352.01,221 352.34,220.97 352.68,220.95 353.02,220.92 353.36,220.89 353.69,220.87 354.03,220.84 354.37,220.81 354.7,220.78 355.04,220.76 355.38,220.73 355.72,220.7 356.05,220.67 356.39,220.65 356.73,220.62 357.06,220.59 357.4,220.56 357.74,220.53 358.08,220.5 358.41,220.47 358.75,220.44 359.09,220.42 359.42,220.39 359.76,220.36 360.1,220.32 360.44,220.29 360.77,220.26 361.11,220.23 361.45,220.2 361.78,220.17 362.12,220.13 362.46,220.1 362.8,220.07 363.13,220.03 363.47,220 363.81,219.96 364.14,219.93 364.48,219.89 364.82,219.85 365.16,219.81 365.49,219.77 365.83,219.73 366.17,219.69 366.5,219.65 366.84,219.6 367.18,219.56 367.52,219.51 367.85,219.46 368.19,219.42 368.53,219.36 368.86,219.31 369.2,219.26 369.54,219.2 369.88,219.14 370.21,219.08 370.55,219.02 370.89,218.96 371.22,218.89 371.56,218.82 371.9,218.74 372.24,218.67 372.57,218.59 372.91,218.51 373.25,218.42 373.58,218.33 373.92,218.23 374.26,218.14 374.59,218.03 374.93,217.92 375.27,217.81 375.61,217.69 375.94,217.57 376.28,217.44 376.62,217.3 376.95,217.16 377.29,217.01 377.63,216.86 377.97,216.69 378.3,216.52 378.64,216.34 378.98,216.16 379.31,215.96 379.65,215.76 379.99,215.55 380.33,215.33 380.66,215.1 381,214.86 381.34,214.61 381.67,214.35 382.01,214.07 382.35,213.79 382.69,213.5 383.02,213.2 383.36,212.88 383.7,212.54 384.03,212.19 384.37,211.82 384.71,211.41 385.05,210.97 385.38,210.47 385.72,209.88 386.06,209.16 386.39,208.27 386.73,207.1 387.07,205.54 387.41,203.46 387.74,200.7 388.08,197.16 388.42,192.83 388.75,187.91 389.09,182.78 389.43,177.88 389.77,173.58 390.1,170.07 390.44,167.34 390.78,165.28 391.11,163.74 391.45,162.59 391.79,161.7 392.13,160.99 392.46,160.41 392.8,159.91 393.14,159.46 393.47,159.06 393.81,158.69 394.15,158.34 394.49,158 394.82,157.69 395.16,157.38 395.5,157.09 395.83,156.81 396.17,156.54 396.51,156.28 396.85,156.03 397.18,155.79 397.52,155.56 397.86,155.34 398.19,155.13 398.53,154.92 398.87,154.73 399.21,154.54 399.54,154.36 399.88,154.19 400.22,154.03 400.55,153.88 400.89,153.73 401.23,153.59 401.56,153.45 401.9,153.32 402.24,153.2 402.58,153.08 402.91,152.97 403.25,152.86 403.59,152.75 403.92,152.66 404.26,152.56 404.6,152.47 404.94,152.38 405.27,152.3 405.61,152.22 405.95,152.15 406.28,152.07 406.62,152 406.96,151.94 407.3,151.87 407.63,151.81 407.97,151.75 408.31,151.69 408.64,151.63 408.98,151.58 409.32,151.53 409.66,151.48 409.99,151.43 410.33,151.38 410.67,151.33 411,151.29 411.34,151.24 411.68,151.2 412.02,151.16 412.35,151.12 412.69,151.08 413.03,151.04 413.36,151 413.7,150.97 414.04,150.93 414.38,150.89 414.71,150.86 415.05,150.83 415.39,150.79 415.72,150.76 416.06,150.73 416.4,150.69 416.74,150.66 417.07,150.63 417.41,150.6 417.75,150.57 418.08,150.54 418.42,150.51 418.76,150.48 419.1,150.45 419.43,150.42 419.77,150.39 420.11,150.36 420.44,150.33 420.78,150.3 421.12,150.28 421.46,150.25 421.79,150.22 422.13,150.19 422.47,150.16 422.8,150.14 423.14,150.11 423.48,150.08 423.82,150.05 424.15,150.03 424.49,150 424.83,149.97 425.16,149.95 425.5,149.92 425.84,149.89 426.17,149.87 426.51,149.84 426.85,149.81 427.19,149.79 427.52,149.76 427.86,149.73 428.2,149.71 428.53,149.68 428.87,149.66 429.21,149.63 429.55,149.6 429.88,149.58 430.22,149.55 430.56,149.53 430.89,149.5 431.23,149.47 431.57,149.45 431.91,149.42 432.24,149.4 432.58,149.37 432.92,149.34 433.25,149.32 433.59,149.29 433.93,149.27 434.27,149.24 434.6,149.21 434.94,149.19 435.28,149.16 435.61,149.14 435.95,149.11 436.29,149.09 436.63,149.06 436.96,149.03 437.3,149.01" fill="none" stroke="#1a12a6" stroke-width="1.5" stroke-linejoin="round" stroke-linecap="round" clip-path="url(#cb4)"/>
<path d="M457,214.9 457.37,214.41 458.13,214.79 459.26,214.66 460.78,213.64 462.67,213.22 464.93,212.79 467.58,212.1 470.6,210.94 473.45,211.05 476.13,210.13 478.64,209.02 480.97,208.05 483.13,207.97 485.11,207.79 486.92,206.93 488.56,206.48 490.09,205.42 491.53,205.2 492.86,204.25 494.09,204.63 495.21,203.77 496.24,202.59 497.16,202.17 497.98,202.29 498.73,201.7 499.41,201.07 500.03,200.77 500.58,200.57 501.07,199.57 501.49,198.42 501.84,198.22 502.12,197.29 502.37,196.7 502.59,196.21 502.77,195.22 502.92,194.06 503.03,193.32 503.11,192.05 503.16,191.24 503.17,189.82 503.18,188.74 503.2,187.31 503.21,186.28 503.23,184.75 503.24,183.46 503.26,181.98 503.28,180.79 503.3,178.92 503.35,178.75 503.42,176.65 503.53,175.69 503.66,174.45 503.83,173.43 504.02,172.72 504.25,171.61 504.5,170.83 504.78,169.85 505.1,169.27 505.44,168.57 505.82,168.74 506.23,167.41 506.67,167 507.14,166.9 507.65,166.84 508.24,165.68 508.92,165.36 509.68,165.43 510.53,165.14 511.47,164.35 512.49,163.92 513.6,163.81 514.8,163.93 516.11,163.4 517.52,163.27 519.05,162.71 520.69,162.38 522.44,162.2 524.3,161.65 526.26,161.38 528.34,160.71 530.52,160.39 532.81,160.24 535.19,159.61 537.68,159 540.27,158.85 542.97,158.29 545.76,157.59 548.66,156.81 551.2,156.72 553.37,156.69 555.18,155.48 556.63,155 557.72,154.98 558.44,154.79 558.8,154.64" fill="none" stroke="#e0203f" stroke-width="1.4" stroke-linejoin="round" stroke-linecap="round" clip-path="url(#cb5)"/>
<path d="M457,215.08 457.5,215.49 458.51,215.28 460.02,215.12 462.04,214.51 464.56,213.66 467.58,213.42 471.11,212.24 475.14,211.46 478.85,210.45 482.24,210.32 485.3,209.57 488.04,208.56 490.46,208.01 492.55,207.57 494.32,207.13 495.77,206.87 497.17,206.25 498.51,205.93 499.79,205.04 501.02,204.94 502.19,204.17 503.31,204.7 504.37,204.22 505.38,203.67 506.31,203.41 507.15,203.28 507.91,202.65 508.59,201.66 509.18,201.68 509.69,200.8 510.12,200.86 510.47,200.43 510.78,200.38 511.06,200.07 511.31,199.28 511.52,198.94 511.7,198.53 511.85,197.82 511.97,197.17 512.05,195.91 512.12,195.67 512.19,195.2 512.24,194.23 512.29,192.91 512.33,192.3 512.36,191.46 512.38,190.13 512.39,189.49 512.4,188.03 512.42,187.04 512.43,185.98 512.44,185.43 512.45,183.61 512.47,182.37 512.48,181.49 512.49,179.97 512.53,178.94 512.6,177.14 512.69,176.65 512.8,175.45 512.95,174.04 513.11,173.65 513.31,172.21 513.53,171.21 513.8,169.98 514.11,169.04 514.46,168.52 514.87,167.56 515.32,167.43 515.81,166.95 516.35,166.07 516.94,165.39 517.71,165.27 518.67,164.66 519.81,164.53 521.15,164.08 522.67,163.47 524.37,163.13 526.26,162.91 528.34,162.6 530.52,161.54 532.81,161.37 535.19,160.62 537.68,159.91 540.27,159.99 542.97,159.25 545.76,158.66 548.66,158.18 551.2,157.58 553.37,156.96 555.18,157.35 556.63,156.86 557.72,156.5 558.44,156.54 558.8,156.56" fill="none" stroke="#e0203f" stroke-width="1.4" stroke-linejoin="round" stroke-linecap="round" clip-path="url(#cb5)"/>
<path d="M457,206.88 457.72,206.73 459.17,206.44 461.34,206 464.24,205.41 466.46,204.88 468.01,204.4 468.87,203.98 469.06,203.6 469.94,203.11 471.52,202.5 473.79,201.77 476.75,200.92 479.79,199.93 482.9,198.82 486.1,197.57 489.38,196.18 492.38,194.81 495.11,193.46 497.56,192.12 499.74,190.79 501.59,189.5 503.1,188.25 504.28,187.04 505.12,185.87 505.9,184.72 506.61,183.61 507.26,182.52 507.84,181.45 508.52,180.45 509.31,179.52 510.2,178.66 511.19,177.86 512.84,176.81 515.13,175.51 518.07,173.95 521.67,172.14 525.4,170.41 529.27,168.77 533.29,167.2 537.45,165.71 541.51,164.3 545.48,162.97 549.35,161.72 553.13,160.55 555.97,159.67 557.86,159.09 558.8,158.79" fill="none" stroke="#1a12a6" stroke-width="1.6" stroke-linejoin="round" stroke-linecap="round" clip-path="url(#cb5)"/>
<path d="M457,211.56 458.51,211.1 461.53,210.2 466.07,208.84 472.12,207.03 477.47,205.39 482.13,203.9 486.1,202.57 489.38,201.4 492.43,200.2 495.27,198.98 497.88,197.73 500.28,196.45 502.32,195.31 504.03,194.3 505.38,193.42 506.39,192.67 507.24,191.9 507.93,191.1 508.47,190.28 508.84,189.43 509.24,188.55 509.66,187.65 510.09,186.72 510.55,185.76 510.98,184.91 511.39,184.16 511.77,183.53 512.14,182.99 513.31,182.14 515.29,180.97 518.07,179.48 521.67,177.68 525.41,175.92 529.32,174.22 533.38,172.57 537.6,170.97 540.82,169.67 543.02,168.66 544.22,167.94 544.41,167.52 545.43,166.9 547.29,166.11 549.98,165.12 553.51,163.95 556.16,163.08 557.92,162.49 558.8,162.2" fill="none" stroke="#1a12a6" stroke-width="1.6" stroke-linejoin="round" stroke-linecap="round" clip-path="url(#cb5)"/>
<path d="M578.5,206.21 578.89,205.95 579.28,206.04 579.67,205.74 580.06,205.83 580.45,205.15 580.84,205.64 581.22,205.35 581.61,205.26 582,205.32 582.39,204.94 582.78,205.05 583.17,205.01 583.56,204.81 583.95,204.86 584.34,204.33 584.73,204.34 585.12,204.15 585.51,204.53 585.89,204.07 586.28,204.17 586.67,203.87 587.06,203.49 587.45,203.59 587.84,203.56 588.23,203.15 588.62,203.05 589.01,202.75 589.4,203.41 589.79,202.81 590.18,202.84 590.56,202.8 590.95,202.46 591.34,202.6 591.73,202.69 592.12,202.27 592.51,202 592.9,201.4 593.29,201.81 593.68,201.77 594.07,201.8 594.46,201.31 594.85,201.14 595.24,200.91 595.62,201.1 596.01,200.8 596.4,200.97 596.79,200.3 597.18,200.52 597.57,200.62 597.96,199.63 598.35,199.61 598.74,199.49 599.13,199.33 599.52,199.46 599.91,198.85 600.29,199.14 600.68,198.35 601.07,198.54 601.46,198.81 601.85,198.07 602.24,197.66 602.63,197.97 603.02,197.52 603.41,197.62 603.8,197.53 604.19,197.77 604.58,196.78 604.96,196.96 605.35,196.61 605.74,196.75 606.13,196.52 606.52,195.91 606.91,196.05 607.3,195.87 607.69,195.87 608.08,195.37 608.47,195.06 608.86,195.14 609.25,194.89 609.64,194.92 610.02,194.17 610.41,194.41 610.8,194.12 611.19,193.53 611.58,193.74 611.97,193.83 612.36,193.5 612.75,193.18 613.14,192.53 613.53,192.66 613.92,192.56 614.31,192.13 614.69,191.83 615.08,192.07 615.47,191.39 615.86,191.31 616.25,191.2 616.64,191.59 617.03,190.84 617.42,190.38 617.81,190.53 618.2,189.77 618.59,190.03 618.98,190.06 619.36,189.51 619.75,189.36 620.14,189.03 620.53,189.05 620.92,188.51 621.31,188.7 621.7,188.34 622.09,188.42 622.48,188.11 622.87,187.68 623.26,187.65 623.65,187.39 624.04,187.13 624.42,186.81 624.81,186.49 625.2,186.27 625.59,186 625.98,185.96 626.37,185.91 626.76,185.92 627.15,185.43 627.54,185.32 627.93,185.32 628.32,184.36 628.71,184.89 629.09,184.21 629.48,183.95 629.87,183.9 630.26,183.08 630.65,183.42 631.04,183.37 631.43,182.61 631.82,182.95 632.21,182.87 632.6,182.57 632.99,182.27 633.38,181.91 633.76,181.64 634.15,181.82 634.54,181.21 634.93,180.59 635.32,181.02 635.71,180.68 636.1,180.29 636.49,179.97 636.88,180.17 637.27,180.02 637.66,179.83 638.05,179.16 638.44,179 638.82,179.46 639.21,179.24 639.6,178.85 639.99,178.7 640.38,178.08 640.77,177.92 641.16,177.35 641.55,177.4 641.94,177.34 642.33,176.91 642.72,177.16 643.11,177.08 643.49,176.57 643.88,176.18 644.27,176.54 644.66,175.8 645.05,175.62 645.44,175.72 645.83,175.38 646.22,175.29 646.61,175.03 647,174.68 647.39,174.84 647.78,174.26 648.16,174.11 648.55,173.92 648.94,174.36 649.33,174.16 649.72,173.43 650.11,173.53 650.5,173.37 650.89,173.21 651.28,173.16 651.67,172.76 652.06,172.68 652.45,172.5 652.84,172.08 653.22,172.27 653.61,171.6 654,172.16 654.39,170.97 654.78,171.65 655.17,171.07 655.56,170.83 655.95,170.87 656.34,170.55 656.73,170.58 657.12,170.78 657.51,170.17 657.89,169.84 658.28,170.06 658.67,170.16 659.06,169.77 659.45,169.42 659.84,169.28 660.23,168.96 660.62,168.93 661.01,168.8 661.4,169.2 661.79,168.15 662.18,168.48 662.56,168.17 662.95,168.29 663.34,168.12 663.73,167.94 664.12,167.48 664.51,167.36 664.9,167.42 665.29,167 665.68,167.39 666.07,167.06 666.46,167.15 666.85,166.65 667.24,166.8 667.62,166.47 668.01,166.19 668.4,166.9 668.79,165.86 669.18,166.15 669.57,166.17 669.96,166.41 670.35,165.94 670.74,166.27 671.13,165.64 671.52,165.59 671.91,165.05 672.29,165.41 672.68,165 673.07,164.88 673.46,164.58 673.85,164.99 674.24,164.67 674.63,165.06 675.02,164.88 675.41,164.6 675.8,164.45 676.19,164.62 676.58,164.35 676.96,164.02 677.35,164.18 677.74,164.03 678.13,164.1 678.52,163.52 678.91,163.35 679.3,163.6" fill="none" stroke="#e0203f" stroke-width="1.15" stroke-linejoin="round" stroke-linecap="round" clip-path="url(#cb6)"/>
<path d="M578.5,206.9 578.89,206.43 579.28,206.6 579.67,206.76 580.06,206.82 580.45,206.57 580.84,205.87 581.22,206.39 581.61,205.54 582,206.08 582.39,206.03 582.78,205.6 583.17,205.84 583.56,205.61 583.95,205.82 584.34,205.76 584.73,205.55 585.12,205.24 585.51,205.33 585.89,205.51 586.28,204.87 586.67,204.9 587.06,204.82 587.45,204.78 587.84,205.02 588.23,204.07 588.62,204.41 589.01,204.08 589.4,203.77 589.79,203.71 590.18,203.79 590.56,203.71 590.95,203.53 591.34,203.27 591.73,203.22 592.12,203.32 592.51,203 592.9,202.88 593.29,202.69 593.68,202.66 594.07,202.28 594.46,202.4 594.85,202.11 595.24,202.16 595.62,202.16 596.01,202.1 596.4,201.79 596.79,201.5 597.18,201.19 597.57,201.35 597.96,201.29 598.35,201.14 598.74,200.6 599.13,200.71 599.52,200.69 599.91,200.27 600.29,200.57 600.68,200.1 601.07,199.98 601.46,199.84 601.85,199.91 602.24,199.28 602.63,198.97 603.02,199.46 603.41,198.98 603.8,198.7 604.19,198.18 604.58,198.6 604.96,198.55 605.35,198.17 605.74,197.56 606.13,197.81 606.52,197.6 606.91,197.09 607.3,197.77 607.69,197.6 608.08,196.75 608.47,196.6 608.86,196.89 609.25,196.29 609.64,196.21 610.02,195.99 610.41,196.03 610.8,195.77 611.19,195.67 611.58,195.28 611.97,195.15 612.36,194.55 612.75,194.58 613.14,194.87 613.53,194.24 613.92,193.83 614.31,193.88 614.69,193.51 615.08,193.56 615.47,193.2 615.86,193.36 616.25,192.78 616.64,193.06 617.03,192.27 617.42,192.68 617.81,192.61 618.2,191.83 618.59,191.78 618.98,191.51 619.36,191.24 619.75,191.13 620.14,191.11 620.53,190.66 620.92,190.42 621.31,190.18 621.7,189.65 622.09,190.03 622.48,189.65 622.87,189.33 623.26,189.34 623.65,189.29 624.04,188.94 624.42,188.37 624.81,188.45 625.2,188.04 625.59,188.12 625.98,187.65 626.37,187.68 626.76,187.5 627.15,187.08 627.54,186.88 627.93,186.35 628.32,186.81 628.71,186.13 629.09,185.67 629.48,185.51 629.87,185.68 630.26,185.53 630.65,185.27 631.04,184.88 631.43,184.69 631.82,184.44 632.21,184.17 632.6,184.32 632.99,184.12 633.38,183.93 633.76,183.74 634.15,183.25 634.54,182.95 634.93,182.25 635.32,182.47 635.71,182.37 636.1,181.85 636.49,182.11 636.88,181.66 637.27,181.31 637.66,181.14 638.05,181.02 638.44,180.97 638.82,180.96 639.21,180.51 639.6,180.4 639.99,179.91 640.38,179.88 640.77,179.52 641.16,179.79 641.55,179.02 641.94,179.22 642.33,179.17 642.72,178.92 643.11,178.56 643.49,177.97 643.88,177.86 644.27,178.07 644.66,177.6 645.05,177.44 645.44,177.57 645.83,177.24 646.22,177.28 646.61,176.83 647,177.02 647.39,176.42 647.78,176.26 648.16,176.04 648.55,175.86 648.94,175.24 649.33,175.38 649.72,175.06 650.11,174.76 650.5,174.55 650.89,174.41 651.28,174.5 651.67,174.44 652.06,174.19 652.45,173.94 652.84,173.66 653.22,173.5 653.61,173.07 654,173.15 654.39,172.57 654.78,172.56 655.17,172.72 655.56,172.26 655.95,172.9 656.34,171.81 656.73,171.85 657.12,171.69 657.51,171.98 657.89,170.9 658.28,171.34 658.67,171.16 659.06,170.72 659.45,170.85 659.84,170.84 660.23,170.35 660.62,170.56 661.01,170.03 661.4,170.01 661.79,169.64 662.18,170 662.56,169.32 662.95,169.38 663.34,168.87 663.73,169.3 664.12,168.61 664.51,168.72 664.9,168.56 665.29,168.75 665.68,168.33 666.07,168.17 666.46,168.36 666.85,168.29 667.24,168.08 667.62,167.46 668.01,167.61 668.4,167.31 668.79,167.33 669.18,167.24 669.57,167.09 669.96,167.1 670.35,166.62 670.74,166.73 671.13,166.59 671.52,166.82 671.91,166.34 672.29,166.43 672.68,166.28 673.07,165.83 673.46,166.18 673.85,165.87 674.24,165.58 674.63,165.35 675.02,165.61 675.41,165.32 675.8,165.22 676.19,165.42 676.58,165.53 676.96,165.38 677.35,164.73 677.74,164.73 678.13,164.95 678.52,164.69 678.91,164.54 679.3,164.44" fill="none" stroke="#e0203f" stroke-width="1.15" stroke-linejoin="round" stroke-linecap="round" clip-path="url(#cb6)"/>
<path d="M679.8,150.07 679.51,150.09 678.93,150.14 678.06,150.21 676.89,150.3 675.43,150.42 673.69,150.56 671.65,150.72 669.31,150.91 667.01,151.1 664.75,151.29 662.51,151.49 660.31,151.69 658.13,151.89 655.99,152.1 653.88,152.3 651.8,152.52 649.83,152.76 647.96,153.04 646.2,153.36 644.55,153.7 643,154.08 641.56,154.49 640.22,154.94 639,155.42 637.84,155.93 636.77,156.47 635.77,157.05 634.85,157.66 634.01,158.31 633.25,158.99 632.56,159.7 631.95,160.44 631.37,161.23 630.84,162.05 630.34,162.92 629.89,163.82 629.47,164.76 629.09,165.75 628.75,166.77 628.45,167.84 628.17,168.95 627.93,170.12 627.72,171.35 627.54,172.62 627.38,173.95 627.26,175.33 627.17,176.77 627.1,178.26 627.03,179.76 626.95,181.28 626.87,182.81 626.77,184.35 626.67,185.91 626.56,187.47 626.44,189.06 626.32,190.65 626.18,192.14 626.02,193.5 625.84,194.76 625.66,195.91 625.45,196.94 625.23,197.85 624.99,198.66 624.74,199.35 624.45,200.01 624.12,200.65 623.75,201.26 623.34,201.85 622.89,202.41 622.4,202.94 621.88,203.44 621.31,203.92 620.54,204.45 619.58,205.04 618.43,205.68 617.07,206.37 615.52,207.11 613.77,207.91 611.83,208.76 609.68,209.67 607.43,210.52 605.07,211.34 602.6,212.1 600.01,212.82 597.32,213.49 594.52,214.12 591.6,214.69 588.58,215.23 585.93,215.69 583.67,216.09 581.78,216.42 580.26,216.69 579.13,216.89 578.37,217.02 578,217.09" fill="none" stroke="#1a12a6" stroke-width="1.6" stroke-linejoin="round" stroke-linecap="round" clip-path="url(#cb6)"/>
<path d="M578,220.07 578.37,220.02 579.13,219.93 580.26,219.79 581.78,219.6 583.67,219.37 585.93,219.09 588.58,218.76 591.6,218.39 594.52,217.98 597.32,217.53 600.01,217.03 602.6,216.5 605.07,215.93 607.43,215.32 609.68,214.67 611.83,213.98 613.81,213.28 615.64,212.57 617.31,211.86 618.82,211.14 620.17,210.42 621.37,209.69 622.41,208.95 623.29,208.2 624.1,207.45 624.84,206.7 625.51,205.93 626.11,205.16 626.64,204.38 627.1,203.6 627.48,202.81 627.8,202.01 628.09,201.16 628.37,200.27 628.62,199.34 628.86,198.35 629.08,197.32 629.27,196.24 629.45,195.12 629.61,193.95 629.76,192.78 629.9,191.61 630.03,190.44 630.16,189.27 630.28,188.1 630.39,186.93 630.49,185.76 630.59,184.59 630.69,183.41 630.8,182.21 630.92,181 631.04,179.78 631.18,178.54 631.32,177.29 631.47,176.03 631.62,174.75 631.84,173.48 632.11,172.22 632.43,170.96 632.81,169.71 633.24,168.47 633.73,167.23 634.27,166 634.87,164.78 635.58,163.63 636.41,162.57 637.35,161.59 638.41,160.68 639.57,159.86 640.86,159.11 642.26,158.45 643.77,157.86 645.28,157.32 646.79,156.81 648.3,156.35 649.82,155.92 651.33,155.54 652.84,155.19 654.35,154.88 655.86,154.62 657.48,154.36 659.2,154.11 661.01,153.86 662.94,153.62 664.96,153.39 667.09,153.16 669.31,152.94 671.65,152.73 673.69,152.54 675.43,152.38 676.89,152.25 678.06,152.15 678.93,152.07 679.51,152.01 679.8,151.99" fill="none" stroke="#1a12a6" stroke-width="1.6" stroke-linejoin="round" stroke-linecap="round" clip-path="url(#cb6)"/>
<path d="M58.61,269.89 59.6,269.89 60.58,269.89 61.57,269.89 62.56,269.89 63.55,269.89 64.53,269.89 65.52,269.89 66.51,269.89 67.5,269.89 68.48,269.89 69.47,269.89 70.46,269.89 71.45,269.89 72.43,269.89 73.42,269.89 74.41,269.89 75.4,269.89 76.38,269.89 77.37,269.89 78.36,269.89 79.35,269.9 80.33,269.9 81.32,269.9 82.31,269.9 83.29,269.9 84.28,269.9 85.27,269.9 86.26,269.9 87.24,269.9 88.23,269.9 89.22,269.9 90.21,269.9 91.19,269.91 92.18,269.91 93.17,269.91 94.16,269.91 95.14,269.91 96.13,269.91 97.12,269.92 98.11,269.92 99.09,269.92 100.08,269.92 101.07,269.93 102.06,269.93 103.04,269.93 104.03,269.93 105.02,269.94 106,269.94 106.99,269.95 107.98,269.95 108.97,269.96 109.95,269.96 110.94,269.97 111.93,269.97 112.92,269.98 113.9,269.99 114.89,269.99 115.88,270 116.87,270.01 117.85,270.02 118.84,270.03 119.83,270.04 120.82,270.05 121.8,270.07 122.79,270.08 123.78,270.1 124.76,270.11 125.75,270.13 126.74,270.15 127.73,270.17 128.71,270.19 129.7,270.21 130.69,270.24 131.68,270.26 132.66,270.29 133.65,270.33 134.64,270.36 135.63,270.39 136.61,270.43 137.6,270.48 138.59,270.52 139.58,270.57 140.56,270.62 141.55,270.68 142.54,270.74 143.53,270.8 144.51,270.87 145.5,270.95 146.49,271.03 147.47,271.12 148.46,271.21 149.45,271.31 150.44,271.42 151.42,271.54 152.41,271.66 153.4,271.8 154.39,271.94 155.37,272.09 156.36,272.26 157.35,272.44 158.34,272.63 159.32,272.83 160.31,273.05 161.3,273.28 162.29,273.54 163.27,273.8 164.26,274.09 165.25,274.4 166.24,274.72 167.22,275.07 168.21,275.45 169.2,275.85 170.18,276.27 171.17,276.72 172.16,277.2 173.15,277.71 174.13,278.25 175.12,278.82 176.11,279.43 177.1,280.07 178.08,280.75 179.07,281.47 180.06,282.22 181.05,283.02 182.03,283.85 183.02,284.73 184.01,285.65 185,286.61 185.98,287.61 186.97,288.65 187.96,289.73 188.95,290.86 189.93,292.02 190.92,293.22 191.91,294.46 192.89,295.73 193.88,297.03 194.87,298.37 195.86,299.73 196.84,301.12 197.83,302.52 198.82,303.94 199.81,305.38 200.79,306.83 201.78,308.28 202.77,309.73 203.76,311.18 204.74,312.63 205.73,314.06 206.72,315.48 207.71,316.88 208.69,318.26 209.68,319.62 210.67,320.95 211.65,322.25 212.64,323.51 213.63,324.74 214.62,325.93 215.6,327.09 216.59,328.2 217.58,329.28 218.57,330.31 219.55,331.3 220.54,332.25 221.53,333.16 222.52,334.03 223.5,334.85 224.49,335.64 225.48,336.39 226.47,337.1 227.45,337.77 228.44,338.4 229.43,339 230.42,339.57 231.4,340.1 232.39,340.6 233.38,341.08 234.36,341.52 235.35,341.94 236.34,342.33 237.33,342.7 238.31,343.05 239.3,343.37 240.29,343.67 241.28,343.95 242.26,344.22 243.25,344.47 244.24,344.7 245.23,344.91 246.21,345.11 247.2,345.3 248.19,345.48 249.18,345.64 250.16,345.79 251.15,345.93 252.14,346.06 253.13,346.19 254.11,346.3 255.1,346.41" fill="none" stroke="#f52a20" stroke-width="1.25" stroke-linejoin="round" stroke-linecap="round" stroke-dasharray="3.8,1.9" stroke-linecap="butt"/>
<circle cx="54.6" cy="269.56" r="3" fill="#000"/>
<circle cx="174.9" cy="278.66" r="3" fill="#000"/>
<circle cx="215" cy="327.83" r="3" fill="#000"/>
<circle cx="255.1" cy="346.26" r="3" fill="#000"/>
<path d="M357.51,297.1 359.01,298.19 360.5,299.27 362,300.34 363.5,301.4 365,302.45 366.49,303.48 367.99,304.5 369.49,305.51 370.99,306.5 372.48,307.48 373.98,308.45 375.48,309.41 376.98,310.36 378.47,311.29 379.97,312.21 381.47,313.12 382.97,314.02 384.46,314.91 385.96,315.78 387.46,316.64 388.96,317.49 390.45,318.32 391.95,319.14 393.45,319.96 394.95,320.75 396.44,321.54 397.94,322.31 399.44,323.08 400.94,323.83 402.43,324.56 403.93,325.29 405.43,326 406.93,326.7 408.42,327.39 409.92,328.06 411.42,328.73 412.92,329.38 414.41,330.02 415.91,330.64 417.41,331.26 418.9,331.86 420.4,332.45 421.9,333.03 423.4,333.59 424.89,334.15 426.39,334.69 427.89,335.21 429.39,335.73 430.88,336.23 432.38,336.72 433.88,337.2 435.38,337.67 436.87,338.12 438.37,338.57 439.87,339 441.37,339.41 442.86,339.82 444.36,340.21 445.86,340.59 447.36,340.96 448.85,341.32 450.35,341.66 451.85,341.99 453.35,342.31 454.84,342.62 456.34,342.91 457.84,343.19 459.34,343.46 460.83,343.72 462.33,343.97 463.83,344.2 465.33,344.42 466.82,344.63 468.32,344.83 469.82,345.01 471.32,345.18 472.81,345.34 474.31,345.49 475.81,345.62 477.3,345.74 478.8,345.85 480.3,345.95 481.8,346.04 483.29,346.11 484.79,346.17 486.29,346.22 487.79,346.26 489.28,346.28 490.78,346.29 492.28,346.29 493.78,346.28 495.27,346.25 496.77,346.22 498.27,346.17 499.77,346.1 501.26,346.03 502.76,345.94 504.26,345.84 505.76,345.73 507.25,345.61 508.75,345.47 510.25,345.32 511.75,345.16 513.24,344.99 514.74,344.81 516.24,344.61 517.74,344.4 519.23,344.18 520.73,343.94 522.23,343.7 523.73,343.44 525.22,343.17 526.72,342.88 528.22,342.59 529.72,342.28 531.21,341.96 532.71,341.63 534.21,341.28 535.71,340.92 537.2,340.55 538.7,340.17 540.2,339.78 541.69,339.37 543.19,338.95 544.69,338.52 546.19,338.08 547.68,337.62 549.18,337.16 550.68,336.68 552.18,336.18 553.67,335.68 555.17,335.16 556.67,334.63 558.17,334.09 559.66,333.54 561.16,332.97 562.66,332.39 564.16,331.8 565.65,331.2 567.15,330.58 568.65,329.95 570.15,329.31 571.64,328.66 573.14,328 574.64,327.32 576.14,326.63 577.63,325.93 579.13,325.22 580.63,324.49 582.13,323.75 583.62,323 585.12,322.24 586.62,321.46 588.12,320.67 589.61,319.87 591.11,319.06 592.61,318.24 594.11,317.4 595.6,316.55 597.1,315.69 598.6,314.82 600.09,313.93 601.59,313.03 603.09,312.12 604.59,311.2 606.08,310.26 607.58,309.32 609.08,308.36 610.58,307.38 612.07,306.4 613.57,305.4 615.07,304.39 616.57,303.37 618.06,302.34 619.56,301.29 621.06,300.24 622.56,299.17 624.05,298.08 625.55,296.99 627.05,295.88 628.55,294.76 630.04,293.63 631.54,292.48 633.04,291.33 634.54,290.16 636.03,288.98 637.53,287.79 639.03,286.58 640.53,285.36 642.02,284.13 643.52,282.89 645.02,281.63 646.52,280.37 648.01,279.09 649.51,277.8 651.01,276.49 652.51,275.17 654,273.85 655.5,272.51" fill="none" stroke="#f52a20" stroke-width="1.25" stroke-linejoin="round" stroke-linecap="round" stroke-dasharray="3.8,1.9" stroke-linecap="butt"/>
<circle cx="354.5" cy="292.49" r="3" fill="#000"/>
<circle cx="535.1" cy="338.06" r="3" fill="#000"/>
<circle cx="595.3" cy="322.96" r="3" fill="#000"/>
<circle cx="655.5" cy="269.98" r="3" fill="#000"/>
<line x1="62" y1="115.5" x2="62" y2="113.7" stroke="#555555" stroke-width="0.8"/>
<line x1="62" y1="16.2" x2="62" y2="18" stroke="#555555" stroke-width="0.8"/>
<line x1="92.3" y1="115.5" x2="92.3" y2="113.7" stroke="#555555" stroke-width="0.8"/>
<line x1="92.3" y1="16.2" x2="92.3" y2="18" stroke="#555555" stroke-width="0.8"/>
<line x1="122.6" y1="115.5" x2="122.6" y2="113.7" stroke="#555555" stroke-width="0.8"/>
<line x1="122.6" y1="16.2" x2="122.6" y2="18" stroke="#555555" stroke-width="0.8"/>
<line x1="42" y1="109.9" x2="43.8" y2="109.9" stroke="#555555" stroke-width="0.8"/>
<line x1="142.5" y1="109.9" x2="140.7" y2="109.9" stroke="#555555" stroke-width="0.8"/>
<line x1="42" y1="87.9" x2="43.8" y2="87.9" stroke="#555555" stroke-width="0.8"/>
<line x1="142.5" y1="87.9" x2="140.7" y2="87.9" stroke="#555555" stroke-width="0.8"/>
<line x1="42" y1="65.9" x2="43.8" y2="65.9" stroke="#555555" stroke-width="0.8"/>
<line x1="142.5" y1="65.9" x2="140.7" y2="65.9" stroke="#555555" stroke-width="0.8"/>
<line x1="42" y1="43.9" x2="43.8" y2="43.9" stroke="#555555" stroke-width="0.8"/>
<line x1="142.5" y1="43.9" x2="140.7" y2="43.9" stroke="#555555" stroke-width="0.8"/>
<line x1="42" y1="21.9" x2="43.8" y2="21.9" stroke="#555555" stroke-width="0.8"/>
<line x1="142.5" y1="21.9" x2="140.7" y2="21.9" stroke="#555555" stroke-width="0.8"/>
<rect x="42" y="16.2" width="100.5" height="99.3" fill="none" stroke="#555555" stroke-width="0.95"/>
<line x1="182.3" y1="115.5" x2="182.3" y2="113.7" stroke="#555555" stroke-width="0.8"/>
<line x1="182.3" y1="16.2" x2="182.3" y2="18" stroke="#555555" stroke-width="0.8"/>
<line x1="212.8" y1="115.5" x2="212.8" y2="113.7" stroke="#555555" stroke-width="0.8"/>
<line x1="212.8" y1="16.2" x2="212.8" y2="18" stroke="#555555" stroke-width="0.8"/>
<line x1="243.3" y1="115.5" x2="243.3" y2="113.7" stroke="#555555" stroke-width="0.8"/>
<line x1="243.3" y1="16.2" x2="243.3" y2="18" stroke="#555555" stroke-width="0.8"/>
<line x1="162.5" y1="109.9" x2="164.3" y2="109.9" stroke="#555555" stroke-width="0.8"/>
<line x1="263" y1="109.9" x2="261.2" y2="109.9" stroke="#555555" stroke-width="0.8"/>
<line x1="162.5" y1="87.9" x2="164.3" y2="87.9" stroke="#555555" stroke-width="0.8"/>
<line x1="263" y1="87.9" x2="261.2" y2="87.9" stroke="#555555" stroke-width="0.8"/>
<line x1="162.5" y1="65.9" x2="164.3" y2="65.9" stroke="#555555" stroke-width="0.8"/>
<line x1="263" y1="65.9" x2="261.2" y2="65.9" stroke="#555555" stroke-width="0.8"/>
<line x1="162.5" y1="43.9" x2="164.3" y2="43.9" stroke="#555555" stroke-width="0.8"/>
<line x1="263" y1="43.9" x2="261.2" y2="43.9" stroke="#555555" stroke-width="0.8"/>
<line x1="162.5" y1="21.9" x2="164.3" y2="21.9" stroke="#555555" stroke-width="0.8"/>
<line x1="263" y1="21.9" x2="261.2" y2="21.9" stroke="#555555" stroke-width="0.8"/>
<rect x="162.5" y="16.2" width="100.5" height="99.3" fill="none" stroke="#555555" stroke-width="0.95"/>
<line x1="356.3" y1="115.5" x2="356.3" y2="113.7" stroke="#555555" stroke-width="0.8"/>
<line x1="356.3" y1="16.2" x2="356.3" y2="18" stroke="#555555" stroke-width="0.8"/>
<line x1="386.8" y1="115.5" x2="386.8" y2="113.7" stroke="#555555" stroke-width="0.8"/>
<line x1="386.8" y1="16.2" x2="386.8" y2="18" stroke="#555555" stroke-width="0.8"/>
<line x1="417.3" y1="115.5" x2="417.3" y2="113.7" stroke="#555555" stroke-width="0.8"/>
<line x1="417.3" y1="16.2" x2="417.3" y2="18" stroke="#555555" stroke-width="0.8"/>
<line x1="336.5" y1="108.4" x2="338.3" y2="108.4" stroke="#555555" stroke-width="0.8"/>
<line x1="437.3" y1="108.4" x2="435.5" y2="108.4" stroke="#555555" stroke-width="0.8"/>
<line x1="336.5" y1="87.12" x2="338.3" y2="87.12" stroke="#555555" stroke-width="0.8"/>
<line x1="437.3" y1="87.12" x2="435.5" y2="87.12" stroke="#555555" stroke-width="0.8"/>
<line x1="336.5" y1="65.85" x2="338.3" y2="65.85" stroke="#555555" stroke-width="0.8"/>
<line x1="437.3" y1="65.85" x2="435.5" y2="65.85" stroke="#555555" stroke-width="0.8"/>
<line x1="336.5" y1="44.57" x2="338.3" y2="44.57" stroke="#555555" stroke-width="0.8"/>
<line x1="437.3" y1="44.57" x2="435.5" y2="44.57" stroke="#555555" stroke-width="0.8"/>
<line x1="336.5" y1="23.3" x2="338.3" y2="23.3" stroke="#555555" stroke-width="0.8"/>
<line x1="437.3" y1="23.3" x2="435.5" y2="23.3" stroke="#555555" stroke-width="0.8"/>
<rect x="336.5" y="16.2" width="100.8" height="99.3" fill="none" stroke="#555555" stroke-width="0.95"/>
<line x1="477.4" y1="115.5" x2="477.4" y2="113.7" stroke="#555555" stroke-width="0.8"/>
<line x1="477.4" y1="16.2" x2="477.4" y2="18" stroke="#555555" stroke-width="0.8"/>
<line x1="507.9" y1="115.5" x2="507.9" y2="113.7" stroke="#555555" stroke-width="0.8"/>
<line x1="507.9" y1="16.2" x2="507.9" y2="18" stroke="#555555" stroke-width="0.8"/>
<line x1="538.4" y1="115.5" x2="538.4" y2="113.7" stroke="#555555" stroke-width="0.8"/>
<line x1="538.4" y1="16.2" x2="538.4" y2="18" stroke="#555555" stroke-width="0.8"/>
<line x1="457.5" y1="108.4" x2="459.3" y2="108.4" stroke="#555555" stroke-width="0.8"/>
<line x1="558.3" y1="108.4" x2="556.5" y2="108.4" stroke="#555555" stroke-width="0.8"/>
<line x1="457.5" y1="87.12" x2="459.3" y2="87.12" stroke="#555555" stroke-width="0.8"/>
<line x1="558.3" y1="87.12" x2="556.5" y2="87.12" stroke="#555555" stroke-width="0.8"/>
<line x1="457.5" y1="65.85" x2="459.3" y2="65.85" stroke="#555555" stroke-width="0.8"/>
<line x1="558.3" y1="65.85" x2="556.5" y2="65.85" stroke="#555555" stroke-width="0.8"/>
<line x1="457.5" y1="44.57" x2="459.3" y2="44.57" stroke="#555555" stroke-width="0.8"/>
<line x1="558.3" y1="44.57" x2="556.5" y2="44.57" stroke="#555555" stroke-width="0.8"/>
<line x1="457.5" y1="23.3" x2="459.3" y2="23.3" stroke="#555555" stroke-width="0.8"/>
<line x1="558.3" y1="23.3" x2="556.5" y2="23.3" stroke="#555555" stroke-width="0.8"/>
<rect x="457.5" y="16.2" width="100.8" height="99.3" fill="none" stroke="#555555" stroke-width="0.95"/>
<line x1="598.4" y1="115.5" x2="598.4" y2="113.7" stroke="#555555" stroke-width="0.8"/>
<line x1="598.4" y1="16.2" x2="598.4" y2="18" stroke="#555555" stroke-width="0.8"/>
<line x1="628.9" y1="115.5" x2="628.9" y2="113.7" stroke="#555555" stroke-width="0.8"/>
<line x1="628.9" y1="16.2" x2="628.9" y2="18" stroke="#555555" stroke-width="0.8"/>
<line x1="659.4" y1="115.5" x2="659.4" y2="113.7" stroke="#555555" stroke-width="0.8"/>
<line x1="659.4" y1="16.2" x2="659.4" y2="18" stroke="#555555" stroke-width="0.8"/>
<line x1="578.5" y1="108.4" x2="580.3" y2="108.4" stroke="#555555" stroke-width="0.8"/>
<line x1="679.3" y1="108.4" x2="677.5" y2="108.4" stroke="#555555" stroke-width="0.8"/>
<line x1="578.5" y1="87.12" x2="580.3" y2="87.12" stroke="#555555" stroke-width="0.8"/>
<line x1="679.3" y1="87.12" x2="677.5" y2="87.12" stroke="#555555" stroke-width="0.8"/>
<line x1="578.5" y1="65.85" x2="580.3" y2="65.85" stroke="#555555" stroke-width="0.8"/>
<line x1="679.3" y1="65.85" x2="677.5" y2="65.85" stroke="#555555" stroke-width="0.8"/>
<line x1="578.5" y1="44.57" x2="580.3" y2="44.57" stroke="#555555" stroke-width="0.8"/>
<line x1="679.3" y1="44.57" x2="677.5" y2="44.57" stroke="#555555" stroke-width="0.8"/>
<line x1="578.5" y1="23.3" x2="580.3" y2="23.3" stroke="#555555" stroke-width="0.8"/>
<line x1="679.3" y1="23.3" x2="677.5" y2="23.3" stroke="#555555" stroke-width="0.8"/>
<rect x="578.5" y="16.2" width="100.8" height="99.3" fill="none" stroke="#555555" stroke-width="0.95"/>
<line x1="92.5" y1="235.3" x2="92.5" y2="233.5" stroke="#555555" stroke-width="0.8"/>
<line x1="92.5" y1="135.5" x2="92.5" y2="137.3" stroke="#555555" stroke-width="0.8"/>
<line x1="42" y1="229.4" x2="43.8" y2="229.4" stroke="#555555" stroke-width="0.8"/>
<line x1="142.5" y1="229.4" x2="140.7" y2="229.4" stroke="#555555" stroke-width="0.8"/>
<line x1="42" y1="207.4" x2="43.8" y2="207.4" stroke="#555555" stroke-width="0.8"/>
<line x1="142.5" y1="207.4" x2="140.7" y2="207.4" stroke="#555555" stroke-width="0.8"/>
<line x1="42" y1="185.4" x2="43.8" y2="185.4" stroke="#555555" stroke-width="0.8"/>
<line x1="142.5" y1="185.4" x2="140.7" y2="185.4" stroke="#555555" stroke-width="0.8"/>
<line x1="42" y1="163.4" x2="43.8" y2="163.4" stroke="#555555" stroke-width="0.8"/>
<line x1="142.5" y1="163.4" x2="140.7" y2="163.4" stroke="#555555" stroke-width="0.8"/>
<line x1="42" y1="141.4" x2="43.8" y2="141.4" stroke="#555555" stroke-width="0.8"/>
<line x1="142.5" y1="141.4" x2="140.7" y2="141.4" stroke="#555555" stroke-width="0.8"/>
<rect x="42" y="135.5" width="100.5" height="99.8" fill="none" stroke="#555555" stroke-width="0.95"/>
<line x1="212.75" y1="235.3" x2="212.75" y2="233.5" stroke="#555555" stroke-width="0.8"/>
<line x1="212.75" y1="135.5" x2="212.75" y2="137.3" stroke="#555555" stroke-width="0.8"/>
<line x1="162.5" y1="229.4" x2="164.3" y2="229.4" stroke="#555555" stroke-width="0.8"/>
<line x1="263" y1="229.4" x2="261.2" y2="229.4" stroke="#555555" stroke-width="0.8"/>
<line x1="162.5" y1="207.4" x2="164.3" y2="207.4" stroke="#555555" stroke-width="0.8"/>
<line x1="263" y1="207.4" x2="261.2" y2="207.4" stroke="#555555" stroke-width="0.8"/>
<line x1="162.5" y1="185.4" x2="164.3" y2="185.4" stroke="#555555" stroke-width="0.8"/>
<line x1="263" y1="185.4" x2="261.2" y2="185.4" stroke="#555555" stroke-width="0.8"/>
<line x1="162.5" y1="163.4" x2="164.3" y2="163.4" stroke="#555555" stroke-width="0.8"/>
<line x1="263" y1="163.4" x2="261.2" y2="163.4" stroke="#555555" stroke-width="0.8"/>
<line x1="162.5" y1="141.4" x2="164.3" y2="141.4" stroke="#555555" stroke-width="0.8"/>
<line x1="263" y1="141.4" x2="261.2" y2="141.4" stroke="#555555" stroke-width="0.8"/>
<rect x="162.5" y="135.5" width="100.5" height="99.8" fill="none" stroke="#555555" stroke-width="0.95"/>
<line x1="386.9" y1="235.3" x2="386.9" y2="233.5" stroke="#555555" stroke-width="0.8"/>
<line x1="386.9" y1="135.5" x2="386.9" y2="137.3" stroke="#555555" stroke-width="0.8"/>
<line x1="336.5" y1="228.15" x2="338.3" y2="228.15" stroke="#555555" stroke-width="0.8"/>
<line x1="437.3" y1="228.15" x2="435.5" y2="228.15" stroke="#555555" stroke-width="0.8"/>
<line x1="336.5" y1="206.88" x2="338.3" y2="206.88" stroke="#555555" stroke-width="0.8"/>
<line x1="437.3" y1="206.88" x2="435.5" y2="206.88" stroke="#555555" stroke-width="0.8"/>
<line x1="336.5" y1="185.6" x2="338.3" y2="185.6" stroke="#555555" stroke-width="0.8"/>
<line x1="437.3" y1="185.6" x2="435.5" y2="185.6" stroke="#555555" stroke-width="0.8"/>
<line x1="336.5" y1="164.32" x2="338.3" y2="164.32" stroke="#555555" stroke-width="0.8"/>
<line x1="437.3" y1="164.32" x2="435.5" y2="164.32" stroke="#555555" stroke-width="0.8"/>
<line x1="336.5" y1="143.05" x2="338.3" y2="143.05" stroke="#555555" stroke-width="0.8"/>
<line x1="437.3" y1="143.05" x2="435.5" y2="143.05" stroke="#555555" stroke-width="0.8"/>
<rect x="336.5" y="135.5" width="100.8" height="99.8" fill="none" stroke="#555555" stroke-width="0.95"/>
<line x1="507.9" y1="235.3" x2="507.9" y2="233.5" stroke="#555555" stroke-width="0.8"/>
<line x1="507.9" y1="135.5" x2="507.9" y2="137.3" stroke="#555555" stroke-width="0.8"/>
<line x1="457.5" y1="228.15" x2="459.3" y2="228.15" stroke="#555555" stroke-width="0.8"/>
<line x1="558.3" y1="228.15" x2="556.5" y2="228.15" stroke="#555555" stroke-width="0.8"/>
<line x1="457.5" y1="206.88" x2="459.3" y2="206.88" stroke="#555555" stroke-width="0.8"/>
<line x1="558.3" y1="206.88" x2="556.5" y2="206.88" stroke="#555555" stroke-width="0.8"/>
<line x1="457.5" y1="185.6" x2="459.3" y2="185.6" stroke="#555555" stroke-width="0.8"/>
<line x1="558.3" y1="185.6" x2="556.5" y2="185.6" stroke="#555555" stroke-width="0.8"/>
<line x1="457.5" y1="164.32" x2="459.3" y2="164.32" stroke="#555555" stroke-width="0.8"/>
<line x1="558.3" y1="164.32" x2="556.5" y2="164.32" stroke="#555555" stroke-width="0.8"/>
<line x1="457.5" y1="143.05" x2="459.3" y2="143.05" stroke="#555555" stroke-width="0.8"/>
<line x1="558.3" y1="143.05" x2="556.5" y2="143.05" stroke="#555555" stroke-width="0.8"/>
<rect x="457.5" y="135.5" width="100.8" height="99.8" fill="none" stroke="#555555" stroke-width="0.95"/>
<line x1="628.9" y1="235.3" x2="628.9" y2="233.5" stroke="#555555" stroke-width="0.8"/>
<line x1="628.9" y1="135.5" x2="628.9" y2="137.3" stroke="#555555" stroke-width="0.8"/>
<line x1="578.5" y1="228.15" x2="580.3" y2="228.15" stroke="#555555" stroke-width="0.8"/>
<line x1="679.3" y1="228.15" x2="677.5" y2="228.15" stroke="#555555" stroke-width="0.8"/>
<line x1="578.5" y1="206.88" x2="580.3" y2="206.88" stroke="#555555" stroke-width="0.8"/>
<line x1="679.3" y1="206.88" x2="677.5" y2="206.88" stroke="#555555" stroke-width="0.8"/>
<line x1="578.5" y1="185.6" x2="580.3" y2="185.6" stroke="#555555" stroke-width="0.8"/>
<line x1="679.3" y1="185.6" x2="677.5" y2="185.6" stroke="#555555" stroke-width="0.8"/>
<line x1="578.5" y1="164.32" x2="580.3" y2="164.32" stroke="#555555" stroke-width="0.8"/>
<line x1="679.3" y1="164.32" x2="677.5" y2="164.32" stroke="#555555" stroke-width="0.8"/>
<line x1="578.5" y1="143.05" x2="580.3" y2="143.05" stroke="#555555" stroke-width="0.8"/>
<line x1="679.3" y1="143.05" x2="677.5" y2="143.05" stroke="#555555" stroke-width="0.8"/>
<rect x="578.5" y="135.5" width="100.8" height="99.8" fill="none" stroke="#555555" stroke-width="0.95"/>
<line x1="54.6" y1="350.35" x2="54.6" y2="348.55" stroke="#555555" stroke-width="0.8"/>
<line x1="54.6" y1="265.9" x2="54.6" y2="267.7" stroke="#555555" stroke-width="0.8"/>
<line x1="94.7" y1="350.35" x2="94.7" y2="348.55" stroke="#555555" stroke-width="0.8"/>
<line x1="94.7" y1="265.9" x2="94.7" y2="267.7" stroke="#555555" stroke-width="0.8"/>
<line x1="134.8" y1="350.35" x2="134.8" y2="348.55" stroke="#555555" stroke-width="0.8"/>
<line x1="134.8" y1="265.9" x2="134.8" y2="267.7" stroke="#555555" stroke-width="0.8"/>
<line x1="174.9" y1="350.35" x2="174.9" y2="348.55" stroke="#555555" stroke-width="0.8"/>
<line x1="174.9" y1="265.9" x2="174.9" y2="267.7" stroke="#555555" stroke-width="0.8"/>
<line x1="215" y1="350.35" x2="215" y2="348.55" stroke="#555555" stroke-width="0.8"/>
<line x1="215" y1="265.9" x2="215" y2="267.7" stroke="#555555" stroke-width="0.8"/>
<line x1="255.1" y1="350.35" x2="255.1" y2="348.55" stroke="#555555" stroke-width="0.8"/>
<line x1="255.1" y1="265.9" x2="255.1" y2="267.7" stroke="#555555" stroke-width="0.8"/>
<line x1="44.5" y1="335.6" x2="46.3" y2="335.6" stroke="#555555" stroke-width="0.8"/>
<line x1="265" y1="335.6" x2="263.2" y2="335.6" stroke="#555555" stroke-width="0.8"/>
<line x1="44.5" y1="313.4" x2="46.3" y2="313.4" stroke="#555555" stroke-width="0.8"/>
<line x1="265" y1="313.4" x2="263.2" y2="313.4" stroke="#555555" stroke-width="0.8"/>
<line x1="44.5" y1="291.2" x2="46.3" y2="291.2" stroke="#555555" stroke-width="0.8"/>
<line x1="265" y1="291.2" x2="263.2" y2="291.2" stroke="#555555" stroke-width="0.8"/>
<line x1="44.5" y1="269" x2="46.3" y2="269" stroke="#555555" stroke-width="0.8"/>
<line x1="265" y1="269" x2="263.2" y2="269" stroke="#555555" stroke-width="0.8"/>
<rect x="44.5" y="265.9" width="220.5" height="84.45" fill="none" stroke="#555555" stroke-width="0.95"/>
<line x1="354.5" y1="350.4" x2="354.5" y2="348.6" stroke="#555555" stroke-width="0.8"/>
<line x1="354.5" y1="266.6" x2="354.5" y2="268.4" stroke="#555555" stroke-width="0.8"/>
<line x1="414.7" y1="350.4" x2="414.7" y2="348.6" stroke="#555555" stroke-width="0.8"/>
<line x1="414.7" y1="266.6" x2="414.7" y2="268.4" stroke="#555555" stroke-width="0.8"/>
<line x1="474.9" y1="350.4" x2="474.9" y2="348.6" stroke="#555555" stroke-width="0.8"/>
<line x1="474.9" y1="266.6" x2="474.9" y2="268.4" stroke="#555555" stroke-width="0.8"/>
<line x1="535.1" y1="350.4" x2="535.1" y2="348.6" stroke="#555555" stroke-width="0.8"/>
<line x1="535.1" y1="266.6" x2="535.1" y2="268.4" stroke="#555555" stroke-width="0.8"/>
<line x1="595.3" y1="350.4" x2="595.3" y2="348.6" stroke="#555555" stroke-width="0.8"/>
<line x1="595.3" y1="266.6" x2="595.3" y2="268.4" stroke="#555555" stroke-width="0.8"/>
<line x1="655.5" y1="350.4" x2="655.5" y2="348.6" stroke="#555555" stroke-width="0.8"/>
<line x1="655.5" y1="266.6" x2="655.5" y2="268.4" stroke="#555555" stroke-width="0.8"/>
<line x1="339.5" y1="342.45" x2="341.3" y2="342.45" stroke="#555555" stroke-width="0.8"/>
<line x1="670.5" y1="342.45" x2="668.7" y2="342.45" stroke="#555555" stroke-width="0.8"/>
<line x1="339.5" y1="315" x2="341.3" y2="315" stroke="#555555" stroke-width="0.8"/>
<line x1="670.5" y1="315" x2="668.7" y2="315" stroke="#555555" stroke-width="0.8"/>
<line x1="339.5" y1="287.55" x2="341.3" y2="287.55" stroke="#555555" stroke-width="0.8"/>
<line x1="670.5" y1="287.55" x2="668.7" y2="287.55" stroke="#555555" stroke-width="0.8"/>
<rect x="339.5" y="266.6" width="331" height="83.8" fill="none" stroke="#555555" stroke-width="0.95"/>
<text x="62" y="124" font-size="8.1" text-anchor="middle" fill="#2e2e2e" stroke="#2e2e2e" stroke-width="0.2" textLength="10.61" lengthAdjust="spacingAndGlyphs">&#8722;1</text>
<text x="92.3" y="124" font-size="8.1" text-anchor="middle" fill="#2e2e2e" stroke="#2e2e2e" stroke-width="0.2" textLength="4.58" lengthAdjust="spacingAndGlyphs">0</text>
<text x="122.6" y="124" font-size="8.1" text-anchor="middle" fill="#2e2e2e" stroke="#2e2e2e" stroke-width="0.2" textLength="4.58" lengthAdjust="spacingAndGlyphs">1</text>
<text x="182.3" y="124" font-size="8.1" text-anchor="middle" fill="#2e2e2e" stroke="#2e2e2e" stroke-width="0.2" textLength="10.61" lengthAdjust="spacingAndGlyphs">&#8722;1</text>
<text x="212.8" y="124" font-size="8.1" text-anchor="middle" fill="#2e2e2e" stroke="#2e2e2e" stroke-width="0.2" textLength="4.58" lengthAdjust="spacingAndGlyphs">0</text>
<text x="243.3" y="124" font-size="8.1" text-anchor="middle" fill="#2e2e2e" stroke="#2e2e2e" stroke-width="0.2" textLength="4.58" lengthAdjust="spacingAndGlyphs">1</text>
<text x="356.3" y="124" font-size="8.1" text-anchor="middle" fill="#2e2e2e" stroke="#2e2e2e" stroke-width="0.2" textLength="10.61" lengthAdjust="spacingAndGlyphs">&#8722;1</text>
<text x="386.8" y="124" font-size="8.1" text-anchor="middle" fill="#2e2e2e" stroke="#2e2e2e" stroke-width="0.2" textLength="4.58" lengthAdjust="spacingAndGlyphs">0</text>
<text x="417.3" y="124" font-size="8.1" text-anchor="middle" fill="#2e2e2e" stroke="#2e2e2e" stroke-width="0.2" textLength="4.58" lengthAdjust="spacingAndGlyphs">1</text>
<text x="477.4" y="124" font-size="8.1" text-anchor="middle" fill="#2e2e2e" stroke="#2e2e2e" stroke-width="0.2" textLength="10.61" lengthAdjust="spacingAndGlyphs">&#8722;1</text>
<text x="507.9" y="124" font-size="8.1" text-anchor="middle" fill="#2e2e2e" stroke="#2e2e2e" stroke-width="0.2" textLength="4.58" lengthAdjust="spacingAndGlyphs">0</text>
<text x="538.4" y="124" font-size="8.1" text-anchor="middle" fill="#2e2e2e" stroke="#2e2e2e" stroke-width="0.2" textLength="4.58" lengthAdjust="spacingAndGlyphs">1</text>
<text x="598.4" y="124" font-size="8.1" text-anchor="middle" fill="#2e2e2e" stroke="#2e2e2e" stroke-width="0.2" textLength="10.61" lengthAdjust="spacingAndGlyphs">&#8722;1</text>
<text x="628.9" y="124" font-size="8.1" text-anchor="middle" fill="#2e2e2e" stroke="#2e2e2e" stroke-width="0.2" textLength="4.58" lengthAdjust="spacingAndGlyphs">0</text>
<text x="659.4" y="124" font-size="8.1" text-anchor="middle" fill="#2e2e2e" stroke="#2e2e2e" stroke-width="0.2" textLength="4.58" lengthAdjust="spacingAndGlyphs">1</text>
<text x="42.5" y="242.9" font-size="8.1" text-anchor="middle" fill="#2e2e2e" stroke="#2e2e2e" stroke-width="0.2" textLength="17.48" lengthAdjust="spacingAndGlyphs">&#8722;0.1</text>
<text x="92.5" y="242.9" font-size="8.1" text-anchor="middle" fill="#2e2e2e" stroke="#2e2e2e" stroke-width="0.2" textLength="11.45" lengthAdjust="spacingAndGlyphs">0.0</text>
<text x="142.5" y="242.9" font-size="8.1" text-anchor="middle" fill="#2e2e2e" stroke="#2e2e2e" stroke-width="0.2" textLength="11.45" lengthAdjust="spacingAndGlyphs">0.1</text>
<text x="162.5" y="242.9" font-size="8.1" text-anchor="middle" fill="#2e2e2e" stroke="#2e2e2e" stroke-width="0.2" textLength="17.48" lengthAdjust="spacingAndGlyphs">&#8722;0.1</text>
<text x="212.75" y="242.9" font-size="8.1" text-anchor="middle" fill="#2e2e2e" stroke="#2e2e2e" stroke-width="0.2" textLength="11.45" lengthAdjust="spacingAndGlyphs">0.0</text>
<text x="263" y="242.9" font-size="8.1" text-anchor="middle" fill="#2e2e2e" stroke="#2e2e2e" stroke-width="0.2" textLength="11.45" lengthAdjust="spacingAndGlyphs">0.1</text>
<text x="336.5" y="242.9" font-size="8.1" text-anchor="middle" fill="#2e2e2e" stroke="#2e2e2e" stroke-width="0.2" textLength="17.48" lengthAdjust="spacingAndGlyphs">&#8722;0.1</text>
<text x="386.9" y="242.9" font-size="8.1" text-anchor="middle" fill="#2e2e2e" stroke="#2e2e2e" stroke-width="0.2" textLength="11.45" lengthAdjust="spacingAndGlyphs">0.0</text>
<text x="437.3" y="242.9" font-size="8.1" text-anchor="middle" fill="#2e2e2e" stroke="#2e2e2e" stroke-width="0.2" textLength="11.45" lengthAdjust="spacingAndGlyphs">0.1</text>
<text x="457.5" y="242.9" font-size="8.1" text-anchor="middle" fill="#2e2e2e" stroke="#2e2e2e" stroke-width="0.2" textLength="17.48" lengthAdjust="spacingAndGlyphs">&#8722;0.1</text>
<text x="507.9" y="242.9" font-size="8.1" text-anchor="middle" fill="#2e2e2e" stroke="#2e2e2e" stroke-width="0.2" textLength="11.45" lengthAdjust="spacingAndGlyphs">0.0</text>
<text x="558.3" y="242.9" font-size="8.1" text-anchor="middle" fill="#2e2e2e" stroke="#2e2e2e" stroke-width="0.2" textLength="11.45" lengthAdjust="spacingAndGlyphs">0.1</text>
<text x="578.5" y="242.9" font-size="8.1" text-anchor="middle" fill="#2e2e2e" stroke="#2e2e2e" stroke-width="0.2" textLength="17.48" lengthAdjust="spacingAndGlyphs">&#8722;0.1</text>
<text x="628.9" y="242.9" font-size="8.1" text-anchor="middle" fill="#2e2e2e" stroke="#2e2e2e" stroke-width="0.2" textLength="11.45" lengthAdjust="spacingAndGlyphs">0.0</text>
<text x="679.3" y="242.9" font-size="8.1" text-anchor="middle" fill="#2e2e2e" stroke="#2e2e2e" stroke-width="0.2" textLength="11.45" lengthAdjust="spacingAndGlyphs">0.1</text>
<text x="39.8" y="24.8" font-size="8.1" text-anchor="end" fill="#2e2e2e" stroke="#2e2e2e" stroke-width="0.2" textLength="11.45" lengthAdjust="spacingAndGlyphs">1.0</text>
<text x="39.8" y="46.8" font-size="8.1" text-anchor="end" fill="#2e2e2e" stroke="#2e2e2e" stroke-width="0.2" textLength="11.45" lengthAdjust="spacingAndGlyphs">0.5</text>
<text x="39.8" y="68.8" font-size="8.1" text-anchor="end" fill="#2e2e2e" stroke="#2e2e2e" stroke-width="0.2" textLength="11.45" lengthAdjust="spacingAndGlyphs">0.0</text>
<text x="39.8" y="90.8" font-size="8.1" text-anchor="end" fill="#2e2e2e" stroke="#2e2e2e" stroke-width="0.2" textLength="17.48" lengthAdjust="spacingAndGlyphs">&#8722;0.5</text>
<text x="39.8" y="112.8" font-size="8.1" text-anchor="end" fill="#2e2e2e" stroke="#2e2e2e" stroke-width="0.2" textLength="17.48" lengthAdjust="spacingAndGlyphs">&#8722;1.0</text>
<text x="39.8" y="144.3" font-size="8.1" text-anchor="end" fill="#2e2e2e" stroke="#2e2e2e" stroke-width="0.2" textLength="11.45" lengthAdjust="spacingAndGlyphs">1.0</text>
<text x="39.8" y="166.3" font-size="8.1" text-anchor="end" fill="#2e2e2e" stroke="#2e2e2e" stroke-width="0.2" textLength="11.45" lengthAdjust="spacingAndGlyphs">0.5</text>
<text x="39.8" y="188.3" font-size="8.1" text-anchor="end" fill="#2e2e2e" stroke="#2e2e2e" stroke-width="0.2" textLength="11.45" lengthAdjust="spacingAndGlyphs">0.0</text>
<text x="39.8" y="210.3" font-size="8.1" text-anchor="end" fill="#2e2e2e" stroke="#2e2e2e" stroke-width="0.2" textLength="17.48" lengthAdjust="spacingAndGlyphs">&#8722;0.5</text>
<text x="39.8" y="232.3" font-size="8.1" text-anchor="end" fill="#2e2e2e" stroke="#2e2e2e" stroke-width="0.2" textLength="17.48" lengthAdjust="spacingAndGlyphs">&#8722;1.0</text>
<text x="334" y="26.2" font-size="8.1" text-anchor="end" fill="#2e2e2e" stroke="#2e2e2e" stroke-width="0.2" textLength="11.45" lengthAdjust="spacingAndGlyphs">1.0</text>
<text x="334" y="47.47" font-size="8.1" text-anchor="end" fill="#2e2e2e" stroke="#2e2e2e" stroke-width="0.2" textLength="11.45" lengthAdjust="spacingAndGlyphs">0.5</text>
<text x="334" y="68.75" font-size="8.1" text-anchor="end" fill="#2e2e2e" stroke="#2e2e2e" stroke-width="0.2" textLength="11.45" lengthAdjust="spacingAndGlyphs">0.0</text>
<text x="334" y="90.03" font-size="8.1" text-anchor="end" fill="#2e2e2e" stroke="#2e2e2e" stroke-width="0.2" textLength="17.48" lengthAdjust="spacingAndGlyphs">&#8722;0.5</text>
<text x="334" y="111.3" font-size="8.1" text-anchor="end" fill="#2e2e2e" stroke="#2e2e2e" stroke-width="0.2" textLength="17.48" lengthAdjust="spacingAndGlyphs">&#8722;1.0</text>
<text x="334" y="145.95" font-size="8.1" text-anchor="end" fill="#2e2e2e" stroke="#2e2e2e" stroke-width="0.2" textLength="11.45" lengthAdjust="spacingAndGlyphs">1.0</text>
<text x="334" y="167.22" font-size="8.1" text-anchor="end" fill="#2e2e2e" stroke="#2e2e2e" stroke-width="0.2" textLength="11.45" lengthAdjust="spacingAndGlyphs">0.5</text>
<text x="334" y="188.5" font-size="8.1" text-anchor="end" fill="#2e2e2e" stroke="#2e2e2e" stroke-width="0.2" textLength="11.45" lengthAdjust="spacingAndGlyphs">0.0</text>
<text x="334" y="209.78" font-size="8.1" text-anchor="end" fill="#2e2e2e" stroke="#2e2e2e" stroke-width="0.2" textLength="17.48" lengthAdjust="spacingAndGlyphs">&#8722;0.5</text>
<text x="334" y="231.05" font-size="8.1" text-anchor="end" fill="#2e2e2e" stroke="#2e2e2e" stroke-width="0.2" textLength="17.48" lengthAdjust="spacingAndGlyphs">&#8722;1.0</text>
<text x="54.6" y="358" font-size="8.1" text-anchor="middle" fill="#2e2e2e" stroke="#2e2e2e" stroke-width="0.2" textLength="9.16" lengthAdjust="spacingAndGlyphs">19</text>
<text x="94.7" y="358" font-size="8.1" text-anchor="middle" fill="#2e2e2e" stroke="#2e2e2e" stroke-width="0.2" textLength="9.16" lengthAdjust="spacingAndGlyphs">20</text>
<text x="134.8" y="358" font-size="8.1" text-anchor="middle" fill="#2e2e2e" stroke="#2e2e2e" stroke-width="0.2" textLength="9.16" lengthAdjust="spacingAndGlyphs">21</text>
<text x="174.9" y="358" font-size="8.1" text-anchor="middle" fill="#2e2e2e" stroke="#2e2e2e" stroke-width="0.2" textLength="9.16" lengthAdjust="spacingAndGlyphs">22</text>
<text x="215" y="358" font-size="8.1" text-anchor="middle" fill="#2e2e2e" stroke="#2e2e2e" stroke-width="0.2" textLength="9.16" lengthAdjust="spacingAndGlyphs">23</text>
<text x="255.1" y="358" font-size="8.1" text-anchor="middle" fill="#2e2e2e" stroke="#2e2e2e" stroke-width="0.2" textLength="9.16" lengthAdjust="spacingAndGlyphs">24</text>
<text x="41.8" y="271.9" font-size="8.1" text-anchor="end" fill="#2e2e2e" stroke="#2e2e2e" stroke-width="0.2" textLength="13.74" lengthAdjust="spacingAndGlyphs">100</text>
<text x="41.8" y="294.1" font-size="8.1" text-anchor="end" fill="#2e2e2e" stroke="#2e2e2e" stroke-width="0.2" textLength="9.16" lengthAdjust="spacingAndGlyphs">80</text>
<text x="41.8" y="316.3" font-size="8.1" text-anchor="end" fill="#2e2e2e" stroke="#2e2e2e" stroke-width="0.2" textLength="9.16" lengthAdjust="spacingAndGlyphs">60</text>
<text x="41.8" y="338.5" font-size="8.1" text-anchor="end" fill="#2e2e2e" stroke="#2e2e2e" stroke-width="0.2" textLength="9.16" lengthAdjust="spacingAndGlyphs">40</text>
<text x="354.5" y="358" font-size="8.1" text-anchor="middle" fill="#2e2e2e" stroke="#2e2e2e" stroke-width="0.2" textLength="9.16" lengthAdjust="spacingAndGlyphs">20</text>
<text x="414.7" y="358" font-size="8.1" text-anchor="middle" fill="#2e2e2e" stroke="#2e2e2e" stroke-width="0.2" textLength="9.16" lengthAdjust="spacingAndGlyphs">22</text>
<text x="474.9" y="358" font-size="8.1" text-anchor="middle" fill="#2e2e2e" stroke="#2e2e2e" stroke-width="0.2" textLength="9.16" lengthAdjust="spacingAndGlyphs">24</text>
<text x="535.1" y="358" font-size="8.1" text-anchor="middle" fill="#2e2e2e" stroke="#2e2e2e" stroke-width="0.2" textLength="9.16" lengthAdjust="spacingAndGlyphs">26</text>
<text x="595.3" y="358" font-size="8.1" text-anchor="middle" fill="#2e2e2e" stroke="#2e2e2e" stroke-width="0.2" textLength="9.16" lengthAdjust="spacingAndGlyphs">28</text>
<text x="655.5" y="358" font-size="8.1" text-anchor="middle" fill="#2e2e2e" stroke="#2e2e2e" stroke-width="0.2" textLength="9.16" lengthAdjust="spacingAndGlyphs">30</text>
<text x="336.8" y="290.45" font-size="8.1" text-anchor="end" fill="#2e2e2e" stroke="#2e2e2e" stroke-width="0.2" textLength="9.16" lengthAdjust="spacingAndGlyphs">30</text>
<text x="336.8" y="317.9" font-size="8.1" text-anchor="end" fill="#2e2e2e" stroke="#2e2e2e" stroke-width="0.2" textLength="9.16" lengthAdjust="spacingAndGlyphs">20</text>
<text x="336.8" y="345.35" font-size="8.1" text-anchor="end" fill="#2e2e2e" stroke="#2e2e2e" stroke-width="0.2" textLength="9.16" lengthAdjust="spacingAndGlyphs">10</text>
<line x1="45.8" y1="23.2" x2="58.6" y2="23.2" stroke="#ff4b1f" stroke-width="1.3"/>
<line x1="45.8" y1="31.2" x2="58.6" y2="31.2" stroke="#6495ed" stroke-width="1.3"/>
<text x="62" y="25.4" font-size="6.2" text-anchor="start" fill="#333" stroke="#333" stroke-width="0.18" textLength="11.8" lengthAdjust="spacingAndGlyphs">OOP</text>
<text x="62" y="33.4" font-size="6.2" text-anchor="start" fill="#333" stroke="#333" stroke-width="0.18" textLength="4.6" lengthAdjust="spacingAndGlyphs">IP</text>
<line x1="166.3" y1="23.2" x2="179.1" y2="23.2" stroke="#ff4b1f" stroke-width="1.3"/>
<line x1="166.3" y1="31.2" x2="179.1" y2="31.2" stroke="#6495ed" stroke-width="1.3"/>
<text x="182.5" y="25.4" font-size="6.2" text-anchor="start" fill="#333" stroke="#333" stroke-width="0.18" textLength="11.8" lengthAdjust="spacingAndGlyphs">OOP</text>
<text x="182.5" y="33.4" font-size="6.2" text-anchor="start" fill="#333" stroke="#333" stroke-width="0.18" textLength="4.6" lengthAdjust="spacingAndGlyphs">IP</text>
<line x1="45.8" y1="142.5" x2="58.6" y2="142.5" stroke="#ff4b1f" stroke-width="1.3"/>
<line x1="45.8" y1="150.5" x2="58.6" y2="150.5" stroke="#6495ed" stroke-width="1.3"/>
<text x="62" y="144.7" font-size="6.2" text-anchor="start" fill="#333" stroke="#333" stroke-width="0.18" textLength="11.8" lengthAdjust="spacingAndGlyphs">OOP</text>
<text x="62" y="152.7" font-size="6.2" text-anchor="start" fill="#333" stroke="#333" stroke-width="0.18" textLength="4.6" lengthAdjust="spacingAndGlyphs">IP</text>
<line x1="166.3" y1="142.5" x2="179.1" y2="142.5" stroke="#ff4b1f" stroke-width="1.3"/>
<line x1="166.3" y1="150.5" x2="179.1" y2="150.5" stroke="#6495ed" stroke-width="1.3"/>
<text x="182.5" y="144.7" font-size="6.2" text-anchor="start" fill="#333" stroke="#333" stroke-width="0.18" textLength="11.8" lengthAdjust="spacingAndGlyphs">OOP</text>
<text x="182.5" y="152.7" font-size="6.2" text-anchor="start" fill="#333" stroke="#333" stroke-width="0.18" textLength="4.6" lengthAdjust="spacingAndGlyphs">IP</text>
<line x1="340.3" y1="23.2" x2="353.1" y2="23.2" stroke="#e0203f" stroke-width="1.3"/>
<line x1="340.3" y1="31.2" x2="353.1" y2="31.2" stroke="#1a12a6" stroke-width="1.3"/>
<text x="356.5" y="25.4" font-size="6.2" text-anchor="start" fill="#333" stroke="#333" stroke-width="0.18" textLength="11.8" lengthAdjust="spacingAndGlyphs">OOP</text>
<text x="356.5" y="33.4" font-size="6.2" text-anchor="start" fill="#333" stroke="#333" stroke-width="0.18" textLength="4.6" lengthAdjust="spacingAndGlyphs">IP</text>
<line x1="461.3" y1="23.2" x2="474.1" y2="23.2" stroke="#e0203f" stroke-width="1.3"/>
<line x1="461.3" y1="31.2" x2="474.1" y2="31.2" stroke="#1a12a6" stroke-width="1.3"/>
<text x="477.5" y="25.4" font-size="6.2" text-anchor="start" fill="#333" stroke="#333" stroke-width="0.18" textLength="11.8" lengthAdjust="spacingAndGlyphs">OOP</text>
<text x="477.5" y="33.4" font-size="6.2" text-anchor="start" fill="#333" stroke="#333" stroke-width="0.18" textLength="4.6" lengthAdjust="spacingAndGlyphs">IP</text>
<line x1="582.3" y1="23.2" x2="595.1" y2="23.2" stroke="#e0203f" stroke-width="1.3"/>
<line x1="582.3" y1="31.2" x2="595.1" y2="31.2" stroke="#1a12a6" stroke-width="1.3"/>
<text x="598.5" y="25.4" font-size="6.2" text-anchor="start" fill="#333" stroke="#333" stroke-width="0.18" textLength="11.8" lengthAdjust="spacingAndGlyphs">OOP</text>
<text x="598.5" y="33.4" font-size="6.2" text-anchor="start" fill="#333" stroke="#333" stroke-width="0.18" textLength="4.6" lengthAdjust="spacingAndGlyphs">IP</text>
<line x1="340.3" y1="142.5" x2="353.1" y2="142.5" stroke="#e0203f" stroke-width="1.3"/>
<line x1="340.3" y1="150.5" x2="353.1" y2="150.5" stroke="#1a12a6" stroke-width="1.3"/>
<text x="356.5" y="144.7" font-size="6.2" text-anchor="start" fill="#333" stroke="#333" stroke-width="0.18" textLength="11.8" lengthAdjust="spacingAndGlyphs">OOP</text>
<text x="356.5" y="152.7" font-size="6.2" text-anchor="start" fill="#333" stroke="#333" stroke-width="0.18" textLength="4.6" lengthAdjust="spacingAndGlyphs">IP</text>
<line x1="461.3" y1="142.5" x2="474.1" y2="142.5" stroke="#e0203f" stroke-width="1.3"/>
<line x1="461.3" y1="150.5" x2="474.1" y2="150.5" stroke="#1a12a6" stroke-width="1.3"/>
<text x="477.5" y="144.7" font-size="6.2" text-anchor="start" fill="#333" stroke="#333" stroke-width="0.18" textLength="11.8" lengthAdjust="spacingAndGlyphs">OOP</text>
<text x="477.5" y="152.7" font-size="6.2" text-anchor="start" fill="#333" stroke="#333" stroke-width="0.18" textLength="4.6" lengthAdjust="spacingAndGlyphs">IP</text>
<line x1="582.3" y1="142.5" x2="595.1" y2="142.5" stroke="#e0203f" stroke-width="1.3"/>
<line x1="582.3" y1="150.5" x2="595.1" y2="150.5" stroke="#1a12a6" stroke-width="1.3"/>
<text x="598.5" y="144.7" font-size="6.2" text-anchor="start" fill="#333" stroke="#333" stroke-width="0.18" textLength="11.8" lengthAdjust="spacingAndGlyphs">OOP</text>
<text x="598.5" y="152.7" font-size="6.2" text-anchor="start" fill="#333" stroke="#333" stroke-width="0.18" textLength="4.6" lengthAdjust="spacingAndGlyphs">IP</text>
<text x="138.3" y="68.2" font-size="7.9" text-anchor="end" fill="#111" stroke="#111" stroke-width="0.2" font-weight="bold" textLength="36.8" lengthAdjust="spacingAndGlyphs">19 at.% Gd</text>
<text x="258.8" y="68.2" font-size="7.9" text-anchor="end" fill="#111" stroke="#111" stroke-width="0.2" font-weight="bold" textLength="36.8" lengthAdjust="spacingAndGlyphs">23 at.% Gd</text>
<text x="433.1" y="68.3" font-size="7.9" text-anchor="end" fill="#111" stroke="#111" stroke-width="0.2" font-weight="bold" textLength="36.8" lengthAdjust="spacingAndGlyphs">20 at.% Gd</text>
<text x="554.1" y="68.3" font-size="7.9" text-anchor="end" fill="#111" stroke="#111" stroke-width="0.2" font-weight="bold" textLength="36.8" lengthAdjust="spacingAndGlyphs">26 at.% Gd</text>
<text x="675.1" y="68.3" font-size="7.9" text-anchor="end" fill="#111" stroke="#111" stroke-width="0.2" font-weight="bold" textLength="36.8" lengthAdjust="spacingAndGlyphs">30 at.% Gd</text>
<text x="138.3" y="198.2" font-size="7.9" text-anchor="end" fill="#111" stroke="#111" stroke-width="0.2" font-weight="bold" textLength="36.8" lengthAdjust="spacingAndGlyphs">19 at.% Gd</text>
<text x="258.8" y="198.2" font-size="7.9" text-anchor="end" fill="#111" stroke="#111" stroke-width="0.2" font-weight="bold" textLength="36.8" lengthAdjust="spacingAndGlyphs">23 at.% Gd</text>
<text x="433.1" y="198.3" font-size="7.9" text-anchor="end" fill="#111" stroke="#111" stroke-width="0.2" font-weight="bold" textLength="36.8" lengthAdjust="spacingAndGlyphs">20 at.% Gd</text>
<text x="554.1" y="198.3" font-size="7.9" text-anchor="end" fill="#111" stroke="#111" stroke-width="0.2" font-weight="bold" textLength="36.8" lengthAdjust="spacingAndGlyphs">26 at.% Gd</text>
<text x="675.1" y="198.3" font-size="7.9" text-anchor="end" fill="#111" stroke="#111" stroke-width="0.2" font-weight="bold" textLength="36.8" lengthAdjust="spacingAndGlyphs">30 at.% Gd</text>
<text x="234.4" y="296" font-size="7.6" text-anchor="middle" fill="#111" stroke="#111" stroke-width="0.3" font-weight="bold" textLength="16.4" lengthAdjust="spacingAndGlyphs">PMA</text>
<text x="234.4" y="305.4" font-size="7.6" text-anchor="middle" fill="#111" stroke="#111" stroke-width="0.3" font-weight="bold" textLength="37.2" lengthAdjust="spacingAndGlyphs">dominated</text>
<text x="498.7" y="295" font-size="7.6" text-anchor="middle" fill="#111" stroke="#111" stroke-width="0.3" font-weight="bold" textLength="16.4" lengthAdjust="spacingAndGlyphs">PMA</text>
<text x="498.7" y="305.2" font-size="7.6" text-anchor="middle" fill="#111" stroke="#111" stroke-width="0.3" font-weight="bold" textLength="36.9" lengthAdjust="spacingAndGlyphs">dominated</text>
<text x="156.6" y="8" font-size="8.4" text-anchor="middle" fill="#111" stroke="#111" stroke-width="0.08" font-weight="bold" textLength="91.5" lengthAdjust="spacingAndGlyphs">Pt(5)/GdCoFe(40)/Al(7)</text>
<text x="508.3" y="8" font-size="8.4" text-anchor="middle" fill="#111" stroke="#111" stroke-width="0.08" font-weight="bold" textLength="91.4" lengthAdjust="spacingAndGlyphs">Al(5)/GdCoFe(10)/Al(7)</text>
<text x="1.3" y="13.9" font-size="10.6" text-anchor="start" fill="#1a1a1a" stroke="#1a1a1a" stroke-width="0.2" textLength="11.3" lengthAdjust="spacingAndGlyphs">(a)</text>
<text x="297.7" y="10.9" font-size="10.6" text-anchor="start" fill="#1a1a1a" stroke="#1a1a1a" stroke-width="0.2" textLength="12.4" lengthAdjust="spacingAndGlyphs">(b)</text>
<text x="0.6" y="266.9" font-size="10.6" text-anchor="start" fill="#1a1a1a" stroke="#1a1a1a" stroke-width="0.2" textLength="10.6" lengthAdjust="spacingAndGlyphs">(c)</text>
<text x="296.5" y="266.3" font-size="10.6" text-anchor="start" fill="#1a1a1a" stroke="#1a1a1a" stroke-width="0.2" textLength="12.4" lengthAdjust="spacingAndGlyphs">(d)</text>
<text x="92.25" y="253.25" font-size="8.7" text-anchor="middle" fill="#222" stroke="#222" stroke-width="0.2" textLength="74.8" lengthAdjust="spacingAndGlyphs">Magnetic Field (T)</text>
<text x="212.75" y="253.25" font-size="8.7" text-anchor="middle" fill="#222" stroke="#222" stroke-width="0.2" textLength="74.8" lengthAdjust="spacingAndGlyphs">Magnetic Field (T)</text>
<text x="386.9" y="253.25" font-size="8.7" text-anchor="middle" fill="#222" stroke="#222" stroke-width="0.2" textLength="74.8" lengthAdjust="spacingAndGlyphs">Magnetic Field (T)</text>
<text x="507.9" y="253.25" font-size="8.7" text-anchor="middle" fill="#222" stroke="#222" stroke-width="0.2" textLength="74.8" lengthAdjust="spacingAndGlyphs">Magnetic Field (T)</text>
<text x="628.9" y="253.25" font-size="8.7" text-anchor="middle" fill="#222" stroke="#222" stroke-width="0.2" textLength="74.8" lengthAdjust="spacingAndGlyphs">Magnetic Field (T)</text>
<text x="154.75" y="368.5" font-size="8.7" text-anchor="middle" fill="#222" stroke="#222" stroke-width="0.2" textLength="103.3" lengthAdjust="spacingAndGlyphs">Gd Concentration (at.%)</text>
<text x="505" y="368.5" font-size="8.7" text-anchor="middle" fill="#222" stroke="#222" stroke-width="0.2" textLength="103.2" lengthAdjust="spacingAndGlyphs">Gd Concentration (at.%)</text>
<text transform="translate(17.7,66.2) rotate(-90)" text-anchor="middle" font-size="8.9" fill="#222" stroke="#222" stroke-width="0.25"><tspan font-style="italic">M</tspan>/<tspan font-style="italic">M</tspan><tspan font-size="6" dy="1.9">s</tspan></text>
<text transform="translate(17.7,186) rotate(-90)" text-anchor="middle" font-size="8.9" fill="#222" stroke="#222" stroke-width="0.25"><tspan font-style="italic">M</tspan>/<tspan font-style="italic">M</tspan><tspan font-size="6" dy="1.9">s</tspan></text>
<text transform="translate(311.8,66.2) rotate(-90)" text-anchor="middle" font-size="8.9" fill="#222" stroke="#222" stroke-width="0.25"><tspan font-style="italic">M</tspan>/<tspan font-style="italic">M</tspan><tspan font-size="6" dy="1.9">s</tspan></text>
<text transform="translate(311.8,186) rotate(-90)" text-anchor="middle" font-size="8.9" fill="#222" stroke="#222" stroke-width="0.25"><tspan font-style="italic">M</tspan>/<tspan font-style="italic">M</tspan><tspan font-size="6" dy="1.9">s</tspan></text>
<text transform="translate(24.2,307.4) rotate(-90)" text-anchor="middle" font-size="8.6" fill="#222" stroke="#222" stroke-width="0.2" textLength="58.6" lengthAdjust="spacingAndGlyphs"><tspan font-style="italic">M</tspan><tspan font-size="5.6" dy="1.8">s</tspan><tspan dy="-1.8"> (emu/cm</tspan><tspan font-size="5.6" dy="-3">3</tspan><tspan dy="3">)</tspan></text>
<text transform="translate(322.6,308) rotate(-90)" text-anchor="middle" font-size="8.6" fill="#222" stroke="#222" stroke-width="0.2" textLength="58.6" lengthAdjust="spacingAndGlyphs"><tspan font-style="italic">M</tspan><tspan font-size="5.6" dy="1.8">s</tspan><tspan dy="-1.8"> (emu/cm</tspan><tspan font-size="5.6" dy="-3">3</tspan><tspan dy="3">)</tspan></text>
</g>
</svg>
</body></html>
